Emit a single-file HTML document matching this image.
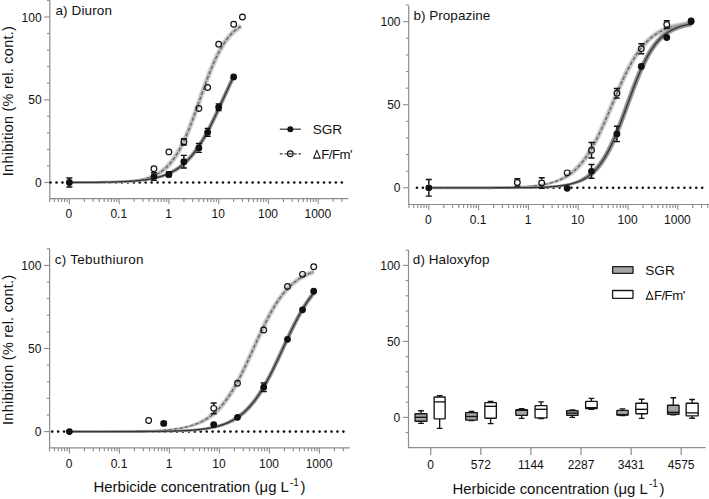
<!DOCTYPE html><html><head><meta charset="utf-8"><style>html,body{margin:0;padding:0;background:#fff;}svg{display:block;}</style></head><body>
<svg width="709" height="499" viewBox="0 0 709 499" font-family='"Liberation Sans", sans-serif' fill="#111">
<rect width="709" height="499" fill="#fff"/>
<line x1="49.8" y1="0" x2="49.8" y2="199.29999999999998" stroke="#8c8c8c" stroke-width="1.2"/>
<line x1="47.0" y1="0.45" x2="49.8" y2="0.45" stroke="#8c8c8c" stroke-width="1.1"/>
<line x1="44.199999999999996" y1="17.00" x2="49.8" y2="17.00" stroke="#8c8c8c" stroke-width="1.1"/>
<text x="41.599999999999994" y="21.60" text-anchor="end" font-size="12">100</text>
<line x1="47.0" y1="33.55" x2="49.8" y2="33.55" stroke="#8c8c8c" stroke-width="1.1"/>
<line x1="47.0" y1="50.10" x2="49.8" y2="50.10" stroke="#8c8c8c" stroke-width="1.1"/>
<line x1="47.0" y1="66.65" x2="49.8" y2="66.65" stroke="#8c8c8c" stroke-width="1.1"/>
<line x1="47.0" y1="83.20" x2="49.8" y2="83.20" stroke="#8c8c8c" stroke-width="1.1"/>
<line x1="44.199999999999996" y1="99.75" x2="49.8" y2="99.75" stroke="#8c8c8c" stroke-width="1.1"/>
<text x="41.599999999999994" y="104.35" text-anchor="end" font-size="12">50</text>
<line x1="47.0" y1="116.30" x2="49.8" y2="116.30" stroke="#8c8c8c" stroke-width="1.1"/>
<line x1="47.0" y1="132.85" x2="49.8" y2="132.85" stroke="#8c8c8c" stroke-width="1.1"/>
<line x1="47.0" y1="149.40" x2="49.8" y2="149.40" stroke="#8c8c8c" stroke-width="1.1"/>
<line x1="47.0" y1="165.95" x2="49.8" y2="165.95" stroke="#8c8c8c" stroke-width="1.1"/>
<line x1="44.199999999999996" y1="182.50" x2="49.8" y2="182.50" stroke="#8c8c8c" stroke-width="1.1"/>
<text x="41.599999999999994" y="187.10" text-anchor="end" font-size="12">0</text>
<line x1="49.199999999999996" y1="198.7" x2="348.3" y2="198.7" stroke="#8c8c8c" stroke-width="1.2"/>
<line x1="49.55" y1="198.7" x2="49.55" y2="202.1" stroke="#8c8c8c" stroke-width="1.15"/>
<line x1="54.38" y1="198.7" x2="54.38" y2="202.1" stroke="#8c8c8c" stroke-width="1.15"/>
<line x1="58.32" y1="198.7" x2="58.32" y2="202.1" stroke="#8c8c8c" stroke-width="1.15"/>
<line x1="61.65" y1="198.7" x2="61.65" y2="202.1" stroke="#8c8c8c" stroke-width="1.15"/>
<line x1="64.54" y1="198.7" x2="64.54" y2="202.1" stroke="#8c8c8c" stroke-width="1.15"/>
<line x1="67.08" y1="198.7" x2="67.08" y2="202.1" stroke="#8c8c8c" stroke-width="1.15"/>
<line x1="69.36" y1="198.7" x2="69.36" y2="204.29999999999998" stroke="#8c8c8c" stroke-width="1.1"/>
<text x="68.96" y="218.29999999999998" text-anchor="middle" font-size="12">0</text>
<line x1="84.34" y1="198.7" x2="84.34" y2="202.1" stroke="#8c8c8c" stroke-width="1.15"/>
<line x1="93.11" y1="198.7" x2="93.11" y2="202.1" stroke="#8c8c8c" stroke-width="1.15"/>
<line x1="99.32" y1="198.7" x2="99.32" y2="202.1" stroke="#8c8c8c" stroke-width="1.15"/>
<line x1="104.15" y1="198.7" x2="104.15" y2="202.1" stroke="#8c8c8c" stroke-width="1.15"/>
<line x1="108.09" y1="198.7" x2="108.09" y2="202.1" stroke="#8c8c8c" stroke-width="1.15"/>
<line x1="111.42" y1="198.7" x2="111.42" y2="202.1" stroke="#8c8c8c" stroke-width="1.15"/>
<line x1="114.31" y1="198.7" x2="114.31" y2="202.1" stroke="#8c8c8c" stroke-width="1.15"/>
<line x1="116.85" y1="198.7" x2="116.85" y2="202.1" stroke="#8c8c8c" stroke-width="1.15"/>
<line x1="119.13" y1="198.7" x2="119.13" y2="204.29999999999998" stroke="#8c8c8c" stroke-width="1.1"/>
<text x="118.73" y="218.29999999999998" text-anchor="middle" font-size="12">0.1</text>
<line x1="134.11" y1="198.7" x2="134.11" y2="202.1" stroke="#8c8c8c" stroke-width="1.15"/>
<line x1="142.88" y1="198.7" x2="142.88" y2="202.1" stroke="#8c8c8c" stroke-width="1.15"/>
<line x1="149.09" y1="198.7" x2="149.09" y2="202.1" stroke="#8c8c8c" stroke-width="1.15"/>
<line x1="153.92" y1="198.7" x2="153.92" y2="202.1" stroke="#8c8c8c" stroke-width="1.15"/>
<line x1="157.86" y1="198.7" x2="157.86" y2="202.1" stroke="#8c8c8c" stroke-width="1.15"/>
<line x1="161.19" y1="198.7" x2="161.19" y2="202.1" stroke="#8c8c8c" stroke-width="1.15"/>
<line x1="164.08" y1="198.7" x2="164.08" y2="202.1" stroke="#8c8c8c" stroke-width="1.15"/>
<line x1="166.62" y1="198.7" x2="166.62" y2="202.1" stroke="#8c8c8c" stroke-width="1.15"/>
<line x1="168.90" y1="198.7" x2="168.90" y2="204.29999999999998" stroke="#8c8c8c" stroke-width="1.1"/>
<text x="168.50" y="218.29999999999998" text-anchor="middle" font-size="12">1</text>
<line x1="183.88" y1="198.7" x2="183.88" y2="202.1" stroke="#8c8c8c" stroke-width="1.15"/>
<line x1="192.65" y1="198.7" x2="192.65" y2="202.1" stroke="#8c8c8c" stroke-width="1.15"/>
<line x1="198.86" y1="198.7" x2="198.86" y2="202.1" stroke="#8c8c8c" stroke-width="1.15"/>
<line x1="203.69" y1="198.7" x2="203.69" y2="202.1" stroke="#8c8c8c" stroke-width="1.15"/>
<line x1="207.63" y1="198.7" x2="207.63" y2="202.1" stroke="#8c8c8c" stroke-width="1.15"/>
<line x1="210.96" y1="198.7" x2="210.96" y2="202.1" stroke="#8c8c8c" stroke-width="1.15"/>
<line x1="213.85" y1="198.7" x2="213.85" y2="202.1" stroke="#8c8c8c" stroke-width="1.15"/>
<line x1="216.39" y1="198.7" x2="216.39" y2="202.1" stroke="#8c8c8c" stroke-width="1.15"/>
<line x1="218.67" y1="198.7" x2="218.67" y2="204.29999999999998" stroke="#8c8c8c" stroke-width="1.1"/>
<text x="218.27" y="218.29999999999998" text-anchor="middle" font-size="12">10</text>
<line x1="233.65" y1="198.7" x2="233.65" y2="202.1" stroke="#8c8c8c" stroke-width="1.15"/>
<line x1="242.42" y1="198.7" x2="242.42" y2="202.1" stroke="#8c8c8c" stroke-width="1.15"/>
<line x1="248.63" y1="198.7" x2="248.63" y2="202.1" stroke="#8c8c8c" stroke-width="1.15"/>
<line x1="253.46" y1="198.7" x2="253.46" y2="202.1" stroke="#8c8c8c" stroke-width="1.15"/>
<line x1="257.40" y1="198.7" x2="257.40" y2="202.1" stroke="#8c8c8c" stroke-width="1.15"/>
<line x1="260.73" y1="198.7" x2="260.73" y2="202.1" stroke="#8c8c8c" stroke-width="1.15"/>
<line x1="263.62" y1="198.7" x2="263.62" y2="202.1" stroke="#8c8c8c" stroke-width="1.15"/>
<line x1="266.16" y1="198.7" x2="266.16" y2="202.1" stroke="#8c8c8c" stroke-width="1.15"/>
<line x1="268.44" y1="198.7" x2="268.44" y2="204.29999999999998" stroke="#8c8c8c" stroke-width="1.1"/>
<text x="268.04" y="218.29999999999998" text-anchor="middle" font-size="12">100</text>
<line x1="283.42" y1="198.7" x2="283.42" y2="202.1" stroke="#8c8c8c" stroke-width="1.15"/>
<line x1="292.19" y1="198.7" x2="292.19" y2="202.1" stroke="#8c8c8c" stroke-width="1.15"/>
<line x1="298.40" y1="198.7" x2="298.40" y2="202.1" stroke="#8c8c8c" stroke-width="1.15"/>
<line x1="303.23" y1="198.7" x2="303.23" y2="202.1" stroke="#8c8c8c" stroke-width="1.15"/>
<line x1="307.17" y1="198.7" x2="307.17" y2="202.1" stroke="#8c8c8c" stroke-width="1.15"/>
<line x1="310.50" y1="198.7" x2="310.50" y2="202.1" stroke="#8c8c8c" stroke-width="1.15"/>
<line x1="313.39" y1="198.7" x2="313.39" y2="202.1" stroke="#8c8c8c" stroke-width="1.15"/>
<line x1="315.93" y1="198.7" x2="315.93" y2="202.1" stroke="#8c8c8c" stroke-width="1.15"/>
<line x1="318.21" y1="198.7" x2="318.21" y2="204.29999999999998" stroke="#8c8c8c" stroke-width="1.1"/>
<text x="317.81" y="218.29999999999998" text-anchor="middle" font-size="12">1000</text>
<line x1="333.19" y1="198.7" x2="333.19" y2="202.1" stroke="#8c8c8c" stroke-width="1.15"/>
<line x1="341.96" y1="198.7" x2="341.96" y2="202.1" stroke="#8c8c8c" stroke-width="1.15"/>
<g fill="#111"><circle cx="341.80" cy="182.50" r="1.3"/><circle cx="335.86" cy="182.50" r="1.3"/><circle cx="329.91" cy="182.50" r="1.3"/><circle cx="323.97" cy="182.50" r="1.3"/><circle cx="318.03" cy="182.50" r="1.3"/><circle cx="312.09" cy="182.50" r="1.3"/><circle cx="306.14" cy="182.50" r="1.3"/><circle cx="300.20" cy="182.50" r="1.3"/><circle cx="294.26" cy="182.50" r="1.3"/><circle cx="288.31" cy="182.50" r="1.3"/><circle cx="282.37" cy="182.50" r="1.3"/><circle cx="276.43" cy="182.50" r="1.3"/><circle cx="270.48" cy="182.50" r="1.3"/><circle cx="264.54" cy="182.50" r="1.3"/><circle cx="258.60" cy="182.50" r="1.3"/><circle cx="252.66" cy="182.50" r="1.3"/><circle cx="246.71" cy="182.50" r="1.3"/><circle cx="240.77" cy="182.50" r="1.3"/><circle cx="234.83" cy="182.50" r="1.3"/><circle cx="228.88" cy="182.50" r="1.3"/><circle cx="222.94" cy="182.50" r="1.3"/><circle cx="217.00" cy="182.50" r="1.3"/><circle cx="211.05" cy="182.50" r="1.3"/><circle cx="205.11" cy="182.50" r="1.3"/><circle cx="199.17" cy="182.50" r="1.3"/><circle cx="193.23" cy="182.50" r="1.3"/><circle cx="187.28" cy="182.50" r="1.3"/><circle cx="181.34" cy="182.50" r="1.3"/><circle cx="175.40" cy="182.50" r="1.3"/><circle cx="169.45" cy="182.50" r="1.3"/><circle cx="163.51" cy="182.50" r="1.3"/><circle cx="157.57" cy="182.50" r="1.3"/><circle cx="151.62" cy="182.50" r="1.3"/><circle cx="145.68" cy="182.50" r="1.3"/><circle cx="139.74" cy="182.50" r="1.3"/><circle cx="133.79" cy="182.50" r="1.3"/><circle cx="127.85" cy="182.50" r="1.3"/><circle cx="121.91" cy="182.50" r="1.3"/><circle cx="115.97" cy="182.50" r="1.3"/><circle cx="110.02" cy="182.50" r="1.3"/><circle cx="104.08" cy="182.50" r="1.3"/><circle cx="98.14" cy="182.50" r="1.3"/><circle cx="92.19" cy="182.50" r="1.3"/><circle cx="86.25" cy="182.50" r="1.3"/><circle cx="80.31" cy="182.50" r="1.3"/><circle cx="74.37" cy="182.50" r="1.3"/><circle cx="68.42" cy="182.50" r="1.3"/><circle cx="62.48" cy="182.50" r="1.3"/><circle cx="56.54" cy="182.50" r="1.3"/><circle cx="50.59" cy="182.50" r="1.3"/></g>
<polygon points="69.36,183.78 69.94,183.78 70.51,183.78 71.08,183.78 71.66,183.78 72.23,183.77 72.81,183.77 73.38,183.77 73.95,183.77 74.53,183.77 75.10,183.77 75.67,183.77 76.25,183.77 76.82,183.76 77.40,183.76 77.97,183.76 78.54,183.76 79.12,183.76 79.69,183.76 80.27,183.76 80.84,183.75 81.41,183.75 81.99,183.75 82.56,183.75 83.14,183.75 83.71,183.74 84.28,183.74 84.86,183.74 85.43,183.74 86.01,183.73 86.58,183.73 87.15,183.73 87.73,183.73 88.30,183.72 88.88,183.72 89.45,183.72 90.02,183.71 90.60,183.71 91.17,183.71 91.75,183.70 92.32,183.70 92.90,183.69 93.47,183.69 94.04,183.68 94.62,183.68 95.19,183.68 95.77,183.67 96.34,183.66 96.91,183.66 97.49,183.65 98.06,183.65 98.64,183.64 99.21,183.64 99.79,183.63 100.36,183.62 100.94,183.61 101.51,183.61 102.08,183.60 102.66,183.59 103.23,183.58 103.81,183.57 104.38,183.57 104.96,183.56 105.53,183.55 106.11,183.54 106.68,183.53 107.26,183.51 107.83,183.50 108.41,183.49 108.98,183.48 109.56,183.47 110.13,183.45 110.71,183.44 111.28,183.42 111.86,183.41 112.43,183.39 113.01,183.38 113.58,183.36 114.16,183.34 114.73,183.33 115.31,183.31 115.88,183.29 116.46,183.27 117.03,183.25 117.61,183.22 118.19,183.20 118.76,183.18 119.34,183.15 119.91,183.13 120.49,183.10 121.07,183.07 121.64,183.04 122.22,183.01 122.80,182.98 123.37,182.95 123.95,182.92 124.53,182.88 125.10,182.84 125.68,182.81 126.26,182.77 126.84,182.73 127.41,182.68 127.99,182.64 128.57,182.59 129.15,182.55 129.73,182.50 130.31,182.45 130.89,182.39 131.46,182.34 132.04,182.28 132.62,182.22 133.20,182.16 133.78,182.10 134.36,182.03 134.94,181.96 135.52,181.89 136.11,181.81 136.69,181.74 137.27,181.66 137.85,181.57 138.43,181.49 139.02,181.40 139.60,181.30 140.18,181.21 140.77,181.11 141.35,181.00 141.94,180.90 142.53,180.78 143.11,180.67 143.70,180.55 144.29,180.42 144.88,180.30 145.47,180.16 146.06,180.02 146.65,179.88 147.24,179.73 147.83,179.58 148.43,179.42 149.02,179.25 149.62,179.08 150.22,178.90 150.81,178.71 151.41,178.52 152.02,178.32 152.62,178.12 153.22,177.90 153.83,177.68 154.44,177.45 155.05,177.21 155.66,176.96 156.27,176.70 156.88,176.44 157.50,176.16 158.12,175.87 158.74,175.57 159.36,175.26 159.99,174.94 160.61,174.60 161.24,174.25 161.87,173.89 162.50,173.51 163.13,173.12 163.76,172.71 164.39,172.28 165.02,171.84 165.66,171.38 166.29,170.90 166.92,170.40 167.54,169.88 168.16,169.33 168.78,168.77 169.39,168.18 170.00,167.56 170.60,166.93 171.20,166.27 171.80,165.60 172.40,164.90 173.00,164.19 173.60,163.45 174.20,162.70 174.80,161.92 175.39,161.12 175.99,160.30 176.58,159.46 177.17,158.59 177.77,157.71 178.36,156.79 178.95,155.86 179.54,154.90 180.13,153.92 180.72,152.92 181.31,151.89 181.89,150.84 182.48,149.76 183.07,148.66 183.65,147.53 184.24,146.39 184.82,145.21 185.40,144.02 185.99,142.80 186.57,141.55 187.15,140.29 187.73,139.00 188.31,137.68 188.89,136.35 189.47,134.99 190.05,133.61 190.63,132.22 191.21,130.80 191.79,129.36 192.37,127.90 192.95,126.43 193.52,124.93 194.10,123.42 194.68,121.90 195.26,120.36 195.83,118.81 196.41,117.24 196.98,115.66 197.56,114.07 198.14,112.47 198.71,110.87 199.29,109.25 199.86,107.63 200.44,106.01 201.01,104.38 201.58,102.75 202.16,101.12 202.73,99.49 203.31,97.86 203.88,96.23 204.45,94.61 205.03,92.99 205.60,91.38 206.17,89.78 206.74,88.19 207.31,86.60 207.89,85.03 208.46,83.47 209.03,81.92 209.60,80.39 210.17,78.87 210.74,77.37 211.31,75.89 211.88,74.42 212.45,72.98 213.02,71.55 213.59,70.15 214.16,68.76 214.72,67.40 215.29,66.06 215.86,64.74 216.43,63.45 216.99,62.18 217.56,60.93 218.12,59.71 218.69,58.52 219.25,57.34 219.82,56.20 220.38,55.08 220.94,53.98 221.51,52.91 222.07,51.87 222.63,50.85 223.19,49.85 223.75,48.89 224.31,47.94 224.86,47.02 225.42,46.13 225.98,45.26 226.53,44.41 227.09,43.59 227.64,42.79 228.19,42.02 228.75,41.27 229.30,40.54 229.85,39.83 230.40,39.14 230.95,38.48 231.49,37.83 232.04,37.21 232.59,36.60 233.13,36.02 233.68,35.45 234.22,34.90 234.76,34.37 235.31,33.86 235.85,33.36 236.39,32.88 236.93,32.42 237.47,31.97 238.01,31.54 238.55,31.12 239.09,30.72 239.62,30.33 240.16,29.95 240.70,29.58 241.24,29.23 241.78,28.89 242.33,28.55 239.52,23.94 238.93,24.31 238.32,24.69 237.71,25.09 237.10,25.50 236.49,25.93 235.88,26.37 235.27,26.83 234.66,27.30 234.05,27.79 233.45,28.29 232.84,28.81 232.23,29.35 231.63,29.91 231.02,30.48 230.42,31.07 229.81,31.68 229.21,32.31 228.61,32.95 228.01,33.62 227.40,34.30 226.80,35.01 226.21,35.74 225.61,36.48 225.01,37.25 224.41,38.04 223.82,38.85 223.22,39.69 222.63,40.54 222.04,41.42 221.45,42.32 220.85,43.25 220.26,44.19 219.67,45.17 219.09,46.16 218.50,47.18 217.91,48.22 217.32,49.29 216.74,50.38 216.15,51.49 215.57,52.63 214.98,53.79 214.40,54.98 213.81,56.19 213.23,57.42 212.65,58.68 212.07,59.96 211.49,61.27 210.91,62.59 210.33,63.94 209.75,65.31 209.17,66.70 208.59,68.11 208.01,69.54 207.43,70.99 206.85,72.46 206.27,73.94 205.70,75.44 205.12,76.96 204.54,78.50 203.97,80.04 203.39,81.61 202.81,83.18 202.24,84.76 201.66,86.36 201.09,87.96 200.51,89.57 199.94,91.19 199.36,92.81 198.79,94.44 198.21,96.07 197.64,97.70 197.06,99.33 196.49,100.96 195.92,102.59 195.34,104.21 194.77,105.83 194.20,107.44 193.63,109.05 193.05,110.65 192.48,112.24 191.91,113.82 191.34,115.38 190.77,116.93 190.20,118.47 189.63,120.00 189.06,121.50 188.48,122.99 187.91,124.47 187.35,125.92 186.78,127.35 186.21,128.77 185.64,130.16 185.07,131.53 184.50,132.88 183.94,134.21 183.37,135.51 182.80,136.79 182.24,138.05 181.67,139.28 181.10,140.49 180.54,141.67 179.98,142.83 179.41,143.96 178.85,145.06 178.29,146.14 177.73,147.20 177.16,148.23 176.60,149.23 176.04,150.21 175.49,151.17 174.93,152.10 174.37,153.00 173.81,153.88 173.26,154.74 172.70,155.57 172.15,156.38 171.59,157.16 171.04,157.92 170.49,158.66 169.94,159.38 169.39,160.07 168.84,160.75 168.29,161.40 167.75,162.03 167.20,162.65 166.65,163.24 166.11,163.82 165.57,164.37 165.03,164.92 164.50,165.45 163.97,165.97 163.45,166.48 162.93,166.98 162.42,167.46 161.90,167.94 161.38,168.40 160.87,168.85 160.35,169.28 159.84,169.71 159.32,170.12 158.80,170.52 158.28,170.90 157.76,171.28 157.24,171.64 156.71,171.99 156.18,172.33 155.65,172.66 155.12,172.98 154.59,173.29 154.05,173.59 153.52,173.87 152.98,174.15 152.44,174.42 151.90,174.68 151.35,174.92 150.81,175.16 150.26,175.39 149.72,175.62 149.17,175.83 148.62,176.04 148.07,176.24 147.51,176.43 146.96,176.61 146.41,176.79 145.85,176.96 145.29,177.12 144.74,177.28 144.18,177.43 143.62,177.58 143.06,177.72 142.50,177.86 141.94,177.99 141.38,178.11 140.81,178.23 140.25,178.35 139.69,178.46 139.13,178.56 138.56,178.67 138.00,178.77 137.43,178.86 136.87,178.95 136.30,179.04 135.73,179.12 135.17,179.20 134.60,179.28 134.03,179.36 133.47,179.43 132.90,179.50 132.33,179.56 131.76,179.63 131.20,179.69 130.63,179.75 130.06,179.80 129.49,179.86 128.92,179.91 128.35,179.96 127.78,180.01 127.21,180.05 126.64,180.10 126.07,180.14 125.50,180.18 124.93,180.22 124.36,180.26 123.79,180.30 123.22,180.33 122.65,180.37 122.08,180.40 121.51,180.43 120.94,180.46 120.36,180.49 119.79,180.52 119.22,180.54 118.65,180.57 118.08,180.59 117.51,180.62 116.94,180.64 116.36,180.66 115.79,180.68 115.22,180.70 114.65,180.72 114.08,180.74 113.50,180.76 112.93,180.77 112.36,180.79 111.79,180.81 111.21,180.82 110.64,180.84 110.07,180.85 109.50,180.86 108.92,180.88 108.35,180.89 107.78,180.90 107.21,180.91 106.63,180.92 106.06,180.93 105.49,180.94 104.91,180.95 104.34,180.96 103.77,180.97 103.19,180.98 102.62,180.99 102.05,181.00 101.48,181.01 100.90,181.01 100.33,181.02 99.76,181.03 99.18,181.03 98.61,181.04 98.04,181.05 97.46,181.05 96.89,181.06 96.32,181.06 95.74,181.07 95.17,181.07 94.60,181.08 94.02,181.08 93.45,181.09 92.88,181.09 92.30,181.10 91.73,181.10 91.16,181.10 90.58,181.11 90.01,181.11 89.44,181.12 88.86,181.12 88.29,181.12 87.71,181.12 87.14,181.13 86.57,181.13 85.99,181.13 85.42,181.14 84.85,181.14 84.27,181.14 83.70,181.14 83.13,181.15 82.55,181.15 81.98,181.15 81.41,181.15 80.83,181.15 80.26,181.16 79.68,181.16 79.11,181.16 78.54,181.16 77.96,181.16 77.39,181.16 76.82,181.16 76.24,181.17 75.67,181.17 75.10,181.17 74.52,181.17 73.95,181.17 73.37,181.17 72.80,181.17 72.23,181.17 71.65,181.18 71.08,181.18 70.51,181.18 69.93,181.18 69.36,181.18" fill="#d8d8d8"/>
<polygon points="69.36,183.28 69.94,183.28 70.51,183.28 71.08,183.28 71.66,183.28 72.23,183.28 72.80,183.28 73.38,183.28 73.95,183.28 74.53,183.28 75.10,183.27 75.67,183.27 76.25,183.27 76.82,183.27 77.40,183.27 77.97,183.27 78.54,183.27 79.12,183.26 79.69,183.26 80.26,183.26 80.84,183.26 81.41,183.26 81.99,183.26 82.56,183.25 83.13,183.25 83.71,183.25 84.28,183.25 84.86,183.24 85.43,183.24 86.00,183.24 86.58,183.24 87.15,183.23 87.73,183.23 88.30,183.23 88.87,183.22 89.45,183.22 90.02,183.22 90.60,183.21 91.17,183.21 91.74,183.21 92.32,183.20 92.89,183.20 93.47,183.19 94.04,183.19 94.61,183.19 95.19,183.18 95.76,183.18 96.34,183.17 96.91,183.17 97.48,183.16 98.06,183.15 98.63,183.15 99.21,183.14 99.78,183.13 100.35,183.13 100.93,183.12 101.50,183.11 102.08,183.11 102.65,183.10 103.23,183.09 103.80,183.08 104.37,183.07 104.95,183.06 105.52,183.05 106.10,183.04 106.67,183.03 107.25,183.02 107.82,183.01 108.40,183.00 108.97,182.98 109.54,182.97 110.12,182.96 110.69,182.94 111.27,182.93 111.84,182.92 112.42,182.90 112.99,182.88 113.57,182.87 114.14,182.85 114.72,182.83 115.29,182.81 115.87,182.79 116.44,182.77 117.02,182.75 117.59,182.73 118.17,182.70 118.74,182.68 119.32,182.66 119.89,182.63 120.47,182.60 121.04,182.58 121.62,182.55 122.19,182.52 122.77,182.48 123.34,182.45 123.92,182.42 124.50,182.38 125.07,182.35 125.65,182.31 126.22,182.27 126.80,182.23 127.38,182.18 127.95,182.14 128.53,182.09 129.11,182.05 129.68,182.00 130.26,181.94 130.84,181.89 131.41,181.83 131.99,181.78 132.57,181.72 133.15,181.65 133.72,181.59 134.30,181.52 134.88,181.45 135.46,181.38 136.04,181.30 136.61,181.22 137.19,181.14 137.77,181.06 138.35,180.97 138.93,180.88 139.51,180.78 140.09,180.69 140.67,180.58 141.25,180.48 141.83,180.37 142.41,180.25 143.00,180.13 143.58,180.01 144.16,179.88 144.74,179.75 145.33,179.61 145.91,179.47 146.50,179.32 147.08,179.17 147.67,179.01 148.25,178.85 148.84,178.68 149.43,178.50 150.02,178.32 150.61,178.12 151.20,177.93 151.79,177.72 152.38,177.51 152.97,177.29 153.57,177.06 154.16,176.82 154.76,176.57 155.35,176.32 155.95,176.05 156.55,175.78 157.15,175.49 157.75,175.20 158.35,174.89 158.96,174.57 159.56,174.24 160.17,173.90 160.78,173.54 161.38,173.17 161.99,172.79 162.60,172.39 163.21,171.98 163.82,171.55 164.43,171.10 165.04,170.64 165.65,170.15 166.26,169.66 166.86,169.14 167.47,168.60 168.07,168.04 168.67,167.45 169.26,166.85 169.85,166.23 170.44,165.58 171.03,164.92 171.62,164.24 172.21,163.54 172.80,162.81 173.39,162.07 173.98,161.30 174.57,160.51 175.15,159.70 175.74,158.87 176.33,158.02 176.91,157.14 177.50,156.24 178.08,155.32 178.66,154.37 179.25,153.40 179.83,152.40 180.41,151.38 180.99,150.34 181.58,149.27 182.16,148.18 182.74,147.06 183.32,145.92 183.90,144.76 184.48,143.57 185.06,142.36 185.64,141.12 186.22,139.86 186.80,138.58 187.37,137.27 187.95,135.94 188.53,134.59 189.11,133.22 189.68,131.83 190.26,130.41 190.84,128.98 191.41,127.52 191.99,126.05 192.57,124.56 193.14,123.06 193.72,121.54 194.29,120.00 194.87,118.45 195.45,116.89 196.02,115.31 196.60,113.72 197.17,112.13 197.75,110.52 198.32,108.91 198.89,107.29 199.47,105.67 200.04,104.04 200.62,102.41 201.19,100.78 201.76,99.15 202.34,97.52 202.91,95.89 203.49,94.27 204.06,92.65 204.63,91.04 205.20,89.43 205.78,87.84 206.35,86.25 206.92,84.68 207.49,83.11 208.07,81.57 208.64,80.03 209.21,78.51 209.78,77.01 210.35,75.52 210.93,74.05 211.50,72.60 212.07,71.17 212.64,69.76 213.21,68.37 213.78,67.00 214.35,65.66 214.92,64.33 215.49,63.03 216.06,61.76 216.63,60.51 217.19,59.28 217.76,58.07 218.33,56.90 218.90,55.74 219.47,54.61 220.03,53.51 220.60,52.43 221.17,51.38 221.73,50.35 222.30,49.35 222.86,48.37 223.43,47.41 223.99,46.49 224.55,45.58 225.12,44.70 225.68,43.84 226.24,43.01 226.80,42.20 227.36,41.42 227.92,40.65 228.48,39.91 229.04,39.19 229.60,38.49 230.16,37.82 230.72,37.16 231.27,36.53 231.83,35.91 232.39,35.31 232.94,34.73 233.50,34.17 234.05,33.63 234.61,33.11 235.16,32.60 235.71,32.11 236.27,31.64 236.82,31.18 237.37,30.73 237.92,30.31 238.48,29.89 239.03,29.49 239.58,29.10 240.13,28.73 240.68,28.37 241.23,28.02 241.80,27.68 240.05,24.82 239.47,25.18 238.87,25.55 238.28,25.94 237.68,26.35 237.08,26.76 236.49,27.20 235.89,27.64 235.30,28.11 234.70,28.58 234.11,29.08 233.51,29.59 232.92,30.11 232.33,30.66 231.73,31.22 231.14,31.80 230.55,32.39 229.95,33.01 229.36,33.65 228.77,34.30 228.18,34.97 227.59,35.67 227.00,36.38 226.41,37.12 225.83,37.88 225.24,38.65 224.65,39.45 224.06,40.28 223.48,41.12 222.89,41.99 222.31,42.88 221.72,43.79 221.14,44.73 220.55,45.69 219.97,46.68 219.39,47.69 218.81,48.72 218.22,49.78 217.64,50.86 217.06,51.97 216.48,53.10 215.90,54.25 215.32,55.43 214.74,56.63 214.16,57.86 213.58,59.11 213.00,60.38 212.43,61.68 211.85,63.00 211.27,64.34 210.69,65.70 210.11,67.09 209.54,68.50 208.96,69.92 208.38,71.37 207.81,72.83 207.23,74.31 206.66,75.81 206.08,77.33 205.50,78.86 204.93,80.40 204.35,81.96 203.78,83.53 203.20,85.11 202.63,86.70 202.05,88.31 201.48,89.92 200.90,91.53 200.33,93.15 199.75,94.78 199.18,96.41 198.61,98.04 198.03,99.67 197.46,101.30 196.89,102.93 196.31,104.55 195.74,106.17 195.17,107.79 194.59,109.40 194.02,111.00 193.45,112.59 192.87,114.17 192.30,115.73 191.73,117.29 191.16,118.83 190.59,120.36 190.01,121.87 189.44,123.36 188.87,124.84 188.30,126.30 187.73,127.74 187.16,129.15 186.59,130.55 186.02,131.93 185.45,133.28 184.88,134.62 184.31,135.93 183.74,137.21 183.17,138.47 182.60,139.71 182.03,140.93 181.46,142.12 180.90,143.28 180.33,144.42 179.76,145.53 179.20,146.62 178.63,147.69 178.06,148.72 177.50,149.74 176.93,150.73 176.37,151.69 175.80,152.63 175.24,153.54 174.68,154.43 174.11,155.30 173.55,156.14 172.99,156.96 172.43,157.76 171.87,158.53 171.31,159.28 170.75,160.01 170.19,160.72 169.63,161.40 169.07,162.07 168.52,162.71 167.96,163.34 167.40,163.94 166.85,164.53 166.29,165.09 165.74,165.65 165.20,166.19 164.65,166.71 164.11,167.23 163.57,167.72 163.03,168.21 162.49,168.68 161.96,169.14 161.42,169.58 160.88,170.01 160.34,170.43 159.80,170.83 159.26,171.23 158.72,171.61 158.18,171.97 157.64,172.33 157.10,172.67 156.55,173.01 156.00,173.33 155.46,173.64 154.91,173.94 154.36,174.23 153.81,174.51 153.26,174.78 152.70,175.04 152.15,175.29 151.59,175.53 151.04,175.76 150.48,175.99 149.92,176.21 149.37,176.41 148.81,176.62 148.25,176.81 147.69,177.00 147.13,177.18 146.56,177.35 146.00,177.51 145.44,177.68 144.87,177.83 144.31,177.98 143.75,178.12 143.18,178.26 142.62,178.39 142.05,178.52 141.48,178.64 140.92,178.76 140.35,178.87 139.78,178.98 139.22,179.08 138.65,179.19 138.08,179.28 137.51,179.38 136.94,179.46 136.37,179.55 135.81,179.63 135.24,179.71 134.67,179.79 134.10,179.86 133.53,179.93 132.96,180.00 132.39,180.07 131.82,180.13 131.25,180.19 130.68,180.25 130.11,180.31 129.53,180.36 128.96,180.41 128.39,180.46 127.82,180.51 127.25,180.55 126.68,180.60 126.11,180.64 125.54,180.68 124.96,180.72 124.39,180.76 123.82,180.79 123.25,180.83 122.68,180.86 122.11,180.89 121.53,180.93 120.96,180.96 120.39,180.98 119.82,181.01 119.24,181.04 118.67,181.06 118.10,181.09 117.53,181.11 116.95,181.13 116.38,181.16 115.81,181.18 115.24,181.20 114.66,181.22 114.09,181.23 113.52,181.25 112.95,181.27 112.37,181.29 111.80,181.30 111.23,181.32 110.65,181.33 110.08,181.34 109.51,181.36 108.93,181.37 108.36,181.38 107.79,181.40 107.21,181.41 106.64,181.42 106.07,181.43 105.50,181.44 104.92,181.45 104.35,181.46 103.78,181.47 103.20,181.48 102.63,181.48 102.06,181.49 101.48,181.50 100.91,181.51 100.34,181.52 99.76,181.52 99.19,181.53 98.61,181.54 98.04,181.54 97.47,181.55 96.89,181.55 96.32,181.56 95.75,181.56 95.17,181.57 94.60,181.57 94.03,181.58 93.45,181.58 92.88,181.59 92.31,181.59 91.73,181.60 91.16,181.60 90.59,181.60 90.01,181.61 89.44,181.61 88.86,181.61 88.29,181.62 87.72,181.62 87.14,181.62 86.57,181.62 86.00,181.63 85.42,181.63 84.85,181.63 84.28,181.63 83.70,181.64 83.13,181.64 82.55,181.64 81.98,181.64 81.41,181.65 80.83,181.65 80.26,181.65 79.69,181.65 79.11,181.65 78.54,181.65 77.96,181.66 77.39,181.66 76.82,181.66 76.24,181.66 75.67,181.66 75.10,181.66 74.52,181.66 73.95,181.66 73.38,181.67 72.80,181.67 72.23,181.67 71.65,181.67 71.08,181.67 70.51,181.67 69.93,181.67 69.36,181.67" fill="#bdbdbd"/>
<polyline points="69.36,182.48 69.93,182.48 70.51,182.48 71.08,182.48 71.66,182.48 72.23,182.47 72.80,182.47 73.38,182.47 73.95,182.47 74.52,182.47 75.10,182.47 75.67,182.47 76.25,182.47 76.82,182.46 77.39,182.46 77.97,182.46 78.54,182.46 79.11,182.46 79.69,182.46 80.26,182.46 80.84,182.45 81.41,182.45 81.98,182.45 82.56,182.45 83.13,182.45 83.70,182.44 84.28,182.44 84.85,182.44 85.43,182.44 86.00,182.43 86.57,182.43 87.15,182.43 87.72,182.43 88.30,182.42 88.87,182.42 89.44,182.42 90.02,182.41 90.59,182.41 91.16,182.41 91.74,182.40 92.31,182.40 92.89,182.39 93.46,182.39 94.03,182.38 94.61,182.38 95.18,182.37 95.75,182.37 96.33,182.36 96.90,182.36 97.48,182.35 98.05,182.35 98.62,182.34 99.20,182.34 99.77,182.33 100.34,182.32 100.92,182.31 101.49,182.31 102.07,182.30 102.64,182.29 103.21,182.28 103.79,182.27 104.36,182.27 104.94,182.26 105.51,182.25 106.08,182.24 106.66,182.22 107.23,182.21 107.80,182.20 108.38,182.19 108.95,182.18 109.53,182.17 110.10,182.15 110.67,182.14 111.25,182.12 111.82,182.11 112.39,182.09 112.97,182.08 113.54,182.06 114.12,182.04 114.69,182.02 115.26,182.00 115.84,181.98 116.41,181.96 116.99,181.94 117.56,181.92 118.13,181.90 118.71,181.87 119.28,181.85 119.85,181.82 120.43,181.79 121.00,181.77 121.58,181.74 122.15,181.71 122.72,181.67 123.30,181.64 123.87,181.61 124.44,181.57 125.02,181.53 125.59,181.49 126.17,181.45 126.74,181.41 127.31,181.37 127.89,181.32 128.46,181.28 129.03,181.23 129.61,181.18 130.18,181.12 130.76,181.07 131.33,181.01 131.90,180.95 132.48,180.89 133.05,180.83 133.63,180.76 134.20,180.69 134.77,180.62 135.35,180.55 135.92,180.47 136.49,180.39 137.07,180.30 137.64,180.22 138.22,180.13 138.79,180.03 139.36,179.93 139.94,179.83 140.51,179.73 141.08,179.62 141.66,179.50 142.23,179.39 142.81,179.26 143.38,179.14 143.95,179.00 144.53,178.87 145.10,178.72 145.67,178.57 146.25,178.42 146.82,178.26 147.40,178.09 147.97,177.92 148.54,177.74 149.12,177.56 149.69,177.36 150.27,177.17 150.84,176.96 151.41,176.74 151.99,176.52 152.56,176.29 153.13,176.05 153.71,175.80 154.28,175.54 154.86,175.27 155.43,175.00 156.00,174.71 156.58,174.41 157.15,174.10 157.72,173.78 158.30,173.45 158.87,173.11 159.45,172.75 160.02,172.38 160.59,172.00 161.17,171.61 161.74,171.20 162.31,170.78 162.89,170.34 163.46,169.89 164.04,169.42 164.61,168.94 165.18,168.44 165.76,167.93 166.33,167.39 166.91,166.84 167.48,166.27 168.05,165.69 168.63,165.08 169.20,164.46 169.77,163.82 170.35,163.15 170.92,162.47 171.50,161.76 172.07,161.04 172.64,160.29 173.22,159.52 173.79,158.73 174.36,157.92 174.94,157.08 175.51,156.22 176.09,155.34 176.66,154.43 177.23,153.50 177.81,152.54 178.38,151.57 178.96,150.56 179.53,149.53 180.10,148.48 180.68,147.40 181.25,146.30 181.82,145.17 182.40,144.02 182.97,142.84 183.55,141.64 184.12,140.42 184.69,139.17 185.27,137.89 185.84,136.60 186.41,135.28 186.99,133.94 187.56,132.57 188.14,131.19 188.71,129.78 189.28,128.36 189.86,126.91 190.43,125.45 191.00,123.96 191.58,122.46 192.15,120.95 192.73,119.42 193.30,117.87 193.87,116.31 194.45,114.74 195.02,113.16 195.60,111.56 196.17,109.96 196.74,108.35 197.32,106.73 197.89,105.11 198.46,103.48 199.04,101.86 199.61,100.22 200.19,98.59 200.76,96.96 201.33,95.34 201.91,93.71 202.48,92.09 203.05,90.48 203.63,88.87 204.20,87.27 204.78,85.68 205.35,84.10 205.92,82.54 206.50,80.98 207.07,79.44 207.64,77.92 208.22,76.41 208.79,74.91 209.37,73.44 209.94,71.98 210.51,70.54 211.09,69.13 211.66,67.73 212.24,66.35 212.81,65.00 213.38,63.67 213.96,62.36 214.53,61.07 215.10,59.81 215.68,58.57 216.25,57.35 216.83,56.16 217.40,55.00 217.97,53.85 218.55,52.74 219.12,51.65 219.69,50.58 220.27,49.53 220.84,48.52 221.42,47.52 221.99,46.55 222.56,45.61 223.14,44.69 223.71,43.79 224.28,42.92 224.86,42.07 225.43,41.24 226.01,40.44 226.58,39.65 227.15,38.89 227.73,38.16 228.30,37.44 228.88,36.74 229.45,36.07 230.02,35.41 230.60,34.78 231.17,34.16 231.74,33.56 232.32,32.99 232.89,32.43 233.47,31.88 234.04,31.36 234.61,30.85 235.19,30.36 235.76,29.88 236.33,29.42 236.91,28.97 237.48,28.54 238.06,28.13 238.63,27.73 239.20,27.34 239.78,26.96 240.35,26.60 240.93,26.25" fill="none" stroke="#626262" stroke-width="1.3" stroke-dasharray="3.6 1.9"/>
<polygon points="69.36,183.80 69.91,183.80 70.46,183.80 71.01,183.80 71.56,183.79 72.11,183.79 72.66,183.79 73.21,183.79 73.76,183.79 74.31,183.79 74.86,183.78 75.41,183.78 75.96,183.78 76.51,183.78 77.06,183.78 77.61,183.77 78.16,183.77 78.71,183.77 79.26,183.77 79.81,183.76 80.36,183.76 80.91,183.76 81.46,183.76 82.00,183.75 82.55,183.75 83.10,183.75 83.65,183.74 84.20,183.74 84.75,183.74 85.30,183.74 85.85,183.73 86.40,183.73 86.95,183.72 87.50,183.72 88.05,183.72 88.60,183.71 89.15,183.71 89.70,183.71 90.25,183.70 90.80,183.70 91.35,183.69 91.90,183.69 92.45,183.68 93.00,183.68 93.55,183.67 94.10,183.67 94.65,183.66 95.20,183.66 95.75,183.65 96.30,183.64 96.85,183.64 97.40,183.63 97.95,183.63 98.50,183.62 99.05,183.61 99.60,183.61 100.15,183.60 100.70,183.59 101.25,183.58 101.80,183.58 102.35,183.57 102.90,183.56 103.45,183.55 104.00,183.54 104.55,183.53 105.10,183.52 105.65,183.51 106.20,183.50 106.75,183.49 107.30,183.48 107.85,183.47 108.40,183.46 108.95,183.45 109.50,183.44 110.05,183.43 110.60,183.41 111.15,183.40 111.70,183.39 112.25,183.38 112.80,183.36 113.35,183.35 113.90,183.33 114.45,183.32 115.01,183.30 115.56,183.29 116.11,183.27 116.66,183.25 117.21,183.23 117.76,183.22 118.31,183.20 118.86,183.18 119.41,183.16 119.96,183.14 120.51,183.12 121.06,183.10 121.62,183.07 122.17,183.05 122.72,183.03 123.27,183.00 123.82,182.98 124.37,182.95 124.92,182.93 125.47,182.90 126.03,182.87 126.58,182.85 127.13,182.82 127.68,182.79 128.23,182.76 128.78,182.72 129.34,182.69 129.89,182.66 130.44,182.62 130.99,182.59 131.54,182.55 132.10,182.51 132.65,182.47 133.20,182.43 133.75,182.39 134.31,182.35 134.86,182.31 135.41,182.26 135.96,182.22 136.52,182.17 137.07,182.12 137.62,182.07 138.18,182.02 138.73,181.97 139.28,181.91 139.84,181.86 140.39,181.80 140.94,181.74 141.50,181.68 142.05,181.62 142.61,181.55 143.16,181.49 143.72,181.42 144.27,181.35 144.83,181.28 145.38,181.20 145.94,181.13 146.49,181.05 147.05,180.97 147.60,180.89 148.16,180.80 148.72,180.72 149.27,180.63 149.83,180.53 150.39,180.44 150.94,180.34 151.50,180.24 152.06,180.14 152.62,180.04 153.18,179.93 153.73,179.82 154.29,179.70 154.85,179.59 155.41,179.47 155.97,179.34 156.53,179.21 157.09,179.08 157.65,178.95 158.21,178.81 158.78,178.67 159.34,178.52 159.90,178.38 160.46,178.22 161.03,178.06 161.59,177.90 162.16,177.74 162.72,177.56 163.29,177.39 163.85,177.21 164.42,177.02 164.99,176.83 165.55,176.64 166.12,176.44 166.69,176.23 167.26,176.02 167.83,175.80 168.40,175.58 168.97,175.35 169.54,175.11 170.12,174.87 170.69,174.62 171.26,174.36 171.84,174.10 172.41,173.83 172.99,173.55 173.56,173.27 174.14,172.97 174.71,172.67 175.29,172.36 175.87,172.04 176.44,171.72 177.02,171.38 177.60,171.03 178.17,170.68 178.75,170.31 179.33,169.93 179.90,169.55 180.47,169.15 181.05,168.74 181.62,168.32 182.19,167.88 182.76,167.44 183.33,166.98 183.89,166.52 184.46,166.04 185.03,165.55 185.60,165.05 186.16,164.54 186.73,164.02 187.30,163.49 187.86,162.94 188.43,162.39 188.99,161.82 189.56,161.24 190.12,160.65 190.69,160.05 191.25,159.43 191.81,158.80 192.38,158.16 192.94,157.51 193.50,156.84 194.07,156.16 194.63,155.47 195.19,154.77 195.75,154.05 196.31,153.32 196.87,152.58 197.43,151.82 197.99,151.05 198.55,150.27 199.11,149.47 199.67,148.66 200.23,147.84 200.79,147.01 201.34,146.16 201.90,145.30 202.46,144.42 203.02,143.53 203.57,142.63 204.13,141.72 204.69,140.79 205.24,139.85 205.80,138.90 206.35,137.94 206.91,136.96 207.46,135.97 208.02,134.97 208.57,133.96 209.13,132.94 209.68,131.90 210.23,130.86 210.79,129.80 211.34,128.73 211.89,127.66 212.45,126.57 213.00,125.47 213.55,124.37 214.11,123.26 214.66,122.13 215.21,121.00 215.76,119.86 216.31,118.72 216.87,117.56 217.42,116.40 217.97,115.24 218.52,114.07 219.07,112.89 219.62,111.71 220.17,110.52 220.72,109.34 221.27,108.14 221.82,106.95 222.37,105.75 222.92,104.55 223.47,103.35 224.02,102.15 224.57,100.94 225.12,99.74 225.67,98.54 226.22,97.34 226.77,96.14 227.32,94.95 227.87,93.75 228.42,92.56 228.96,91.38 229.51,90.19 230.06,89.02 230.61,87.84 231.16,86.68 231.70,85.51 232.25,84.36 232.80,83.21 233.35,82.07 233.89,80.94 234.44,79.81 234.99,78.70 235.54,77.59 231.77,75.73 231.22,76.84 230.67,77.97 230.11,79.11 229.56,80.25 229.01,81.40 228.46,82.56 227.91,83.72 227.36,84.89 226.81,86.06 226.25,87.24 225.70,88.42 225.15,89.61 224.60,90.80 224.05,92.00 223.50,93.19 222.95,94.39 222.40,95.59 221.85,96.79 221.30,98.00 220.75,99.20 220.20,100.40 219.65,101.60 219.11,102.80 218.56,104.00 218.01,105.19 217.46,106.38 216.91,107.57 216.36,108.76 215.81,109.94 215.27,111.11 214.72,112.28 214.17,113.45 213.62,114.60 213.07,115.76 212.53,116.90 211.98,118.04 211.43,119.16 210.89,120.28 210.34,121.40 209.79,122.50 209.25,123.59 208.70,124.67 208.16,125.75 207.61,126.81 207.06,127.86 206.52,128.90 205.97,129.93 205.43,130.95 204.88,131.95 204.34,132.94 203.80,133.93 203.25,134.89 202.71,135.85 202.16,136.79 201.62,137.72 201.08,138.64 200.54,139.55 199.99,140.44 199.45,141.31 198.91,142.18 198.37,143.03 197.83,143.86 197.29,144.69 196.74,145.50 196.20,146.29 195.66,147.07 195.12,147.84 194.58,148.60 194.05,149.34 193.51,150.06 192.97,150.78 192.43,151.48 191.89,152.17 191.36,152.84 190.82,153.50 190.28,154.15 189.75,154.78 189.21,155.40 188.67,156.01 188.14,156.61 187.60,157.19 187.07,157.76 186.53,158.32 186.00,158.87 185.47,159.41 184.93,159.93 184.40,160.44 183.87,160.95 183.34,161.44 182.80,161.91 182.27,162.38 181.74,162.84 181.21,163.29 180.68,163.72 180.15,164.15 179.62,164.57 179.09,164.98 178.56,165.38 178.03,165.77 177.51,166.16 176.99,166.54 176.46,166.91 175.94,167.28 175.42,167.63 174.90,167.98 174.37,168.32 173.85,168.66 173.33,168.99 172.81,169.31 172.28,169.62 171.76,169.93 171.24,170.22 170.71,170.52 170.19,170.80 169.66,171.08 169.14,171.35 168.61,171.62 168.09,171.88 167.56,172.13 167.03,172.37 166.50,172.61 165.97,172.85 165.44,173.08 164.91,173.30 164.38,173.52 163.85,173.73 163.32,173.93 162.79,174.13 162.25,174.33 161.72,174.52 161.19,174.70 160.65,174.88 160.12,175.06 159.58,175.23 159.05,175.39 158.51,175.56 157.97,175.71 157.44,175.87 156.90,176.02 156.36,176.16 155.82,176.30 155.28,176.44 154.74,176.57 154.20,176.70 153.66,176.83 153.12,176.95 152.58,177.07 152.04,177.18 151.50,177.30 150.96,177.41 150.42,177.51 149.88,177.62 149.34,177.72 148.79,177.81 148.25,177.91 147.71,178.00 147.17,178.09 146.62,178.18 146.08,178.26 145.54,178.34 144.99,178.42 144.45,178.50 143.91,178.58 143.36,178.65 142.82,178.72 142.27,178.79 141.73,178.86 141.18,178.92 140.64,178.99 140.09,179.05 139.55,179.11 139.00,179.17 138.46,179.22 137.91,179.28 137.37,179.33 136.82,179.39 136.27,179.44 135.73,179.48 135.18,179.53 134.64,179.58 134.09,179.62 133.54,179.67 133.00,179.71 132.45,179.75 131.90,179.79 131.36,179.83 130.81,179.87 130.26,179.90 129.72,179.94 129.17,179.97 128.62,180.01 128.07,180.04 127.53,180.07 126.98,180.10 126.43,180.13 125.89,180.16 125.34,180.19 124.79,180.22 124.24,180.24 123.70,180.27 123.15,180.30 122.60,180.32 122.05,180.34 121.50,180.37 120.96,180.39 120.41,180.41 119.86,180.43 119.31,180.45 118.76,180.47 118.22,180.49 117.67,180.51 117.12,180.53 116.57,180.55 116.02,180.56 115.48,180.58 114.93,180.60 114.38,180.61 113.83,180.63 113.28,180.64 112.73,180.66 112.18,180.67 111.64,180.69 111.09,180.70 110.54,180.71 109.99,180.72 109.44,180.74 108.89,180.75 108.34,180.76 107.80,180.77 107.25,180.78 106.70,180.79 106.15,180.80 105.60,180.81 105.05,180.82 104.50,180.83 103.95,180.84 103.41,180.85 102.86,180.86 102.31,180.87 101.76,180.87 101.21,180.88 100.66,180.89 100.11,180.90 99.56,180.91 99.01,180.91 98.47,180.92 97.92,180.93 97.37,180.93 96.82,180.94 96.27,180.94 95.72,180.95 95.17,180.96 94.62,180.96 94.07,180.97 93.52,180.97 92.98,180.98 92.43,180.98 91.88,180.99 91.33,180.99 90.78,181.00 90.23,181.00 89.68,181.00 89.13,181.01 88.58,181.01 88.03,181.02 87.48,181.02 86.93,181.02 86.38,181.03 85.84,181.03 85.29,181.03 84.74,181.04 84.19,181.04 83.64,181.04 83.09,181.05 82.54,181.05 81.99,181.05 81.44,181.06 80.89,181.06 80.34,181.06 79.79,181.06 79.24,181.07 78.70,181.07 78.15,181.07 77.60,181.07 77.05,181.08 76.50,181.08 75.95,181.08 75.40,181.08 74.85,181.08 74.30,181.09 73.75,181.09 73.20,181.09 72.65,181.09 72.10,181.09 71.55,181.09 71.00,181.10 70.46,181.10 69.91,181.10 69.36,181.10" fill="#ababab"/>
<polygon points="69.36,183.40 69.91,183.39 70.46,183.39 71.01,183.39 71.56,183.39 72.11,183.39 72.66,183.39 73.21,183.38 73.76,183.38 74.31,183.38 74.86,183.38 75.41,183.38 75.96,183.37 76.51,183.37 77.06,183.37 77.61,183.37 78.16,183.37 78.71,183.36 79.25,183.36 79.80,183.36 80.35,183.36 80.90,183.35 81.45,183.35 82.00,183.35 82.55,183.35 83.10,183.34 83.65,183.34 84.20,183.34 84.75,183.33 85.30,183.33 85.85,183.33 86.40,183.32 86.95,183.32 87.50,183.32 88.05,183.31 88.60,183.31 89.15,183.30 89.70,183.30 90.25,183.30 90.80,183.29 91.35,183.29 91.90,183.28 92.45,183.28 93.00,183.27 93.55,183.27 94.10,183.26 94.65,183.26 95.19,183.25 95.74,183.25 96.29,183.24 96.84,183.23 97.39,183.23 97.94,183.22 98.49,183.21 99.04,183.21 99.59,183.20 100.14,183.19 100.69,183.19 101.24,183.18 101.79,183.17 102.34,183.16 102.89,183.15 103.44,183.15 103.99,183.14 104.54,183.13 105.09,183.12 105.64,183.11 106.19,183.10 106.74,183.09 107.29,183.08 107.84,183.07 108.39,183.06 108.94,183.05 109.49,183.03 110.04,183.02 110.59,183.01 111.14,183.00 111.69,182.98 112.24,182.97 112.79,182.96 113.34,182.94 113.89,182.93 114.44,182.91 114.99,182.90 115.54,182.88 116.09,182.86 116.64,182.85 117.19,182.83 117.75,182.81 118.30,182.79 118.85,182.77 119.40,182.75 119.95,182.73 120.50,182.71 121.05,182.69 121.60,182.67 122.15,182.65 122.70,182.62 123.25,182.60 123.80,182.57 124.35,182.55 124.90,182.52 125.45,182.49 126.00,182.47 126.56,182.44 127.11,182.41 127.66,182.38 128.21,182.35 128.76,182.32 129.31,182.28 129.86,182.25 130.41,182.21 130.96,182.18 131.52,182.14 132.07,182.10 132.62,182.06 133.17,182.02 133.72,181.98 134.27,181.94 134.83,181.90 135.38,181.85 135.93,181.81 136.48,181.76 137.03,181.71 137.58,181.66 138.14,181.61 138.69,181.55 139.24,181.50 139.79,181.44 140.35,181.39 140.90,181.33 141.45,181.27 142.00,181.20 142.56,181.14 143.11,181.07 143.66,181.00 144.22,180.93 144.77,180.86 145.32,180.79 145.88,180.71 146.43,180.63 146.98,180.55 147.54,180.47 148.09,180.38 148.65,180.29 149.20,180.20 149.76,180.11 150.31,180.02 150.87,179.92 151.42,179.82 151.98,179.71 152.53,179.61 153.09,179.50 153.64,179.39 154.20,179.27 154.75,179.15 155.31,179.03 155.87,178.91 156.43,178.78 156.98,178.65 157.54,178.51 158.10,178.37 158.66,178.23 159.21,178.08 159.77,177.93 160.33,177.77 160.89,177.61 161.45,177.45 162.01,177.28 162.57,177.11 163.13,176.93 163.69,176.75 164.25,176.56 164.82,176.37 165.38,176.17 165.94,175.97 166.50,175.76 167.07,175.54 167.63,175.32 168.19,175.10 168.76,174.86 169.32,174.63 169.89,174.38 170.46,174.13 171.02,173.87 171.59,173.61 172.16,173.33 172.72,173.05 173.29,172.77 173.86,172.47 174.43,172.17 175.00,171.86 175.56,171.54 176.13,171.21 176.70,170.87 177.27,170.52 177.84,170.17 178.41,169.80 178.97,169.42 179.54,169.04 180.11,168.64 180.67,168.24 181.24,167.82 181.80,167.39 182.37,166.95 182.93,166.49 183.49,166.03 184.05,165.56 184.62,165.08 185.18,164.58 185.74,164.08 186.30,163.56 186.86,163.03 187.42,162.49 187.98,161.94 188.54,161.38 189.10,160.80 189.66,160.22 190.22,159.62 190.78,159.01 191.34,158.38 191.90,157.75 192.46,157.10 193.02,156.44 193.58,155.76 194.14,155.08 194.69,154.38 195.25,153.67 195.81,152.94 196.37,152.20 196.92,151.45 197.48,150.68 198.04,149.91 198.59,149.11 199.15,148.31 199.71,147.49 200.26,146.66 200.82,145.81 201.37,144.96 201.93,144.08 202.48,143.20 203.04,142.30 203.59,141.39 204.14,140.47 204.70,139.53 205.25,138.59 205.81,137.62 206.36,136.65 206.91,135.67 207.47,134.67 208.02,133.66 208.57,132.64 209.12,131.61 209.68,130.56 210.23,129.51 210.78,128.45 211.33,127.37 211.89,126.29 212.44,125.19 212.99,124.09 213.54,122.98 214.09,121.86 214.64,120.73 215.19,119.59 215.75,118.44 216.30,117.29 216.85,116.13 217.40,114.97 217.95,113.80 218.50,112.62 219.05,111.44 219.60,110.26 220.15,109.07 220.70,107.88 221.25,106.68 221.80,105.49 222.35,104.29 222.90,103.09 223.45,101.88 224.00,100.68 224.55,99.48 225.10,98.28 225.65,97.08 226.20,95.88 226.75,94.68 227.29,93.49 227.84,92.30 228.39,91.11 228.94,89.93 229.49,88.75 230.04,87.58 230.59,86.41 231.13,85.24 231.68,84.09 232.23,82.94 232.78,81.80 233.33,80.66 233.87,79.54 234.42,78.42 234.97,77.31 232.33,76.01 231.78,77.12 231.23,78.25 230.68,79.38 230.13,80.52 229.58,81.67 229.03,82.83 228.48,83.99 227.93,85.16 227.38,86.33 226.83,87.51 226.27,88.69 225.72,89.88 225.17,91.07 224.62,92.26 224.07,93.46 223.52,94.65 222.97,95.86 222.42,97.06 221.88,98.26 221.33,99.46 220.78,100.66 220.23,101.86 219.68,103.06 219.13,104.26 218.58,105.46 218.03,106.65 217.48,107.84 216.93,109.02 216.38,110.20 215.84,111.38 215.29,112.55 214.74,113.72 214.19,114.87 213.64,116.03 213.10,117.17 212.55,118.31 212.00,119.44 211.45,120.56 210.90,121.67 210.36,122.78 209.81,123.87 209.26,124.96 208.72,126.03 208.17,127.10 207.62,128.15 207.08,129.19 206.53,130.22 205.98,131.24 205.44,132.25 204.89,133.25 204.35,134.23 203.80,135.20 203.25,136.16 202.71,137.11 202.16,138.04 201.62,138.96 201.07,139.87 200.53,140.77 199.99,141.65 199.44,142.51 198.90,143.37 198.35,144.21 197.81,145.03 197.27,145.85 196.72,146.65 196.18,147.43 195.64,148.21 195.10,148.96 194.55,149.71 194.01,150.44 193.47,151.16 192.93,151.86 192.39,152.56 191.85,153.23 191.31,153.90 190.77,154.55 190.22,155.19 189.68,155.82 189.14,156.43 188.61,157.03 188.07,157.62 187.53,158.20 186.99,158.76 186.45,159.31 185.91,159.85 185.37,160.38 184.84,160.90 184.30,161.41 183.76,161.90 183.22,162.38 182.69,162.86 182.15,163.32 181.61,163.77 181.07,164.21 180.54,164.64 180.00,165.07 179.47,165.48 178.93,165.88 178.40,166.28 177.87,166.67 177.34,167.05 176.81,167.42 176.28,167.79 175.74,168.14 175.21,168.49 174.68,168.83 174.15,169.17 173.62,169.49 173.09,169.81 172.56,170.12 172.03,170.43 171.50,170.72 170.97,171.01 170.44,171.30 169.90,171.57 169.37,171.84 168.84,172.10 168.30,172.36 167.77,172.61 167.24,172.85 166.70,173.09 166.17,173.32 165.63,173.55 165.09,173.77 164.56,173.98 164.02,174.19 163.48,174.40 162.95,174.59 162.41,174.79 161.87,174.97 161.33,175.16 160.79,175.34 160.25,175.51 159.71,175.68 159.17,175.84 158.63,176.00 158.09,176.16 157.55,176.31 157.01,176.46 156.47,176.60 155.93,176.74 155.39,176.87 154.84,177.00 154.30,177.13 153.76,177.26 153.22,177.38 152.67,177.50 152.13,177.61 151.59,177.72 151.04,177.83 150.50,177.94 149.95,178.04 149.41,178.14 148.87,178.24 148.32,178.33 147.78,178.42 147.23,178.51 146.69,178.60 146.14,178.68 145.60,178.76 145.05,178.84 144.51,178.92 143.96,178.99 143.41,179.07 142.87,179.14 142.32,179.21 141.78,179.27 141.23,179.34 140.68,179.40 140.14,179.46 139.59,179.52 139.04,179.58 138.50,179.64 137.95,179.69 137.40,179.74 136.86,179.80 136.31,179.85 135.76,179.89 135.22,179.94 134.67,179.99 134.12,180.03 133.57,180.08 133.03,180.12 132.48,180.16 131.93,180.20 131.38,180.24 130.84,180.28 130.29,180.31 129.74,180.35 129.19,180.38 128.65,180.42 128.10,180.45 127.55,180.48 127.00,180.51 126.45,180.54 125.91,180.57 125.36,180.60 124.81,180.62 124.26,180.65 123.71,180.68 123.17,180.70 122.62,180.73 122.07,180.75 121.52,180.77 120.97,180.80 120.42,180.82 119.88,180.84 119.33,180.86 118.78,180.88 118.23,180.90 117.68,180.92 117.13,180.94 116.58,180.95 116.04,180.97 115.49,180.99 114.94,181.00 114.39,181.02 113.84,181.03 113.29,181.05 112.74,181.06 112.20,181.08 111.65,181.09 111.10,181.10 110.55,181.12 110.00,181.13 109.45,181.14 108.90,181.15 108.35,181.17 107.80,181.18 107.26,181.19 106.71,181.20 106.16,181.21 105.61,181.22 105.06,181.23 104.51,181.24 103.96,181.25 103.41,181.26 102.86,181.26 102.31,181.27 101.77,181.28 101.22,181.29 100.67,181.30 100.12,181.30 99.57,181.31 99.02,181.32 98.47,181.32 97.92,181.33 97.37,181.34 96.82,181.34 96.27,181.35 95.72,181.36 95.18,181.36 94.63,181.37 94.08,181.37 93.53,181.38 92.98,181.38 92.43,181.39 91.88,181.39 91.33,181.40 90.78,181.40 90.23,181.41 89.68,181.41 89.13,181.41 88.58,181.42 88.04,181.42 87.49,181.43 86.94,181.43 86.39,181.43 85.84,181.44 85.29,181.44 84.74,181.44 84.19,181.45 83.64,181.45 83.09,181.45 82.54,181.46 81.99,181.46 81.44,181.46 80.89,181.46 80.35,181.47 79.80,181.47 79.25,181.47 78.70,181.47 78.15,181.48 77.60,181.48 77.05,181.48 76.50,181.48 75.95,181.48 75.40,181.49 74.85,181.49 74.30,181.49 73.75,181.49 73.20,181.49 72.65,181.50 72.10,181.50 71.56,181.50 71.01,181.50 70.46,181.50 69.91,181.50 69.36,181.51" fill="#8e8e8e"/>
<polyline points="69.36,182.45 69.91,182.45 70.46,182.45 71.01,182.45 71.56,182.44 72.11,182.44 72.66,182.44 73.21,182.44 73.76,182.44 74.31,182.44 74.85,182.43 75.40,182.43 75.95,182.43 76.50,182.43 77.05,182.43 77.60,182.42 78.15,182.42 78.70,182.42 79.25,182.42 79.80,182.41 80.35,182.41 80.90,182.41 81.45,182.41 82.00,182.40 82.55,182.40 83.10,182.40 83.65,182.39 84.20,182.39 84.75,182.39 85.29,182.39 85.84,182.38 86.39,182.38 86.94,182.37 87.49,182.37 88.04,182.37 88.59,182.36 89.14,182.36 89.69,182.35 90.24,182.35 90.79,182.35 91.34,182.34 91.89,182.34 92.44,182.33 92.99,182.33 93.54,182.32 94.09,182.32 94.64,182.31 95.19,182.31 95.73,182.30 96.28,182.29 96.83,182.29 97.38,182.28 97.93,182.28 98.48,182.27 99.03,182.26 99.58,182.26 100.13,182.25 100.68,182.24 101.23,182.23 101.78,182.23 102.33,182.22 102.88,182.21 103.43,182.20 103.98,182.19 104.53,182.18 105.08,182.17 105.63,182.16 106.17,182.15 106.72,182.14 107.27,182.13 107.82,182.12 108.37,182.11 108.92,182.10 109.47,182.09 110.02,182.08 110.57,182.06 111.12,182.05 111.67,182.04 112.22,182.02 112.77,182.01 113.32,182.00 113.87,181.98 114.42,181.97 114.97,181.95 115.52,181.93 116.07,181.92 116.61,181.90 117.16,181.88 117.71,181.86 118.26,181.84 118.81,181.83 119.36,181.81 119.91,181.79 120.46,181.76 121.01,181.74 121.56,181.72 122.11,181.70 122.66,181.67 123.21,181.65 123.76,181.63 124.31,181.60 124.86,181.57 125.41,181.55 125.96,181.52 126.51,181.49 127.05,181.46 127.60,181.43 128.15,181.40 128.70,181.37 129.25,181.33 129.80,181.30 130.35,181.26 130.90,181.23 131.45,181.19 132.00,181.15 132.55,181.11 133.10,181.07 133.65,181.03 134.20,180.99 134.75,180.94 135.30,180.90 135.85,180.85 136.40,180.80 136.95,180.75 137.49,180.70 138.04,180.65 138.59,180.60 139.14,180.54 139.69,180.48 140.24,180.42 140.79,180.36 141.34,180.30 141.89,180.24 142.44,180.17 142.99,180.10 143.54,180.03 144.09,179.96 144.64,179.89 145.19,179.81 145.74,179.74 146.29,179.66 146.84,179.57 147.39,179.49 147.93,179.40 148.48,179.31 149.03,179.22 149.58,179.13 150.13,179.03 150.68,178.93 151.23,178.82 151.78,178.72 152.33,178.61 152.88,178.50 153.43,178.38 153.98,178.26 154.53,178.14 155.08,178.02 155.63,177.89 156.18,177.76 156.73,177.62 157.28,177.48 157.83,177.34 158.37,177.19 158.92,177.04 159.47,176.88 160.02,176.73 160.57,176.56 161.12,176.39 161.67,176.22 162.22,176.04 162.77,175.86 163.32,175.67 163.87,175.48 164.42,175.28 164.97,175.08 165.52,174.87 166.07,174.65 166.62,174.43 167.17,174.21 167.72,173.98 168.27,173.74 168.81,173.49 169.36,173.24 169.91,172.99 170.46,172.72 171.01,172.45 171.56,172.17 172.11,171.89 172.66,171.60 173.21,171.30 173.76,170.99 174.31,170.67 174.86,170.35 175.41,170.02 175.96,169.68 176.51,169.33 177.06,168.98 177.61,168.61 178.16,168.24 178.71,167.85 179.25,167.46 179.80,167.06 180.35,166.65 180.90,166.23 181.45,165.79 182.00,165.35 182.55,164.90 183.10,164.44 183.65,163.97 184.20,163.48 184.75,162.99 185.30,162.48 185.85,161.97 186.40,161.44 186.95,160.90 187.50,160.35 188.05,159.78 188.60,159.21 189.14,158.62 189.69,158.02 190.24,157.41 190.79,156.78 191.34,156.15 191.89,155.49 192.44,154.83 192.99,154.16 193.54,153.47 194.09,152.76 194.64,152.05 195.19,151.32 195.74,150.58 196.29,149.82 196.84,149.06 197.39,148.27 197.94,147.48 198.49,146.67 199.04,145.85 199.58,145.01 200.13,144.16 200.68,143.30 201.23,142.42 201.78,141.53 202.33,140.63 202.88,139.72 203.43,138.79 203.98,137.85 204.53,136.89 205.08,135.93 205.63,134.95 206.18,133.96 206.73,132.96 207.28,131.94 207.83,130.92 208.38,129.88 208.93,128.83 209.48,127.77 210.02,126.70 210.57,125.62 211.12,124.53 211.67,123.43 212.22,122.33 212.77,121.21 213.32,120.08 213.87,118.95 214.42,117.81 214.97,116.66 215.52,115.50 216.07,114.34 216.62,113.18 217.17,112.00 217.72,110.82 218.27,109.64 218.82,108.45 219.37,107.26 219.92,106.07 220.46,104.87 221.01,103.68 221.56,102.47 222.11,101.27 222.66,100.07 223.21,98.87 223.76,97.67 224.31,96.47 224.86,95.27 225.41,94.07 225.96,92.87 226.51,91.68 227.06,90.49 227.61,89.31 228.16,88.13 228.71,86.95 229.26,85.78 229.81,84.62 230.36,83.46 230.90,82.31 231.45,81.16 232.00,80.02 232.55,78.89 233.10,77.77 233.65,76.66" fill="none" stroke="#353535" stroke-width="1.3"/>
<circle cx="153.92" cy="168.68" r="2.85" fill="none" stroke="#111" stroke-width="1.2"/>
<circle cx="168.90" cy="151.88" r="2.85" fill="none" stroke="#111" stroke-width="1.2"/>
<path d="M180.88,138.64h6.0M180.88,144.93h6.0" stroke="#111" stroke-width="1.45" fill="none"/>
<circle cx="183.88" cy="141.79" r="2.85" fill="none" stroke="#111" stroke-width="1.2"/>
<circle cx="198.86" cy="108.52" r="2.85" fill="none" stroke="#111" stroke-width="1.2"/>
<circle cx="207.63" cy="87.50" r="2.85" fill="none" stroke="#111" stroke-width="1.2"/>
<circle cx="218.67" cy="44.14" r="2.85" fill="none" stroke="#111" stroke-width="1.2"/>
<circle cx="233.65" cy="24.28" r="2.85" fill="none" stroke="#111" stroke-width="1.2"/>
<circle cx="242.42" cy="17.00" r="2.85" fill="none" stroke="#111" stroke-width="1.2"/>
<path d="M66.36,178.03h6.0M66.36,186.97h6.0M69.36,178.03V179.10M69.36,185.90V186.97" stroke="#111" stroke-width="1.45" fill="none"/>
<circle cx="69.36" cy="182.50" r="3.4" fill="#111"/>
<path d="M150.92,172.74h6.0M150.92,180.35h6.0M153.92,172.74V173.14M153.92,179.94V180.35" stroke="#111" stroke-width="1.45" fill="none"/>
<circle cx="153.92" cy="176.54" r="3.4" fill="#111"/>
<path d="M165.90,171.91h6.0M165.90,176.87h6.0" stroke="#111" stroke-width="1.45" fill="none"/>
<circle cx="168.90" cy="174.39" r="3.4" fill="#111"/>
<path d="M180.88,155.36h6.0M180.88,167.94h6.0M183.88,155.36V158.25M183.88,165.05V167.94" stroke="#111" stroke-width="1.45" fill="none"/>
<circle cx="183.88" cy="161.65" r="3.4" fill="#111"/>
<path d="M195.86,143.44h6.0M195.86,152.38h6.0M198.86,143.44V144.51M198.86,151.31V152.38" stroke="#111" stroke-width="1.45" fill="none"/>
<circle cx="198.86" cy="147.91" r="3.4" fill="#111"/>
<path d="M204.63,128.38h6.0M204.63,136.33h6.0M207.63,128.38V128.95M207.63,135.75V136.33" stroke="#111" stroke-width="1.45" fill="none"/>
<circle cx="207.63" cy="132.35" r="3.4" fill="#111"/>
<path d="M215.67,103.89h6.0M215.67,110.51h6.0" stroke="#111" stroke-width="1.45" fill="none"/>
<circle cx="218.67" cy="107.20" r="3.4" fill="#111"/>
<circle cx="233.65" cy="76.91" r="3.4" fill="#111"/>
<text x="55.4" y="14.8" font-size="13.5" textLength="56.5" lengthAdjust="spacing">a) Diuron</text>
<line x1="279.8" y1="129.2" x2="300.9" y2="129.2" stroke="#444" stroke-width="1.3"/>
<circle cx="290.3" cy="129.2" r="3.0" fill="#111"/>
<line x1="279.8" y1="153.8" x2="300.9" y2="153.8" stroke="#333" stroke-width="1.3" stroke-dasharray="2.8 1.9"/>
<rect x="286.6" y="150.2" width="7.4" height="7.2" fill="#fff"/>
<circle cx="290.3" cy="153.8" r="2.85" fill="none" stroke="#111" stroke-width="1.2"/>
<line x1="288.3" y1="153.8" x2="292.3" y2="153.8" stroke="#333" stroke-width="1.2"/>
<text x="312.7" y="134" font-size="13.6">SGR</text>
<path d="M313.60,158.10L316.90,150.50L320.20,158.10Z" fill="none" stroke="#111" stroke-width="1.05" stroke-linejoin="miter"/>
<text x="321.20" y="158.6" font-size="13.2" textLength="31.3" lengthAdjust="spacing">F/Fm'</text>
<line x1="408.7" y1="5.4" x2="408.7" y2="205.1" stroke="#8c8c8c" stroke-width="1.2"/>
<line x1="405.9" y1="5.09" x2="408.7" y2="5.09" stroke="#8c8c8c" stroke-width="1.1"/>
<line x1="403.09999999999997" y1="21.70" x2="408.7" y2="21.70" stroke="#8c8c8c" stroke-width="1.1"/>
<text x="400.5" y="26.30" text-anchor="end" font-size="12">100</text>
<line x1="405.9" y1="38.31" x2="408.7" y2="38.31" stroke="#8c8c8c" stroke-width="1.1"/>
<line x1="405.9" y1="54.92" x2="408.7" y2="54.92" stroke="#8c8c8c" stroke-width="1.1"/>
<line x1="405.9" y1="71.53" x2="408.7" y2="71.53" stroke="#8c8c8c" stroke-width="1.1"/>
<line x1="405.9" y1="88.14" x2="408.7" y2="88.14" stroke="#8c8c8c" stroke-width="1.1"/>
<line x1="403.09999999999997" y1="104.75" x2="408.7" y2="104.75" stroke="#8c8c8c" stroke-width="1.1"/>
<text x="400.5" y="109.35" text-anchor="end" font-size="12">50</text>
<line x1="405.9" y1="121.36" x2="408.7" y2="121.36" stroke="#8c8c8c" stroke-width="1.1"/>
<line x1="405.9" y1="137.97" x2="408.7" y2="137.97" stroke="#8c8c8c" stroke-width="1.1"/>
<line x1="405.9" y1="154.58" x2="408.7" y2="154.58" stroke="#8c8c8c" stroke-width="1.1"/>
<line x1="405.9" y1="171.19" x2="408.7" y2="171.19" stroke="#8c8c8c" stroke-width="1.1"/>
<line x1="403.09999999999997" y1="187.80" x2="408.7" y2="187.80" stroke="#8c8c8c" stroke-width="1.1"/>
<text x="400.5" y="192.40" text-anchor="end" font-size="12">0</text>
<line x1="408.09999999999997" y1="204.5" x2="709" y2="204.5" stroke="#8c8c8c" stroke-width="1.2"/>
<line x1="408.98" y1="204.5" x2="408.98" y2="207.9" stroke="#8c8c8c" stroke-width="1.15"/>
<line x1="413.81" y1="204.5" x2="413.81" y2="207.9" stroke="#8c8c8c" stroke-width="1.15"/>
<line x1="417.75" y1="204.5" x2="417.75" y2="207.9" stroke="#8c8c8c" stroke-width="1.15"/>
<line x1="421.09" y1="204.5" x2="421.09" y2="207.9" stroke="#8c8c8c" stroke-width="1.15"/>
<line x1="423.97" y1="204.5" x2="423.97" y2="207.9" stroke="#8c8c8c" stroke-width="1.15"/>
<line x1="426.52" y1="204.5" x2="426.52" y2="207.9" stroke="#8c8c8c" stroke-width="1.15"/>
<line x1="428.80" y1="204.5" x2="428.80" y2="210.1" stroke="#8c8c8c" stroke-width="1.1"/>
<text x="428.40" y="224.1" text-anchor="middle" font-size="12">0</text>
<line x1="443.79" y1="204.5" x2="443.79" y2="207.9" stroke="#8c8c8c" stroke-width="1.15"/>
<line x1="452.56" y1="204.5" x2="452.56" y2="207.9" stroke="#8c8c8c" stroke-width="1.15"/>
<line x1="458.78" y1="204.5" x2="458.78" y2="207.9" stroke="#8c8c8c" stroke-width="1.15"/>
<line x1="463.61" y1="204.5" x2="463.61" y2="207.9" stroke="#8c8c8c" stroke-width="1.15"/>
<line x1="467.55" y1="204.5" x2="467.55" y2="207.9" stroke="#8c8c8c" stroke-width="1.15"/>
<line x1="470.89" y1="204.5" x2="470.89" y2="207.9" stroke="#8c8c8c" stroke-width="1.15"/>
<line x1="473.77" y1="204.5" x2="473.77" y2="207.9" stroke="#8c8c8c" stroke-width="1.15"/>
<line x1="476.32" y1="204.5" x2="476.32" y2="207.9" stroke="#8c8c8c" stroke-width="1.15"/>
<line x1="478.60" y1="204.5" x2="478.60" y2="210.1" stroke="#8c8c8c" stroke-width="1.1"/>
<text x="478.20" y="224.1" text-anchor="middle" font-size="12">0.1</text>
<line x1="493.59" y1="204.5" x2="493.59" y2="207.9" stroke="#8c8c8c" stroke-width="1.15"/>
<line x1="502.36" y1="204.5" x2="502.36" y2="207.9" stroke="#8c8c8c" stroke-width="1.15"/>
<line x1="508.58" y1="204.5" x2="508.58" y2="207.9" stroke="#8c8c8c" stroke-width="1.15"/>
<line x1="513.41" y1="204.5" x2="513.41" y2="207.9" stroke="#8c8c8c" stroke-width="1.15"/>
<line x1="517.35" y1="204.5" x2="517.35" y2="207.9" stroke="#8c8c8c" stroke-width="1.15"/>
<line x1="520.69" y1="204.5" x2="520.69" y2="207.9" stroke="#8c8c8c" stroke-width="1.15"/>
<line x1="523.57" y1="204.5" x2="523.57" y2="207.9" stroke="#8c8c8c" stroke-width="1.15"/>
<line x1="526.12" y1="204.5" x2="526.12" y2="207.9" stroke="#8c8c8c" stroke-width="1.15"/>
<line x1="528.40" y1="204.5" x2="528.40" y2="210.1" stroke="#8c8c8c" stroke-width="1.1"/>
<text x="528.00" y="224.1" text-anchor="middle" font-size="12">1</text>
<line x1="543.39" y1="204.5" x2="543.39" y2="207.9" stroke="#8c8c8c" stroke-width="1.15"/>
<line x1="552.16" y1="204.5" x2="552.16" y2="207.9" stroke="#8c8c8c" stroke-width="1.15"/>
<line x1="558.38" y1="204.5" x2="558.38" y2="207.9" stroke="#8c8c8c" stroke-width="1.15"/>
<line x1="563.21" y1="204.5" x2="563.21" y2="207.9" stroke="#8c8c8c" stroke-width="1.15"/>
<line x1="567.15" y1="204.5" x2="567.15" y2="207.9" stroke="#8c8c8c" stroke-width="1.15"/>
<line x1="570.49" y1="204.5" x2="570.49" y2="207.9" stroke="#8c8c8c" stroke-width="1.15"/>
<line x1="573.37" y1="204.5" x2="573.37" y2="207.9" stroke="#8c8c8c" stroke-width="1.15"/>
<line x1="575.92" y1="204.5" x2="575.92" y2="207.9" stroke="#8c8c8c" stroke-width="1.15"/>
<line x1="578.20" y1="204.5" x2="578.20" y2="210.1" stroke="#8c8c8c" stroke-width="1.1"/>
<text x="577.80" y="224.1" text-anchor="middle" font-size="12">10</text>
<line x1="593.19" y1="204.5" x2="593.19" y2="207.9" stroke="#8c8c8c" stroke-width="1.15"/>
<line x1="601.96" y1="204.5" x2="601.96" y2="207.9" stroke="#8c8c8c" stroke-width="1.15"/>
<line x1="608.18" y1="204.5" x2="608.18" y2="207.9" stroke="#8c8c8c" stroke-width="1.15"/>
<line x1="613.01" y1="204.5" x2="613.01" y2="207.9" stroke="#8c8c8c" stroke-width="1.15"/>
<line x1="616.95" y1="204.5" x2="616.95" y2="207.9" stroke="#8c8c8c" stroke-width="1.15"/>
<line x1="620.29" y1="204.5" x2="620.29" y2="207.9" stroke="#8c8c8c" stroke-width="1.15"/>
<line x1="623.17" y1="204.5" x2="623.17" y2="207.9" stroke="#8c8c8c" stroke-width="1.15"/>
<line x1="625.72" y1="204.5" x2="625.72" y2="207.9" stroke="#8c8c8c" stroke-width="1.15"/>
<line x1="628.00" y1="204.5" x2="628.00" y2="210.1" stroke="#8c8c8c" stroke-width="1.1"/>
<text x="627.60" y="224.1" text-anchor="middle" font-size="12">100</text>
<line x1="642.99" y1="204.5" x2="642.99" y2="207.9" stroke="#8c8c8c" stroke-width="1.15"/>
<line x1="651.76" y1="204.5" x2="651.76" y2="207.9" stroke="#8c8c8c" stroke-width="1.15"/>
<line x1="657.98" y1="204.5" x2="657.98" y2="207.9" stroke="#8c8c8c" stroke-width="1.15"/>
<line x1="662.81" y1="204.5" x2="662.81" y2="207.9" stroke="#8c8c8c" stroke-width="1.15"/>
<line x1="666.75" y1="204.5" x2="666.75" y2="207.9" stroke="#8c8c8c" stroke-width="1.15"/>
<line x1="670.09" y1="204.5" x2="670.09" y2="207.9" stroke="#8c8c8c" stroke-width="1.15"/>
<line x1="672.97" y1="204.5" x2="672.97" y2="207.9" stroke="#8c8c8c" stroke-width="1.15"/>
<line x1="675.52" y1="204.5" x2="675.52" y2="207.9" stroke="#8c8c8c" stroke-width="1.15"/>
<line x1="677.80" y1="204.5" x2="677.80" y2="210.1" stroke="#8c8c8c" stroke-width="1.1"/>
<text x="677.40" y="224.1" text-anchor="middle" font-size="12">1000</text>
<line x1="692.79" y1="204.5" x2="692.79" y2="207.9" stroke="#8c8c8c" stroke-width="1.15"/>
<line x1="701.56" y1="204.5" x2="701.56" y2="207.9" stroke="#8c8c8c" stroke-width="1.15"/>
<line x1="707.78" y1="204.5" x2="707.78" y2="207.9" stroke="#8c8c8c" stroke-width="1.15"/>
<g fill="#111"><circle cx="702.20" cy="187.80" r="1.3"/><circle cx="696.26" cy="187.80" r="1.3"/><circle cx="690.31" cy="187.80" r="1.3"/><circle cx="684.37" cy="187.80" r="1.3"/><circle cx="678.43" cy="187.80" r="1.3"/><circle cx="672.49" cy="187.80" r="1.3"/><circle cx="666.54" cy="187.80" r="1.3"/><circle cx="660.60" cy="187.80" r="1.3"/><circle cx="654.66" cy="187.80" r="1.3"/><circle cx="648.71" cy="187.80" r="1.3"/><circle cx="642.77" cy="187.80" r="1.3"/><circle cx="636.83" cy="187.80" r="1.3"/><circle cx="630.88" cy="187.80" r="1.3"/><circle cx="624.94" cy="187.80" r="1.3"/><circle cx="619.00" cy="187.80" r="1.3"/><circle cx="613.06" cy="187.80" r="1.3"/><circle cx="607.11" cy="187.80" r="1.3"/><circle cx="601.17" cy="187.80" r="1.3"/><circle cx="595.23" cy="187.80" r="1.3"/><circle cx="589.28" cy="187.80" r="1.3"/><circle cx="583.34" cy="187.80" r="1.3"/><circle cx="577.40" cy="187.80" r="1.3"/><circle cx="571.45" cy="187.80" r="1.3"/><circle cx="565.51" cy="187.80" r="1.3"/><circle cx="559.57" cy="187.80" r="1.3"/><circle cx="553.63" cy="187.80" r="1.3"/><circle cx="547.68" cy="187.80" r="1.3"/><circle cx="541.74" cy="187.80" r="1.3"/><circle cx="535.80" cy="187.80" r="1.3"/><circle cx="529.85" cy="187.80" r="1.3"/><circle cx="523.91" cy="187.80" r="1.3"/><circle cx="517.97" cy="187.80" r="1.3"/><circle cx="512.02" cy="187.80" r="1.3"/><circle cx="506.08" cy="187.80" r="1.3"/><circle cx="500.14" cy="187.80" r="1.3"/><circle cx="494.20" cy="187.80" r="1.3"/><circle cx="488.25" cy="187.80" r="1.3"/><circle cx="482.31" cy="187.80" r="1.3"/><circle cx="476.37" cy="187.80" r="1.3"/><circle cx="470.42" cy="187.80" r="1.3"/><circle cx="464.48" cy="187.80" r="1.3"/><circle cx="458.54" cy="187.80" r="1.3"/><circle cx="452.59" cy="187.80" r="1.3"/><circle cx="446.65" cy="187.80" r="1.3"/><circle cx="440.71" cy="187.80" r="1.3"/><circle cx="434.77" cy="187.80" r="1.3"/><circle cx="428.82" cy="187.80" r="1.3"/><circle cx="422.88" cy="187.80" r="1.3"/><circle cx="416.94" cy="187.80" r="1.3"/></g>
<polygon points="428.80,189.10 429.68,189.10 430.55,189.09 431.43,189.09 432.31,189.09 433.19,189.09 434.06,189.09 434.94,189.09 435.82,189.09 436.70,189.09 437.57,189.09 438.45,189.09 439.33,189.09 440.21,189.09 441.08,189.09 441.96,189.09 442.84,189.09 443.71,189.09 444.59,189.09 445.47,189.09 446.35,189.09 447.22,189.09 448.10,189.09 448.98,189.09 449.86,189.08 450.73,189.08 451.61,189.08 452.49,189.08 453.37,189.08 454.24,189.08 455.12,189.08 456.00,189.08 456.87,189.08 457.75,189.08 458.63,189.07 459.51,189.07 460.38,189.07 461.26,189.07 462.14,189.07 463.02,189.07 463.89,189.07 464.77,189.06 465.65,189.06 466.53,189.06 467.40,189.06 468.28,189.06 469.16,189.05 470.04,189.05 470.91,189.05 471.79,189.05 472.67,189.04 473.55,189.04 474.42,189.04 475.30,189.03 476.18,189.03 477.06,189.03 477.93,189.02 478.81,189.02 479.69,189.02 480.57,189.01 481.44,189.01 482.32,189.00 483.20,189.00 484.08,188.99 484.95,188.99 485.83,188.98 486.71,188.97 487.59,188.97 488.47,188.96 489.34,188.95 490.22,188.95 491.10,188.94 491.98,188.93 492.85,188.92 493.73,188.91 494.61,188.90 495.49,188.89 496.37,188.88 497.24,188.87 498.12,188.86 499.00,188.84 499.88,188.83 500.76,188.82 501.64,188.80 502.51,188.79 503.39,188.77 504.27,188.76 505.15,188.74 506.03,188.72 506.91,188.70 507.79,188.68 508.67,188.66 509.54,188.64 510.42,188.61 511.30,188.59 512.18,188.56 513.06,188.53 513.94,188.50 514.82,188.47 515.70,188.44 516.58,188.41 517.46,188.37 518.34,188.34 519.22,188.30 520.10,188.26 520.98,188.21 521.86,188.17 522.74,188.12 523.62,188.07 524.50,188.02 525.39,187.97 526.27,187.91 527.15,187.85 528.03,187.79 528.91,187.72 529.80,187.65 530.68,187.58 531.56,187.50 532.45,187.42 533.33,187.34 534.22,187.25 535.10,187.16 535.99,187.06 536.87,186.96 537.76,186.85 538.65,186.74 539.53,186.63 540.42,186.51 541.31,186.38 542.20,186.24 543.09,186.10 543.98,185.96 544.87,185.80 545.77,185.64 546.66,185.47 547.56,185.30 548.45,185.11 549.35,184.92 550.25,184.72 551.15,184.51 552.05,184.28 552.96,184.05 553.87,183.81 554.77,183.56 555.68,183.29 556.60,183.01 557.51,182.72 558.43,182.41 559.35,182.09 560.28,181.76 561.20,181.41 562.13,181.04 563.06,180.65 564.00,180.24 564.94,179.82 565.88,179.37 566.82,178.90 567.77,178.40 568.72,177.88 569.66,177.33 570.61,176.75 571.56,176.14 572.50,175.49 573.44,174.81 574.38,174.09 575.30,173.34 576.22,172.54 577.14,171.71 578.05,170.85 578.97,169.95 579.88,169.03 580.79,168.06 581.70,167.07 582.61,166.03 583.52,164.97 584.43,163.86 585.33,162.72 586.23,161.54 587.14,160.32 588.04,159.06 588.94,157.76 589.84,156.43 590.74,155.05 591.63,153.64 592.53,152.18 593.42,150.69 594.31,149.16 595.21,147.59 596.10,145.98 596.99,144.33 597.88,142.65 598.76,140.93 599.65,139.18 600.54,137.39 601.42,135.57 602.31,133.72 603.19,131.83 604.08,129.92 604.96,127.98 605.84,126.02 606.72,124.04 607.61,122.03 608.49,120.01 609.37,117.97 610.25,115.91 611.13,113.85 612.01,111.77 612.88,109.69 613.76,107.61 614.64,105.52 615.52,103.44 616.39,101.36 617.27,99.29 618.14,97.22 619.02,95.17 619.89,93.13 620.77,91.11 621.64,89.11 622.51,87.13 623.39,85.17 624.26,83.24 625.13,81.33 626.00,79.46 626.87,77.62 627.74,75.81 628.61,74.03 629.48,72.29 630.34,70.58 631.21,68.92 632.07,67.29 632.94,65.70 633.80,64.15 634.66,62.64 635.53,61.18 636.39,59.75 637.24,58.36 638.10,57.02 638.96,55.72 639.81,54.46 640.67,53.24 641.52,52.06 642.37,50.92 643.22,49.82 644.07,48.75 644.92,47.73 645.77,46.74 646.61,45.79 647.45,44.88 648.30,44.00 649.14,43.15 649.98,42.34 650.82,41.56 651.65,40.81 652.49,40.09 653.33,39.40 654.16,38.74 655.00,38.10 655.83,37.49 656.66,36.91 657.50,36.35 658.33,35.82 659.16,35.30 660.00,34.81 660.83,34.34 661.66,33.89 662.50,33.46 663.33,33.05 664.16,32.65 665.00,32.28 665.84,31.92 666.67,31.57 667.51,31.24 668.35,30.92 669.19,30.62 670.03,30.33 670.87,30.06 671.72,29.80 672.56,29.54 673.41,29.30 674.25,29.07 675.10,28.86 675.95,28.65 676.80,28.45 677.65,28.26 678.50,28.07 679.35,27.90 680.20,27.73 681.06,27.58 681.91,27.42 682.77,27.28 683.63,27.14 684.48,27.01 685.34,26.89 686.20,26.77 687.06,26.66 687.92,26.55 688.79,26.44 689.65,26.35 690.51,26.25 691.38,26.16 690.83,20.79 689.94,20.88 689.05,20.98 688.16,21.08 687.27,21.19 686.37,21.30 685.48,21.42 684.59,21.54 683.69,21.67 682.79,21.81 681.90,21.95 681.00,22.10 680.10,22.26 679.20,22.43 678.30,22.60 677.39,22.79 676.49,22.98 675.59,23.18 674.68,23.40 673.78,23.62 672.87,23.85 671.96,24.10 671.05,24.36 670.14,24.63 669.23,24.92 668.32,25.21 667.40,25.53 666.49,25.86 665.57,26.20 664.65,26.56 663.74,26.94 662.82,27.34 661.90,27.75 660.98,28.19 660.06,28.64 659.14,29.12 658.22,29.61 657.30,30.13 656.38,30.68 655.45,31.24 654.53,31.84 653.61,32.46 652.69,33.10 651.77,33.77 650.85,34.47 649.93,35.20 649.01,35.96 648.09,36.75 647.18,37.57 646.26,38.42 645.34,39.31 644.43,40.23 643.52,41.18 642.61,42.17 641.70,43.19 640.79,44.25 639.88,45.35 638.98,46.48 638.07,47.65 637.17,48.86 636.27,50.11 635.37,51.39 634.47,52.72 633.57,54.08 632.67,55.49 631.78,56.93 630.88,58.41 629.99,59.94 629.10,61.50 628.21,63.10 627.32,64.73 626.43,66.40 625.54,68.11 624.65,69.86 623.77,71.64 622.88,73.45 621.99,75.30 621.11,77.17 620.23,79.07 619.34,81.00 618.46,82.96 617.58,84.94 616.70,86.94 615.81,88.96 614.93,90.99 614.05,93.05 613.17,95.11 612.30,97.18 611.42,99.26 610.54,101.34 609.66,103.43 608.78,105.51 607.91,107.60 607.03,109.67 606.16,111.74 605.28,113.79 604.41,115.84 603.53,117.86 602.66,119.87 601.79,121.86 600.91,123.82 600.04,125.76 599.17,127.67 598.30,129.55 597.43,131.40 596.56,133.22 595.69,135.01 594.82,136.76 593.96,138.47 593.09,140.15 592.22,141.79 591.36,143.39 590.50,144.95 589.63,146.47 588.77,147.94 587.91,149.38 587.05,150.78 586.19,152.13 585.34,153.44 584.48,154.72 583.63,155.95 582.77,157.14 581.92,158.29 581.07,159.40 580.22,160.47 579.37,161.51 578.53,162.50 577.68,163.46 576.84,164.39 575.99,165.28 575.15,166.13 574.31,166.95 573.47,167.74 572.64,168.50 571.80,169.23 570.97,169.93 570.15,170.62 569.33,171.29 568.52,171.94 567.72,172.57 566.91,173.18 566.10,173.77 565.30,174.34 564.49,174.89 563.68,175.42 562.86,175.93 562.05,176.42 561.23,176.89 560.41,177.34 559.58,177.78 558.75,178.19 557.92,178.59 557.09,178.97 556.25,179.33 555.41,179.68 554.57,180.01 553.73,180.32 552.88,180.62 552.03,180.91 551.18,181.18 550.33,181.44 549.48,181.69 548.62,181.93 547.76,182.15 546.91,182.37 546.05,182.57 545.19,182.76 544.33,182.95 543.46,183.12 542.60,183.29 541.74,183.45 540.87,183.60 540.01,183.74 539.14,183.88 538.27,184.01 537.40,184.13 536.54,184.25 535.67,184.36 534.80,184.46 533.93,184.57 533.06,184.66 532.19,184.75 531.32,184.84 530.45,184.92 529.58,185.00 528.70,185.07 527.83,185.14 526.96,185.21 526.09,185.27 525.21,185.33 524.34,185.39 523.47,185.45 522.59,185.50 521.72,185.55 520.85,185.59 519.97,185.64 519.10,185.68 518.22,185.72 517.35,185.76 516.48,185.80 515.60,185.83 514.73,185.86 513.85,185.89 512.98,185.92 512.10,185.95 511.23,185.98 510.35,186.01 509.47,186.03 508.60,186.05 507.72,186.07 506.85,186.10 505.97,186.12 505.10,186.13 504.22,186.15 503.34,186.17 502.47,186.19 501.59,186.20 500.72,186.22 499.84,186.23 498.96,186.24 498.09,186.26 497.21,186.27 496.33,186.28 495.46,186.29 494.58,186.30 493.70,186.31 492.83,186.32 491.95,186.33 491.07,186.34 490.20,186.34 489.32,186.35 488.44,186.36 487.57,186.37 486.69,186.37 485.81,186.38 484.94,186.38 484.06,186.39 483.18,186.40 482.31,186.40 481.43,186.41 480.55,186.41 479.68,186.41 478.80,186.42 477.92,186.42 477.04,186.43 476.17,186.43 475.29,186.43 474.41,186.44 473.54,186.44 472.66,186.44 471.78,186.45 470.91,186.45 470.03,186.45 469.15,186.45 468.27,186.46 467.40,186.46 466.52,186.46 465.64,186.46 464.77,186.46 463.89,186.47 463.01,186.47 462.13,186.47 461.26,186.47 460.38,186.47 459.50,186.47 458.63,186.47 457.75,186.48 456.87,186.48 455.99,186.48 455.12,186.48 454.24,186.48 453.36,186.48 452.49,186.48 451.61,186.48 450.73,186.48 449.85,186.48 448.98,186.49 448.10,186.49 447.22,186.49 446.34,186.49 445.47,186.49 444.59,186.49 443.71,186.49 442.84,186.49 441.96,186.49 441.08,186.49 440.20,186.49 439.33,186.49 438.45,186.49 437.57,186.49 436.69,186.49 435.82,186.49 434.94,186.49 434.06,186.49 433.19,186.49 432.31,186.49 431.43,186.49 430.55,186.49 429.68,186.50 428.80,186.50" fill="#d8d8d8"/>
<polygon points="428.80,188.60 429.68,188.60 430.55,188.60 431.43,188.60 432.31,188.60 433.19,188.60 434.06,188.60 434.94,188.60 435.82,188.60 436.70,188.60 437.57,188.60 438.45,188.60 439.33,188.60 440.20,188.60 441.08,188.60 441.96,188.60 442.84,188.60 443.71,188.60 444.59,188.59 445.47,188.59 446.35,188.59 447.22,188.59 448.10,188.59 448.98,188.59 449.86,188.59 450.73,188.59 451.61,188.59 452.49,188.59 453.36,188.59 454.24,188.59 455.12,188.59 456.00,188.58 456.87,188.58 457.75,188.58 458.63,188.58 459.51,188.58 460.38,188.58 461.26,188.58 462.14,188.57 463.02,188.57 463.89,188.57 464.77,188.57 465.65,188.57 466.52,188.57 467.40,188.56 468.28,188.56 469.16,188.56 470.03,188.56 470.91,188.55 471.79,188.55 472.67,188.55 473.54,188.55 474.42,188.54 475.30,188.54 476.18,188.54 477.05,188.53 477.93,188.53 478.81,188.53 479.69,188.52 480.56,188.52 481.44,188.51 482.32,188.51 483.20,188.50 484.07,188.50 484.95,188.49 485.83,188.49 486.71,188.48 487.58,188.47 488.46,188.47 489.34,188.46 490.22,188.45 491.09,188.44 491.97,188.43 492.85,188.43 493.73,188.42 494.60,188.41 495.48,188.40 496.36,188.39 497.24,188.37 498.12,188.36 498.99,188.35 499.87,188.34 500.75,188.32 501.63,188.31 502.51,188.29 503.38,188.28 504.26,188.26 505.14,188.24 506.02,188.22 506.90,188.20 507.77,188.18 508.65,188.16 509.53,188.14 510.41,188.12 511.29,188.09 512.17,188.06 513.04,188.04 513.92,188.01 514.80,187.98 515.68,187.95 516.56,187.91 517.44,187.88 518.32,187.84 519.20,187.80 520.08,187.76 520.96,187.72 521.83,187.67 522.71,187.62 523.59,187.57 524.47,187.52 525.35,187.47 526.23,187.41 527.11,187.35 527.99,187.28 528.87,187.22 529.76,187.15 530.64,187.07 531.52,187.00 532.40,186.91 533.28,186.83 534.16,186.74 535.04,186.65 535.93,186.55 536.81,186.45 537.69,186.34 538.58,186.22 539.46,186.10 540.34,185.98 541.23,185.85 542.11,185.71 543.00,185.57 543.88,185.42 544.77,185.26 545.66,185.10 546.55,184.92 547.43,184.74 548.32,184.55 549.21,184.35 550.10,184.14 551.00,183.92 551.89,183.69 552.78,183.46 553.68,183.20 554.58,182.94 555.47,182.67 556.37,182.38 557.27,182.08 558.18,181.76 559.08,181.43 559.99,181.08 560.89,180.72 561.80,180.33 562.72,179.94 563.63,179.52 564.54,179.08 565.46,178.62 566.38,178.13 567.30,177.63 568.22,177.10 569.14,176.54 570.06,175.95 570.98,175.34 571.90,174.69 572.82,174.02 573.73,173.30 574.64,172.55 575.54,171.77 576.44,170.96 577.34,170.11 578.24,169.23 579.14,168.31 580.04,167.37 580.94,166.38 581.83,165.36 582.73,164.31 583.63,163.22 584.52,162.09 585.42,160.92 586.31,159.71 587.20,158.47 588.09,157.18 588.98,155.86 589.87,154.50 590.76,153.09 591.65,151.65 592.54,150.17 593.42,148.65 594.31,147.09 595.20,145.49 596.08,143.85 596.97,142.17 597.85,140.46 598.73,138.72 599.62,136.94 600.50,135.12 601.38,133.28 602.26,131.40 603.14,129.49 604.03,127.56 604.91,125.60 605.79,123.62 606.67,121.62 607.55,119.60 608.42,117.56 609.30,115.51 610.18,113.45 611.06,111.37 611.94,109.29 612.82,107.21 613.69,105.13 614.57,103.04 615.45,100.96 616.32,98.89 617.20,96.82 618.08,94.77 618.95,92.73 619.83,90.70 620.70,88.70 621.58,86.71 622.45,84.75 623.32,82.81 624.20,80.90 625.07,79.02 625.94,77.18 626.82,75.36 627.69,73.57 628.56,71.83 629.43,70.11 630.30,68.44 631.17,66.80 632.04,65.20 632.91,63.65 633.78,62.13 634.64,60.65 635.51,59.21 636.38,57.82 637.24,56.46 638.11,55.15 638.97,53.88 639.83,52.64 640.70,51.45 641.56,50.30 642.42,49.18 643.28,48.11 644.14,47.07 644.99,46.07 645.85,45.10 646.71,44.17 647.56,43.28 648.42,42.42 649.27,41.59 650.12,40.80 650.98,40.04 651.83,39.30 652.68,38.60 653.53,37.93 654.38,37.28 655.23,36.66 656.08,36.06 656.93,35.49 657.78,34.95 658.63,34.42 659.48,33.92 660.33,33.44 661.18,32.98 662.03,32.54 662.88,32.12 663.73,31.72 664.59,31.34 665.44,30.97 666.29,30.62 667.14,30.28 668.00,29.96 668.85,29.66 669.71,29.36 670.56,29.08 671.42,28.81 672.27,28.56 673.13,28.32 673.99,28.08 674.85,27.86 675.71,27.65 676.57,27.45 677.43,27.25 678.29,27.07 679.15,26.89 680.01,26.73 680.88,26.57 681.74,26.41 682.60,26.27 683.47,26.13 684.33,26.00 685.20,25.87 686.07,25.75 686.93,25.64 687.80,25.53 688.67,25.43 689.54,25.33 690.40,25.23 691.28,25.14 690.93,21.81 690.05,21.90 689.17,22.00 688.28,22.10 687.39,22.21 686.51,22.32 685.62,22.43 684.73,22.56 683.84,22.69 682.95,22.82 682.06,22.96 681.17,23.11 680.28,23.27 679.39,23.44 678.50,23.61 677.60,23.79 676.71,23.98 675.82,24.18 674.92,24.39 674.03,24.61 673.13,24.85 672.23,25.09 671.34,25.34 670.44,25.61 669.54,25.89 668.64,26.19 667.74,26.50 666.84,26.82 665.94,27.16 665.04,27.51 664.14,27.89 663.23,28.28 662.33,28.68 661.43,29.11 660.52,29.56 659.62,30.02 658.71,30.51 657.81,31.02 656.90,31.56 656.00,32.11 655.10,32.69 654.19,33.30 653.29,33.93 652.38,34.59 651.48,35.28 650.57,36.00 649.67,36.74 648.77,37.52 647.87,38.33 646.97,39.17 646.07,40.04 645.17,40.94 644.27,41.88 643.37,42.86 642.47,43.87 641.57,44.91 640.68,45.99 639.78,47.11 638.89,48.27 638.00,49.47 637.10,50.70 636.21,51.98 635.32,53.29 634.43,54.64 633.54,56.03 632.65,57.47 631.77,58.94 630.88,60.45 629.99,62.00 629.11,63.59 628.22,65.22 627.34,66.88 626.45,68.58 625.57,70.32 624.69,72.09 623.80,73.90 622.92,75.74 622.04,77.61 621.16,79.50 620.28,81.43 619.40,83.38 618.52,85.35 617.64,87.35 616.76,89.37 615.88,91.40 615.00,93.45 614.12,95.51 613.24,97.58 612.36,99.66 611.48,101.74 610.61,103.83 609.73,105.91 608.85,107.99 607.98,110.07 607.10,112.14 606.22,114.20 605.35,116.24 604.47,118.27 603.60,120.28 602.72,122.27 601.85,124.24 600.98,126.18 600.10,128.10 599.23,129.98 598.36,131.84 597.48,133.67 596.61,135.46 595.74,137.22 594.87,138.94 594.00,140.62 593.13,142.27 592.26,143.88 591.39,145.45 590.52,146.98 589.65,148.47 588.79,149.91 587.92,151.32 587.06,152.69 586.19,154.01 585.33,155.29 584.46,156.54 583.60,157.74 582.74,158.91 581.88,160.03 581.02,161.12 580.16,162.16 579.30,163.17 578.44,164.15 577.59,165.09 576.73,165.99 575.88,166.86 575.02,167.69 574.17,168.49 573.32,169.27 572.46,170.01 571.62,170.72 570.77,171.42 569.94,172.09 569.10,172.74 568.27,173.36 567.43,173.97 566.60,174.55 565.77,175.11 564.93,175.65 564.09,176.17 563.26,176.67 562.42,177.15 561.58,177.61 560.73,178.05 559.89,178.47 559.04,178.87 558.19,179.25 557.34,179.62 556.49,179.97 555.64,180.31 554.78,180.63 553.93,180.94 553.07,181.23 552.21,181.51 551.35,181.77 550.49,182.02 549.62,182.27 548.76,182.50 547.90,182.71 547.03,182.92 546.16,183.12 545.30,183.31 544.43,183.49 543.56,183.66 542.69,183.82 541.82,183.98 540.95,184.13 540.08,184.27 539.21,184.40 538.34,184.53 537.47,184.65 536.60,184.76 535.73,184.87 534.86,184.98 533.98,185.08 533.11,185.17 532.24,185.26 531.36,185.34 530.49,185.42 529.62,185.50 528.74,185.58 527.87,185.64 527.00,185.71 526.12,185.77 525.25,185.83 524.37,185.89 523.50,185.94 522.62,186.00 521.75,186.05 520.87,186.09 520.00,186.14 519.12,186.18 518.25,186.22 517.37,186.26 516.50,186.29 515.62,186.33 514.74,186.36 513.87,186.39 512.99,186.42 512.12,186.45 511.24,186.47 510.36,186.50 509.49,186.52 508.61,186.55 507.74,186.57 506.86,186.59 505.98,186.61 505.11,186.63 504.23,186.65 503.35,186.66 502.48,186.68 501.60,186.70 500.72,186.71 499.85,186.72 498.97,186.74 498.09,186.75 497.22,186.76 496.34,186.77 495.46,186.78 494.59,186.79 493.71,186.80 492.83,186.81 491.96,186.82 491.08,186.83 490.20,186.84 489.33,186.85 488.45,186.85 487.57,186.86 486.69,186.87 485.82,186.87 484.94,186.88 484.06,186.88 483.19,186.89 482.31,186.90 481.43,186.90 480.56,186.90 479.68,186.91 478.80,186.91 477.92,186.92 477.05,186.92 476.17,186.92 475.29,186.93 474.42,186.93 473.54,186.93 472.66,186.94 471.78,186.94 470.91,186.94 470.03,186.95 469.15,186.95 468.28,186.95 467.40,186.95 466.52,186.95 465.64,186.96 464.77,186.96 463.89,186.96 463.01,186.96 462.14,186.96 461.26,186.96 460.38,186.97 459.50,186.97 458.63,186.97 457.75,186.97 456.87,186.97 455.99,186.97 455.12,186.97 454.24,186.97 453.36,186.98 452.49,186.98 451.61,186.98 450.73,186.98 449.85,186.98 448.98,186.98 448.10,186.98 447.22,186.98 446.34,186.98 445.47,186.98 444.59,186.98 443.71,186.98 442.84,186.98 441.96,186.98 441.08,186.98 440.20,186.99 439.33,186.99 438.45,186.99 437.57,186.99 436.70,186.99 435.82,186.99 434.94,186.99 434.06,186.99 433.19,186.99 432.31,186.99 431.43,186.99 430.55,186.99 429.68,186.99 428.80,186.99" fill="#bdbdbd"/>
<polyline points="428.80,187.80 429.68,187.80 430.55,187.79 431.43,187.79 432.31,187.79 433.19,187.79 434.06,187.79 434.94,187.79 435.82,187.79 436.70,187.79 437.57,187.79 438.45,187.79 439.33,187.79 440.20,187.79 441.08,187.79 441.96,187.79 442.84,187.79 443.71,187.79 444.59,187.79 445.47,187.79 446.35,187.79 447.22,187.79 448.10,187.79 448.98,187.79 449.85,187.78 450.73,187.78 451.61,187.78 452.49,187.78 453.36,187.78 454.24,187.78 455.12,187.78 456.00,187.78 456.87,187.78 457.75,187.78 458.63,187.77 459.50,187.77 460.38,187.77 461.26,187.77 462.14,187.77 463.01,187.77 463.89,187.77 464.77,187.76 465.65,187.76 466.52,187.76 467.40,187.76 468.28,187.76 469.15,187.75 470.03,187.75 470.91,187.75 471.79,187.75 472.66,187.74 473.54,187.74 474.42,187.74 475.30,187.73 476.17,187.73 477.05,187.73 477.93,187.72 478.80,187.72 479.68,187.72 480.56,187.71 481.44,187.71 482.31,187.70 483.19,187.70 484.07,187.69 484.95,187.69 485.82,187.68 486.70,187.67 487.58,187.67 488.45,187.66 489.33,187.65 490.21,187.64 491.09,187.64 491.96,187.63 492.84,187.62 493.72,187.61 494.60,187.60 495.47,187.59 496.35,187.58 497.23,187.57 498.10,187.56 498.98,187.54 499.86,187.53 500.74,187.52 501.61,187.50 502.49,187.49 503.37,187.47 504.25,187.45 505.12,187.44 506.00,187.42 506.88,187.40 507.75,187.38 508.63,187.36 509.51,187.33 510.39,187.31 511.26,187.28 512.14,187.26 513.02,187.23 513.90,187.20 514.77,187.17 515.65,187.14 516.53,187.10 517.40,187.07 518.28,187.03 519.16,186.99 520.04,186.95 520.91,186.90 521.79,186.86 522.67,186.81 523.55,186.76 524.42,186.71 525.30,186.65 526.18,186.59 527.05,186.53 527.93,186.46 528.81,186.40 529.69,186.32 530.56,186.25 531.44,186.17 532.32,186.09 533.20,186.00 534.07,185.91 534.95,185.81 535.83,185.71 536.70,185.60 537.58,185.49 538.46,185.38 539.34,185.25 540.21,185.12 541.09,184.99 541.97,184.85 542.85,184.70 543.72,184.54 544.60,184.38 545.48,184.20 546.35,184.02 547.23,183.83 548.11,183.63 548.99,183.42 549.86,183.20 550.74,182.97 551.62,182.73 552.50,182.48 553.37,182.22 554.25,181.94 555.13,181.65 556.00,181.34 556.88,181.02 557.76,180.69 558.64,180.34 559.51,179.97 560.39,179.59 561.27,179.19 562.15,178.77 563.02,178.33 563.90,177.87 564.78,177.39 565.65,176.89 566.53,176.37 567.41,175.82 568.29,175.25 569.16,174.66 570.04,174.04 570.92,173.39 571.80,172.72 572.67,172.01 573.55,171.28 574.43,170.52 575.30,169.72 576.18,168.90 577.06,168.04 577.94,167.15 578.81,166.23 579.69,165.27 580.57,164.27 581.45,163.24 582.32,162.17 583.20,161.06 584.08,159.91 584.95,158.73 585.83,157.50 586.71,156.24 587.59,154.93 588.46,153.59 589.34,152.21 590.22,150.78 591.10,149.32 591.97,147.81 592.85,146.27 593.73,144.68 594.60,143.06 595.48,141.40 596.36,139.70 597.24,137.97 598.11,136.20 598.99,134.39 599.87,132.56 600.75,130.69 601.62,128.80 602.50,126.87 603.38,124.92 604.25,122.95 605.13,120.95 606.01,118.93 606.89,116.90 607.76,114.85 608.64,112.79 609.52,110.72 610.40,108.64 611.27,106.56 612.15,104.48 613.03,102.39 613.90,100.31 614.78,98.23 615.66,96.16 616.54,94.11 617.41,92.06 618.29,90.03 619.17,88.02 620.05,86.03 620.92,84.06 621.80,82.12 622.68,80.20 623.55,78.32 624.43,76.46 625.31,74.63 626.19,72.83 627.06,71.07 627.94,69.35 628.82,67.66 629.70,66.01 630.57,64.40 631.45,62.82 632.33,61.29 633.21,59.80 634.08,58.34 634.96,56.93 635.84,55.55 636.71,54.22 637.59,52.93 638.47,51.67 639.35,50.46 640.22,49.28 641.10,48.15 641.98,47.05 642.86,45.99 643.73,44.97 644.61,43.98 645.49,43.03 646.36,42.11 647.24,41.23 648.12,40.38 649.00,39.56 649.87,38.78 650.75,38.02 651.63,37.30 652.51,36.60 653.38,35.94 654.26,35.30 655.14,34.68 656.01,34.09 656.89,33.53 657.77,32.99 658.65,32.47 659.52,31.98 660.40,31.50 661.28,31.05 662.16,30.62 663.03,30.20 663.91,29.81 664.79,29.43 665.66,29.07 666.54,28.72 667.42,28.39 668.30,28.08 669.17,27.77 670.05,27.49 670.93,27.21 671.81,26.95 672.68,26.70 673.56,26.46 674.44,26.24 675.31,26.02 676.19,25.81 677.07,25.62 677.95,25.43 678.82,25.25 679.70,25.08 680.58,24.92 681.46,24.76 682.33,24.62 683.21,24.48 684.09,24.34 684.96,24.21 685.84,24.09 686.72,23.98 687.60,23.87 688.47,23.76 689.35,23.66 690.23,23.57 691.11,23.48" fill="none" stroke="#626262" stroke-width="1.3" stroke-dasharray="3.6 1.9"/>
<polygon points="428.80,189.15 429.68,189.15 430.55,189.15 431.43,189.15 432.31,189.15 433.19,189.15 434.06,189.15 434.94,189.15 435.82,189.15 436.70,189.15 437.57,189.15 438.45,189.15 439.33,189.15 440.20,189.15 441.08,189.15 441.96,189.15 442.84,189.15 443.71,189.15 444.59,189.15 445.47,189.15 446.35,189.15 447.22,189.15 448.10,189.15 448.98,189.15 449.85,189.15 450.73,189.15 451.61,189.15 452.49,189.15 453.36,189.15 454.24,189.15 455.12,189.15 456.00,189.15 456.87,189.15 457.75,189.15 458.63,189.15 459.50,189.15 460.38,189.15 461.26,189.15 462.14,189.15 463.01,189.15 463.89,189.15 464.77,189.15 465.65,189.15 466.52,189.15 467.40,189.15 468.28,189.15 469.16,189.15 470.03,189.15 470.91,189.14 471.79,189.14 472.66,189.14 473.54,189.14 474.42,189.14 475.30,189.14 476.17,189.14 477.05,189.14 477.93,189.14 478.81,189.14 479.68,189.14 480.56,189.14 481.44,189.14 482.31,189.14 483.19,189.14 484.07,189.14 484.95,189.14 485.82,189.14 486.70,189.14 487.58,189.13 488.46,189.13 489.33,189.13 490.21,189.13 491.09,189.13 491.97,189.13 492.84,189.13 493.72,189.13 494.60,189.12 495.48,189.12 496.35,189.12 497.23,189.12 498.11,189.12 498.98,189.12 499.86,189.11 500.74,189.11 501.62,189.11 502.49,189.11 503.37,189.11 504.25,189.10 505.13,189.10 506.00,189.10 506.88,189.09 507.76,189.09 508.64,189.09 509.52,189.08 510.39,189.08 511.27,189.07 512.15,189.07 513.03,189.07 513.90,189.06 514.78,189.05 515.66,189.05 516.54,189.04 517.41,189.04 518.29,189.03 519.17,189.02 520.05,189.01 520.93,189.01 521.80,189.00 522.68,188.99 523.56,188.98 524.44,188.97 525.32,188.96 526.20,188.95 527.07,188.94 527.95,188.92 528.83,188.91 529.71,188.89 530.59,188.88 531.47,188.86 532.35,188.85 533.22,188.83 534.10,188.81 534.98,188.79 535.86,188.77 536.74,188.74 537.62,188.72 538.50,188.69 539.38,188.67 540.26,188.64 541.14,188.61 542.02,188.58 542.90,188.54 543.78,188.51 544.66,188.47 545.54,188.43 546.42,188.38 547.31,188.34 548.19,188.29 549.07,188.24 549.95,188.19 550.83,188.13 551.72,188.07 552.60,188.01 553.48,187.94 554.37,187.87 555.25,187.79 556.14,187.71 557.02,187.63 557.91,187.54 558.79,187.45 559.68,187.35 560.57,187.24 561.46,187.13 562.34,187.02 563.23,186.89 564.12,186.76 565.02,186.62 565.91,186.48 566.80,186.33 567.70,186.16 568.59,185.99 569.49,185.81 570.39,185.62 571.29,185.42 572.19,185.21 573.09,184.98 574.00,184.75 574.91,184.50 575.81,184.23 576.73,183.96 577.64,183.66 578.56,183.35 579.48,183.03 580.40,182.68 581.33,182.32 582.26,181.94 583.20,181.53 584.14,181.10 585.08,180.65 586.02,180.17 586.97,179.66 587.92,179.13 588.88,178.56 589.84,177.96 590.79,177.32 591.75,176.65 592.70,175.93 593.65,175.17 594.60,174.36 595.53,173.51 596.46,172.60 597.37,171.65 598.29,170.65 599.21,169.61 600.12,168.53 601.03,167.40 601.94,166.23 602.85,165.00 603.76,163.73 604.66,162.41 605.56,161.03 606.46,159.61 607.36,158.13 608.26,156.61 609.16,155.03 610.05,153.39 610.95,151.71 611.84,149.97 612.73,148.18 613.62,146.34 614.51,144.45 615.40,142.50 616.28,140.51 617.17,138.48 618.06,136.40 618.94,134.27 619.82,132.10 620.71,129.90 621.59,127.66 622.47,125.38 623.35,123.08 624.23,120.75 625.11,118.40 625.99,116.02 626.87,113.63 627.75,111.23 628.63,108.82 629.51,106.41 630.38,103.99 631.26,101.58 632.14,99.18 633.01,96.79 633.89,94.42 634.76,92.07 635.64,89.74 636.51,87.44 637.38,85.16 638.26,82.93 639.13,80.73 640.00,78.57 640.87,76.45 641.74,74.37 642.61,72.35 643.48,70.37 644.34,68.44 645.21,66.57 646.07,64.74 646.94,62.98 647.80,61.26 648.66,59.60 649.52,58.00 650.38,56.45 651.24,54.96 652.10,53.52 652.95,52.14 653.80,50.81 654.65,49.53 655.50,48.31 656.35,47.14 657.20,46.01 658.04,44.94 658.88,43.91 659.72,42.93 660.56,41.99 661.40,41.10 662.24,40.25 663.07,39.44 663.90,38.67 664.73,37.93 665.56,37.23 666.39,36.56 667.22,35.93 668.05,35.33 668.87,34.76 669.70,34.21 670.53,33.70 671.35,33.20 672.18,32.74 673.01,32.29 673.84,31.87 674.67,31.47 675.50,31.09 676.33,30.73 677.16,30.39 677.99,30.07 678.83,29.76 679.66,29.47 680.50,29.19 681.34,28.93 682.18,28.68 683.02,28.44 683.86,28.22 684.71,28.00 685.55,27.80 686.40,27.61 687.25,27.43 688.10,27.26 688.95,27.10 689.80,26.94 690.65,26.80 691.52,26.66 690.69,21.53 689.80,21.67 688.90,21.82 688.00,21.98 687.10,22.16 686.19,22.34 685.29,22.53 684.38,22.74 683.47,22.95 682.56,23.18 681.65,23.42 680.73,23.68 679.82,23.95 678.90,24.24 677.99,24.54 677.07,24.86 676.15,25.20 675.22,25.56 674.30,25.94 673.38,26.34 672.45,26.77 671.53,27.21 670.60,27.68 669.67,28.18 668.75,28.70 667.82,29.26 666.89,29.84 665.96,30.45 665.04,31.09 664.11,31.76 663.18,32.47 662.26,33.22 661.33,34.00 660.41,34.81 659.49,35.67 658.57,36.57 657.65,37.50 656.73,38.48 655.81,39.50 654.90,40.57 653.99,41.68 653.08,42.84 652.17,44.05 651.26,45.30 650.36,46.61 649.45,47.96 648.55,49.37 647.65,50.83 646.75,52.33 645.85,53.90 644.96,55.51 644.06,57.18 643.17,58.90 642.28,60.67 641.39,62.49 640.50,64.36 639.61,66.29 638.72,68.26 637.84,70.28 636.95,72.34 636.07,74.45 635.18,76.61 634.30,78.80 633.42,81.03 632.53,83.29 631.65,85.58 630.77,87.90 629.89,90.25 629.01,92.62 628.13,95.00 627.25,97.40 626.38,99.80 625.50,102.22 624.62,104.63 623.74,107.04 622.87,109.45 621.99,111.84 621.12,114.22 620.24,116.58 619.37,118.92 618.49,121.23 617.62,123.52 616.75,125.77 615.87,127.98 615.00,130.16 614.13,132.29 613.26,134.38 612.39,136.42 611.53,138.42 610.66,140.36 609.79,142.26 608.93,144.10 608.06,145.89 607.20,147.62 606.34,149.30 605.48,150.93 604.62,152.49 603.76,154.01 602.90,155.46 602.05,156.87 601.19,158.21 600.34,159.51 599.49,160.75 598.64,161.94 597.80,163.09 596.95,164.18 596.11,165.22 595.27,166.22 594.43,167.17 593.59,168.08 592.75,168.95 591.92,169.77 591.10,170.57 590.29,171.35 589.49,172.09 588.69,172.81 587.89,173.50 587.09,174.17 586.29,174.80 585.49,175.41 584.69,175.99 583.89,176.55 583.08,177.08 582.26,177.58 581.45,178.07 580.63,178.52 579.80,178.96 578.98,179.37 578.15,179.76 577.31,180.13 576.48,180.48 575.64,180.82 574.79,181.13 573.95,181.43 573.10,181.71 572.25,181.98 571.40,182.23 570.55,182.47 569.70,182.69 568.84,182.91 567.98,183.11 567.12,183.29 566.26,183.47 565.40,183.64 564.54,183.80 563.68,183.95 562.81,184.09 561.95,184.23 561.08,184.35 560.21,184.47 559.35,184.58 558.48,184.69 557.61,184.79 556.74,184.88 555.87,184.97 555.00,185.06 554.13,185.14 553.26,185.21 552.39,185.28 551.52,185.35 550.65,185.41 549.78,185.47 548.90,185.52 548.03,185.58 547.16,185.63 546.29,185.67 545.41,185.72 544.54,185.76 543.66,185.80 542.79,185.83 541.92,185.87 541.04,185.90 540.17,185.93 539.29,185.96 538.42,185.99 537.54,186.02 536.67,186.04 535.79,186.06 534.92,186.09 534.04,186.11 533.17,186.13 532.29,186.14 531.42,186.16 530.54,186.18 529.66,186.19 528.79,186.21 527.91,186.22 527.04,186.23 526.16,186.25 525.28,186.26 524.41,186.27 523.53,186.28 522.65,186.29 521.78,186.30 520.90,186.31 520.02,186.31 519.15,186.32 518.27,186.33 517.39,186.34 516.52,186.34 515.64,186.35 514.76,186.35 513.89,186.36 513.01,186.36 512.13,186.37 511.26,186.37 510.38,186.38 509.50,186.38 508.63,186.39 507.75,186.39 506.87,186.39 506.00,186.40 505.12,186.40 504.24,186.40 503.36,186.41 502.49,186.41 501.61,186.41 500.73,186.41 499.86,186.41 498.98,186.42 498.10,186.42 497.22,186.42 496.35,186.42 495.47,186.42 494.59,186.42 493.72,186.43 492.84,186.43 491.96,186.43 491.08,186.43 490.21,186.43 489.33,186.43 488.45,186.43 487.58,186.43 486.70,186.44 485.82,186.44 484.94,186.44 484.07,186.44 483.19,186.44 482.31,186.44 481.44,186.44 480.56,186.44 479.68,186.44 478.80,186.44 477.93,186.44 477.05,186.44 476.17,186.44 475.29,186.44 474.42,186.44 473.54,186.44 472.66,186.44 471.79,186.44 470.91,186.44 470.03,186.45 469.15,186.45 468.28,186.45 467.40,186.45 466.52,186.45 465.65,186.45 464.77,186.45 463.89,186.45 463.01,186.45 462.14,186.45 461.26,186.45 460.38,186.45 459.50,186.45 458.63,186.45 457.75,186.45 456.87,186.45 456.00,186.45 455.12,186.45 454.24,186.45 453.36,186.45 452.49,186.45 451.61,186.45 450.73,186.45 449.85,186.45 448.98,186.45 448.10,186.45 447.22,186.45 446.35,186.45 445.47,186.45 444.59,186.45 443.71,186.45 442.84,186.45 441.96,186.45 441.08,186.45 440.20,186.45 439.33,186.45 438.45,186.45 437.57,186.45 436.70,186.45 435.82,186.45 434.94,186.45 434.06,186.45 433.19,186.45 432.31,186.45 431.43,186.45 430.55,186.45 429.68,186.45 428.80,186.45" fill="#ababab"/>
<polygon points="428.80,188.74 429.68,188.74 430.55,188.74 431.43,188.74 432.31,188.74 433.19,188.74 434.06,188.74 434.94,188.74 435.82,188.74 436.70,188.74 437.57,188.74 438.45,188.74 439.33,188.74 440.20,188.74 441.08,188.74 441.96,188.74 442.84,188.74 443.71,188.74 444.59,188.74 445.47,188.74 446.35,188.74 447.22,188.74 448.10,188.74 448.98,188.74 449.85,188.74 450.73,188.74 451.61,188.74 452.49,188.74 453.36,188.74 454.24,188.74 455.12,188.74 456.00,188.74 456.87,188.74 457.75,188.74 458.63,188.74 459.50,188.74 460.38,188.74 461.26,188.74 462.14,188.74 463.01,188.74 463.89,188.74 464.77,188.74 465.65,188.74 466.52,188.74 467.40,188.74 468.28,188.74 469.15,188.74 470.03,188.74 470.91,188.74 471.79,188.74 472.66,188.74 473.54,188.74 474.42,188.74 475.30,188.74 476.17,188.74 477.05,188.74 477.93,188.74 478.81,188.74 479.68,188.74 480.56,188.74 481.44,188.73 482.31,188.73 483.19,188.73 484.07,188.73 484.95,188.73 485.82,188.73 486.70,188.73 487.58,188.73 488.46,188.73 489.33,188.73 490.21,188.73 491.09,188.73 491.97,188.72 492.84,188.72 493.72,188.72 494.60,188.72 495.47,188.72 496.35,188.72 497.23,188.72 498.11,188.71 498.98,188.71 499.86,188.71 500.74,188.71 501.62,188.71 502.49,188.70 503.37,188.70 504.25,188.70 505.13,188.69 506.00,188.69 506.88,188.69 507.76,188.68 508.64,188.68 509.51,188.68 510.39,188.67 511.27,188.67 512.15,188.66 513.02,188.66 513.90,188.65 514.78,188.65 515.66,188.64 516.53,188.64 517.41,188.63 518.29,188.62 519.17,188.62 520.05,188.61 520.92,188.60 521.80,188.59 522.68,188.58 523.56,188.57 524.43,188.56 525.31,188.55 526.19,188.54 527.07,188.53 527.95,188.52 528.82,188.50 529.70,188.49 530.58,188.47 531.46,188.46 532.34,188.44 533.22,188.42 534.09,188.40 534.97,188.38 535.85,188.36 536.73,188.34 537.61,188.31 538.49,188.29 539.37,188.26 540.25,188.23 541.13,188.20 542.00,188.17 542.88,188.14 543.76,188.10 544.64,188.06 545.52,188.02 546.40,187.98 547.28,187.93 548.16,187.88 549.04,187.83 549.92,187.78 550.81,187.72 551.69,187.66 552.57,187.60 553.45,187.53 554.33,187.46 555.21,187.38 556.10,187.30 556.98,187.22 557.86,187.13 558.75,187.03 559.63,186.93 560.51,186.83 561.40,186.72 562.28,186.60 563.17,186.47 564.06,186.34 564.94,186.20 565.83,186.05 566.72,185.90 567.61,185.73 568.50,185.56 569.39,185.38 570.28,185.18 571.18,184.98 572.07,184.76 572.97,184.53 573.86,184.29 574.76,184.04 575.66,183.77 576.56,183.49 577.47,183.19 578.37,182.87 579.28,182.54 580.19,182.19 581.10,181.82 582.02,181.42 582.94,181.01 583.86,180.57 584.78,180.11 585.70,179.63 586.63,179.11 587.56,178.57 588.49,178.00 589.42,177.39 590.36,176.75 591.29,176.07 592.22,175.36 593.15,174.60 594.07,173.80 594.99,172.95 595.90,172.05 596.81,171.11 597.71,170.13 598.62,169.10 599.52,168.03 600.42,166.92 601.32,165.75 602.22,164.54 603.12,163.28 604.01,161.97 604.91,160.61 605.80,159.20 606.69,157.73 607.59,156.22 608.48,154.65 609.37,153.02 610.25,151.35 611.14,149.62 612.03,147.84 612.92,146.00 613.80,144.12 614.69,142.18 615.57,140.20 616.45,138.17 617.34,136.09 618.22,133.97 619.10,131.81 619.98,129.61 620.86,127.37 621.74,125.10 622.62,122.80 623.50,120.48 624.38,118.12 625.26,115.75 626.14,113.36 627.02,110.96 627.90,108.55 628.77,106.14 629.65,103.73 630.53,101.32 631.41,98.92 632.28,96.52 633.16,94.15 634.03,91.79 634.91,89.46 635.78,87.16 636.66,84.88 637.53,82.64 638.40,80.44 639.28,78.27 640.15,76.15 641.02,74.07 641.89,72.04 642.76,70.05 643.63,68.12 644.50,66.24 645.37,64.41 646.24,62.63 647.11,60.91 647.97,59.24 648.84,57.63 649.70,56.07 650.57,54.57 651.43,53.12 652.29,51.72 653.15,50.38 654.01,49.09 654.87,47.86 655.72,46.67 656.58,45.54 657.43,44.45 658.29,43.41 659.14,42.42 659.99,41.47 660.84,40.56 661.68,39.70 662.53,38.87 663.38,38.09 664.22,37.34 665.07,36.63 665.91,35.95 666.75,35.31 667.60,34.69 668.44,34.11 669.28,33.56 670.12,33.03 670.96,32.53 671.81,32.05 672.65,31.60 673.49,31.17 674.33,30.77 675.18,30.38 676.02,30.01 676.87,29.67 677.71,29.34 678.56,29.02 679.41,28.73 680.26,28.45 681.11,28.18 681.96,27.93 682.81,27.69 683.67,27.46 684.52,27.25 685.37,27.04 686.23,26.85 687.09,26.67 687.95,26.49 688.80,26.33 689.66,26.18 690.52,26.03 691.39,25.89 690.82,22.30 689.93,22.44 689.04,22.59 688.14,22.75 687.25,22.92 686.35,23.10 685.45,23.29 684.55,23.50 683.65,23.71 682.75,23.94 681.85,24.18 680.95,24.43 680.05,24.70 679.14,24.98 678.24,25.28 677.33,25.60 676.42,25.93 675.51,26.29 674.61,26.66 673.70,27.06 672.79,27.47 671.87,27.91 670.96,28.38 670.05,28.86 669.14,29.38 668.23,29.92 667.31,30.49 666.40,31.09 665.49,31.73 664.58,32.39 663.66,33.09 662.75,33.82 661.84,34.59 660.93,35.39 660.02,36.24 659.12,37.12 658.21,38.04 657.30,39.01 656.40,40.02 655.50,41.07 654.59,42.17 653.69,43.32 652.79,44.51 651.90,45.76 651.00,47.05 650.10,48.39 649.21,49.78 648.32,51.23 647.42,52.73 646.53,54.28 645.64,55.88 644.75,57.54 643.87,59.25 642.98,61.01 642.09,62.83 641.21,64.69 640.32,66.61 639.44,68.58 638.55,70.59 637.67,72.65 636.79,74.75 635.91,76.90 635.02,79.09 634.14,81.31 633.26,83.57 632.38,85.86 631.50,88.18 630.62,90.52 629.74,92.89 628.86,95.27 627.99,97.67 627.11,100.07 626.23,102.48 625.35,104.90 624.48,107.31 623.60,109.72 622.72,112.11 621.85,114.49 620.97,116.85 620.10,119.19 619.22,121.51 618.35,123.80 617.47,126.05 616.60,128.27 615.73,130.45 614.85,132.59 613.98,134.68 613.11,136.73 612.24,138.73 611.37,140.69 610.50,142.59 609.63,144.44 608.76,146.23 607.89,147.97 607.03,149.66 606.16,151.30 605.30,152.87 604.43,154.40 603.57,155.86 602.71,157.28 601.85,158.64 600.99,159.94 600.13,161.20 599.27,162.40 598.42,163.56 597.56,164.66 596.71,165.72 595.86,166.73 595.01,167.69 594.16,168.61 593.31,169.49 592.46,170.33 591.63,171.14 590.80,171.92 589.97,172.67 589.15,173.39 588.33,174.08 587.50,174.74 586.68,175.37 585.86,175.97 585.03,176.54 584.21,177.09 583.38,177.62 582.55,178.11 581.71,178.59 580.87,179.03 580.03,179.46 579.19,179.87 578.35,180.25 577.50,180.62 576.65,180.96 575.80,181.29 574.95,181.60 574.09,181.89 573.24,182.17 572.38,182.43 571.52,182.68 570.66,182.91 569.80,183.13 568.94,183.34 568.07,183.54 567.21,183.72 566.34,183.90 565.48,184.07 564.61,184.22 563.74,184.37 562.88,184.51 562.01,184.65 561.14,184.77 560.27,184.89 559.40,185.00 558.53,185.10 557.66,185.20 556.78,185.30 555.91,185.38 555.04,185.47 554.17,185.55 553.30,185.62 552.42,185.69 551.55,185.75 550.68,185.82 549.80,185.88 548.93,185.93 548.06,185.98 547.18,186.03 546.31,186.08 545.43,186.12 544.56,186.16 543.68,186.20 542.81,186.24 541.93,186.27 541.06,186.31 540.18,186.34 539.31,186.37 538.43,186.40 537.56,186.42 536.68,186.45 535.80,186.47 534.93,186.49 534.05,186.51 533.18,186.53 532.30,186.55 531.42,186.57 530.55,186.58 529.67,186.60 528.79,186.61 527.92,186.63 527.04,186.64 526.16,186.65 525.29,186.66 524.41,186.67 523.53,186.68 522.66,186.69 521.78,186.70 520.90,186.71 520.03,186.72 519.15,186.73 518.27,186.73 517.40,186.74 516.52,186.75 515.64,186.75 514.77,186.76 513.89,186.76 513.01,186.77 512.14,186.77 511.26,186.78 510.38,186.78 509.51,186.79 508.63,186.79 507.75,186.79 506.87,186.80 506.00,186.80 505.12,186.80 504.24,186.81 503.37,186.81 502.49,186.81 501.61,186.82 500.73,186.82 499.86,186.82 498.98,186.82 498.10,186.82 497.23,186.83 496.35,186.83 495.47,186.83 494.59,186.83 493.72,186.83 492.84,186.83 491.96,186.83 491.09,186.84 490.21,186.84 489.33,186.84 488.45,186.84 487.58,186.84 486.70,186.84 485.82,186.84 484.94,186.84 484.07,186.84 483.19,186.84 482.31,186.84 481.44,186.84 480.56,186.85 479.68,186.85 478.80,186.85 477.93,186.85 477.05,186.85 476.17,186.85 475.30,186.85 474.42,186.85 473.54,186.85 472.66,186.85 471.79,186.85 470.91,186.85 470.03,186.85 469.15,186.85 468.28,186.85 467.40,186.85 466.52,186.85 465.65,186.85 464.77,186.85 463.89,186.85 463.01,186.85 462.14,186.85 461.26,186.85 460.38,186.85 459.50,186.85 458.63,186.85 457.75,186.85 456.87,186.85 456.00,186.85 455.12,186.85 454.24,186.85 453.36,186.85 452.49,186.85 451.61,186.85 450.73,186.85 449.85,186.85 448.98,186.85 448.10,186.85 447.22,186.85 446.35,186.85 445.47,186.85 444.59,186.85 443.71,186.85 442.84,186.85 441.96,186.85 441.08,186.85 440.20,186.85 439.33,186.85 438.45,186.85 437.57,186.85 436.70,186.85 435.82,186.85 434.94,186.85 434.06,186.85 433.19,186.85 432.31,186.85 431.43,186.85 430.55,186.85 429.68,186.85 428.80,186.85" fill="#8e8e8e"/>
<polyline points="428.80,187.80 429.68,187.80 430.55,187.80 431.43,187.80 432.31,187.80 433.19,187.80 434.06,187.80 434.94,187.80 435.82,187.80 436.70,187.80 437.57,187.80 438.45,187.80 439.33,187.80 440.20,187.80 441.08,187.80 441.96,187.80 442.84,187.80 443.71,187.80 444.59,187.80 445.47,187.80 446.35,187.80 447.22,187.80 448.10,187.80 448.98,187.80 449.85,187.80 450.73,187.80 451.61,187.80 452.49,187.80 453.36,187.80 454.24,187.80 455.12,187.80 456.00,187.80 456.87,187.80 457.75,187.80 458.63,187.80 459.50,187.80 460.38,187.80 461.26,187.80 462.14,187.80 463.01,187.80 463.89,187.80 464.77,187.80 465.65,187.80 466.52,187.80 467.40,187.80 468.28,187.80 469.15,187.80 470.03,187.80 470.91,187.79 471.79,187.79 472.66,187.79 473.54,187.79 474.42,187.79 475.30,187.79 476.17,187.79 477.05,187.79 477.93,187.79 478.80,187.79 479.68,187.79 480.56,187.79 481.44,187.79 482.31,187.79 483.19,187.79 484.07,187.79 484.95,187.79 485.82,187.79 486.70,187.79 487.58,187.78 488.45,187.78 489.33,187.78 490.21,187.78 491.09,187.78 491.96,187.78 492.84,187.78 493.72,187.78 494.60,187.77 495.47,187.77 496.35,187.77 497.23,187.77 498.10,187.77 498.98,187.77 499.86,187.76 500.74,187.76 501.61,187.76 502.49,187.76 503.37,187.76 504.25,187.75 505.12,187.75 506.00,187.75 506.88,187.74 507.75,187.74 508.63,187.74 509.51,187.73 510.39,187.73 511.26,187.72 512.14,187.72 513.02,187.71 513.90,187.71 514.77,187.70 515.65,187.70 516.53,187.69 517.40,187.69 518.28,187.68 519.16,187.67 520.04,187.66 520.91,187.66 521.79,187.65 522.67,187.64 523.55,187.63 524.42,187.62 525.30,187.61 526.18,187.60 527.05,187.58 527.93,187.57 528.81,187.56 529.69,187.54 530.56,187.53 531.44,187.51 532.32,187.49 533.20,187.48 534.07,187.46 534.95,187.44 535.83,187.42 536.70,187.39 537.58,187.37 538.46,187.34 539.34,187.31 540.21,187.29 541.09,187.25 541.97,187.22 542.85,187.19 543.72,187.15 544.60,187.11 545.48,187.07 546.35,187.03 547.23,186.98 548.11,186.93 548.99,186.88 549.86,186.83 550.74,186.77 551.62,186.71 552.50,186.64 553.37,186.57 554.25,186.50 555.13,186.42 556.00,186.34 556.88,186.26 557.76,186.17 558.64,186.07 559.51,185.97 560.39,185.86 561.27,185.74 562.15,185.62 563.02,185.49 563.90,185.36 564.78,185.21 565.65,185.06 566.53,184.90 567.41,184.73 568.29,184.55 569.16,184.36 570.04,184.16 570.92,183.94 571.80,183.72 572.67,183.48 573.55,183.23 574.43,182.96 575.30,182.68 576.18,182.39 577.06,182.07 577.94,181.74 578.81,181.39 579.69,181.03 580.57,180.64 581.45,180.23 582.32,179.80 583.20,179.34 584.08,178.86 584.95,178.36 585.83,177.83 586.71,177.27 587.59,176.68 588.46,176.06 589.34,175.41 590.22,174.73 591.10,174.01 591.97,173.26 592.85,172.47 593.73,171.64 594.60,170.77 595.48,169.86 596.36,168.91 597.24,167.92 598.11,166.88 598.99,165.79 599.87,164.66 600.75,163.47 601.62,162.24 602.50,160.96 603.38,159.62 604.25,158.24 605.13,156.80 606.01,155.31 606.89,153.76 607.76,152.16 608.64,150.50 609.52,148.80 610.40,147.03 611.27,145.22 612.15,143.35 613.03,141.43 613.90,139.47 614.78,137.45 615.66,135.39 616.54,133.28 617.41,131.13 618.29,128.94 619.17,126.71 620.05,124.45 620.92,122.16 621.80,119.84 622.68,117.49 623.55,115.12 624.43,112.74 625.31,110.34 626.19,107.93 627.06,105.52 627.94,103.11 628.82,100.69 629.70,98.29 630.57,95.90 631.45,93.52 632.33,91.16 633.21,88.82 634.08,86.51 634.96,84.23 635.84,81.98 636.71,79.76 637.59,77.59 638.47,75.45 639.35,73.36 640.22,71.31 641.10,69.31 641.98,67.36 642.86,65.46 643.73,63.62 644.61,61.82 645.49,60.08 646.36,58.39 647.24,56.76 648.12,55.17 649.00,53.65 649.87,52.17 650.75,50.75 651.63,49.39 652.51,48.07 653.38,46.81 654.26,45.59 655.14,44.43 656.01,43.31 656.89,42.24 657.77,41.22 658.65,40.24 659.52,39.30 660.40,38.41 661.28,37.55 662.16,36.74 663.03,35.96 663.91,35.22 664.79,34.52 665.66,33.85 666.54,33.21 667.42,32.60 668.30,32.02 669.17,31.48 670.05,30.95 670.93,30.46 671.81,29.99 672.68,29.54 673.56,29.12 674.44,28.72 675.31,28.34 676.19,27.98 677.07,27.64 677.95,27.31 678.82,27.00 679.70,26.71 680.58,26.44 681.46,26.18 682.33,25.93 683.21,25.70 684.09,25.48 684.96,25.27 685.84,25.07 686.72,24.88 687.60,24.71 688.47,24.54 689.35,24.38 690.23,24.23 691.11,24.09" fill="none" stroke="#353535" stroke-width="1.3"/>
<path d="M425.80,179.50h6.0M425.80,196.11h6.0M428.80,179.50V184.40M428.80,191.20V196.11" stroke="#111" stroke-width="1.45" fill="none"/>
<circle cx="428.80" cy="187.80" r="3.4" fill="#111"/>
<path d="M514.35,178.83h6.0M514.35,186.14h6.0M517.35,178.83V179.08M517.35,185.88V186.14" stroke="#111" stroke-width="1.45" fill="none"/>
<circle cx="517.35" cy="182.48" r="2.85" fill="none" stroke="#111" stroke-width="1.2"/>
<path d="M538.71,177.67h6.0M538.71,188.30h6.0M541.71,177.67V179.58M541.71,186.38V188.30" stroke="#111" stroke-width="1.45" fill="none"/>
<circle cx="541.71" cy="182.98" r="2.85" fill="none" stroke="#111" stroke-width="1.2"/>
<circle cx="567.15" cy="172.85" r="2.85" fill="none" stroke="#111" stroke-width="1.2"/>
<path d="M588.51,142.45h6.0M588.51,158.07h6.0M591.51,142.45V146.86M591.51,153.66V158.07" stroke="#111" stroke-width="1.45" fill="none"/>
<circle cx="591.51" cy="150.26" r="2.85" fill="none" stroke="#111" stroke-width="1.2"/>
<path d="M613.95,88.47h6.0M613.95,98.11h6.0M616.95,88.47V89.89M616.95,96.69V98.11" stroke="#111" stroke-width="1.45" fill="none"/>
<circle cx="616.95" cy="93.29" r="2.85" fill="none" stroke="#111" stroke-width="1.2"/>
<path d="M638.31,43.79h6.0M638.31,53.76h6.0M641.31,43.79V45.37M641.31,52.17V53.76" stroke="#111" stroke-width="1.45" fill="none"/>
<circle cx="641.31" cy="48.77" r="2.85" fill="none" stroke="#111" stroke-width="1.2"/>
<path d="M663.75,20.70h6.0M663.75,28.34h6.0M666.75,20.70V21.12M666.75,27.92V28.34" stroke="#111" stroke-width="1.45" fill="none"/>
<circle cx="666.75" cy="24.52" r="2.85" fill="none" stroke="#111" stroke-width="1.2"/>
<circle cx="567.15" cy="188.30" r="3.4" fill="#111"/>
<path d="M588.51,164.55h6.0M588.51,178.17h6.0M591.51,164.55V167.96M591.51,174.76V178.17" stroke="#111" stroke-width="1.45" fill="none"/>
<circle cx="591.51" cy="171.36" r="3.4" fill="#111"/>
<path d="M613.95,126.34h6.0M613.95,141.62h6.0M616.95,126.34V130.58M616.95,137.38V141.62" stroke="#111" stroke-width="1.45" fill="none"/>
<circle cx="616.95" cy="133.98" r="3.4" fill="#111"/>
<circle cx="641.31" cy="66.38" r="3.4" fill="#111"/>
<circle cx="666.75" cy="37.48" r="3.4" fill="#111"/>
<circle cx="691.11" cy="21.04" r="3.4" fill="#111"/>
<ellipse cx="691.11" cy="21.20" rx="3.3" ry="3.75" fill="#111"/>
<text x="413.4" y="20" font-size="13.5" textLength="76.9" lengthAdjust="spacing">b) Propazine</text>
<line x1="49.6" y1="248.4" x2="49.6" y2="448.5" stroke="#8c8c8c" stroke-width="1.2"/>
<line x1="46.800000000000004" y1="248.78" x2="49.6" y2="248.78" stroke="#8c8c8c" stroke-width="1.1"/>
<line x1="44.0" y1="265.40" x2="49.6" y2="265.40" stroke="#8c8c8c" stroke-width="1.1"/>
<text x="41.400000000000006" y="270.00" text-anchor="end" font-size="12">100</text>
<line x1="46.800000000000004" y1="282.02" x2="49.6" y2="282.02" stroke="#8c8c8c" stroke-width="1.1"/>
<line x1="46.800000000000004" y1="298.64" x2="49.6" y2="298.64" stroke="#8c8c8c" stroke-width="1.1"/>
<line x1="46.800000000000004" y1="315.26" x2="49.6" y2="315.26" stroke="#8c8c8c" stroke-width="1.1"/>
<line x1="46.800000000000004" y1="331.88" x2="49.6" y2="331.88" stroke="#8c8c8c" stroke-width="1.1"/>
<line x1="44.0" y1="348.50" x2="49.6" y2="348.50" stroke="#8c8c8c" stroke-width="1.1"/>
<text x="41.400000000000006" y="353.10" text-anchor="end" font-size="12">50</text>
<line x1="46.800000000000004" y1="365.12" x2="49.6" y2="365.12" stroke="#8c8c8c" stroke-width="1.1"/>
<line x1="46.800000000000004" y1="381.74" x2="49.6" y2="381.74" stroke="#8c8c8c" stroke-width="1.1"/>
<line x1="46.800000000000004" y1="398.36" x2="49.6" y2="398.36" stroke="#8c8c8c" stroke-width="1.1"/>
<line x1="46.800000000000004" y1="414.98" x2="49.6" y2="414.98" stroke="#8c8c8c" stroke-width="1.1"/>
<line x1="44.0" y1="431.60" x2="49.6" y2="431.60" stroke="#8c8c8c" stroke-width="1.1"/>
<text x="41.400000000000006" y="436.20" text-anchor="end" font-size="12">0</text>
<line x1="49.0" y1="447.9" x2="349.9" y2="447.9" stroke="#8c8c8c" stroke-width="1.2"/>
<line x1="49.50" y1="447.9" x2="49.50" y2="451.29999999999995" stroke="#8c8c8c" stroke-width="1.15"/>
<line x1="54.35" y1="447.9" x2="54.35" y2="451.29999999999995" stroke="#8c8c8c" stroke-width="1.15"/>
<line x1="58.31" y1="447.9" x2="58.31" y2="451.29999999999995" stroke="#8c8c8c" stroke-width="1.15"/>
<line x1="61.65" y1="447.9" x2="61.65" y2="451.29999999999995" stroke="#8c8c8c" stroke-width="1.15"/>
<line x1="64.55" y1="447.9" x2="64.55" y2="451.29999999999995" stroke="#8c8c8c" stroke-width="1.15"/>
<line x1="67.11" y1="447.9" x2="67.11" y2="451.29999999999995" stroke="#8c8c8c" stroke-width="1.15"/>
<line x1="69.40" y1="447.9" x2="69.40" y2="453.5" stroke="#8c8c8c" stroke-width="1.1"/>
<text x="69.00" y="467.5" text-anchor="middle" font-size="12">0</text>
<line x1="84.45" y1="447.9" x2="84.45" y2="451.29999999999995" stroke="#8c8c8c" stroke-width="1.15"/>
<line x1="93.26" y1="447.9" x2="93.26" y2="451.29999999999995" stroke="#8c8c8c" stroke-width="1.15"/>
<line x1="99.50" y1="447.9" x2="99.50" y2="451.29999999999995" stroke="#8c8c8c" stroke-width="1.15"/>
<line x1="104.35" y1="447.9" x2="104.35" y2="451.29999999999995" stroke="#8c8c8c" stroke-width="1.15"/>
<line x1="108.31" y1="447.9" x2="108.31" y2="451.29999999999995" stroke="#8c8c8c" stroke-width="1.15"/>
<line x1="111.65" y1="447.9" x2="111.65" y2="451.29999999999995" stroke="#8c8c8c" stroke-width="1.15"/>
<line x1="114.55" y1="447.9" x2="114.55" y2="451.29999999999995" stroke="#8c8c8c" stroke-width="1.15"/>
<line x1="117.11" y1="447.9" x2="117.11" y2="451.29999999999995" stroke="#8c8c8c" stroke-width="1.15"/>
<line x1="119.40" y1="447.9" x2="119.40" y2="453.5" stroke="#8c8c8c" stroke-width="1.1"/>
<text x="119.00" y="467.5" text-anchor="middle" font-size="12">0.1</text>
<line x1="134.45" y1="447.9" x2="134.45" y2="451.29999999999995" stroke="#8c8c8c" stroke-width="1.15"/>
<line x1="143.26" y1="447.9" x2="143.26" y2="451.29999999999995" stroke="#8c8c8c" stroke-width="1.15"/>
<line x1="149.50" y1="447.9" x2="149.50" y2="451.29999999999995" stroke="#8c8c8c" stroke-width="1.15"/>
<line x1="154.35" y1="447.9" x2="154.35" y2="451.29999999999995" stroke="#8c8c8c" stroke-width="1.15"/>
<line x1="158.31" y1="447.9" x2="158.31" y2="451.29999999999995" stroke="#8c8c8c" stroke-width="1.15"/>
<line x1="161.65" y1="447.9" x2="161.65" y2="451.29999999999995" stroke="#8c8c8c" stroke-width="1.15"/>
<line x1="164.55" y1="447.9" x2="164.55" y2="451.29999999999995" stroke="#8c8c8c" stroke-width="1.15"/>
<line x1="167.11" y1="447.9" x2="167.11" y2="451.29999999999995" stroke="#8c8c8c" stroke-width="1.15"/>
<line x1="169.40" y1="447.9" x2="169.40" y2="453.5" stroke="#8c8c8c" stroke-width="1.1"/>
<text x="169.00" y="467.5" text-anchor="middle" font-size="12">1</text>
<line x1="184.45" y1="447.9" x2="184.45" y2="451.29999999999995" stroke="#8c8c8c" stroke-width="1.15"/>
<line x1="193.26" y1="447.9" x2="193.26" y2="451.29999999999995" stroke="#8c8c8c" stroke-width="1.15"/>
<line x1="199.50" y1="447.9" x2="199.50" y2="451.29999999999995" stroke="#8c8c8c" stroke-width="1.15"/>
<line x1="204.35" y1="447.9" x2="204.35" y2="451.29999999999995" stroke="#8c8c8c" stroke-width="1.15"/>
<line x1="208.31" y1="447.9" x2="208.31" y2="451.29999999999995" stroke="#8c8c8c" stroke-width="1.15"/>
<line x1="211.65" y1="447.9" x2="211.65" y2="451.29999999999995" stroke="#8c8c8c" stroke-width="1.15"/>
<line x1="214.55" y1="447.9" x2="214.55" y2="451.29999999999995" stroke="#8c8c8c" stroke-width="1.15"/>
<line x1="217.11" y1="447.9" x2="217.11" y2="451.29999999999995" stroke="#8c8c8c" stroke-width="1.15"/>
<line x1="219.40" y1="447.9" x2="219.40" y2="453.5" stroke="#8c8c8c" stroke-width="1.1"/>
<text x="219.00" y="467.5" text-anchor="middle" font-size="12">10</text>
<line x1="234.45" y1="447.9" x2="234.45" y2="451.29999999999995" stroke="#8c8c8c" stroke-width="1.15"/>
<line x1="243.26" y1="447.9" x2="243.26" y2="451.29999999999995" stroke="#8c8c8c" stroke-width="1.15"/>
<line x1="249.50" y1="447.9" x2="249.50" y2="451.29999999999995" stroke="#8c8c8c" stroke-width="1.15"/>
<line x1="254.35" y1="447.9" x2="254.35" y2="451.29999999999995" stroke="#8c8c8c" stroke-width="1.15"/>
<line x1="258.31" y1="447.9" x2="258.31" y2="451.29999999999995" stroke="#8c8c8c" stroke-width="1.15"/>
<line x1="261.65" y1="447.9" x2="261.65" y2="451.29999999999995" stroke="#8c8c8c" stroke-width="1.15"/>
<line x1="264.55" y1="447.9" x2="264.55" y2="451.29999999999995" stroke="#8c8c8c" stroke-width="1.15"/>
<line x1="267.11" y1="447.9" x2="267.11" y2="451.29999999999995" stroke="#8c8c8c" stroke-width="1.15"/>
<line x1="269.40" y1="447.9" x2="269.40" y2="453.5" stroke="#8c8c8c" stroke-width="1.1"/>
<text x="269.00" y="467.5" text-anchor="middle" font-size="12">100</text>
<line x1="284.45" y1="447.9" x2="284.45" y2="451.29999999999995" stroke="#8c8c8c" stroke-width="1.15"/>
<line x1="293.26" y1="447.9" x2="293.26" y2="451.29999999999995" stroke="#8c8c8c" stroke-width="1.15"/>
<line x1="299.50" y1="447.9" x2="299.50" y2="451.29999999999995" stroke="#8c8c8c" stroke-width="1.15"/>
<line x1="304.35" y1="447.9" x2="304.35" y2="451.29999999999995" stroke="#8c8c8c" stroke-width="1.15"/>
<line x1="308.31" y1="447.9" x2="308.31" y2="451.29999999999995" stroke="#8c8c8c" stroke-width="1.15"/>
<line x1="311.65" y1="447.9" x2="311.65" y2="451.29999999999995" stroke="#8c8c8c" stroke-width="1.15"/>
<line x1="314.55" y1="447.9" x2="314.55" y2="451.29999999999995" stroke="#8c8c8c" stroke-width="1.15"/>
<line x1="317.11" y1="447.9" x2="317.11" y2="451.29999999999995" stroke="#8c8c8c" stroke-width="1.15"/>
<line x1="319.40" y1="447.9" x2="319.40" y2="453.5" stroke="#8c8c8c" stroke-width="1.1"/>
<text x="319.00" y="467.5" text-anchor="middle" font-size="12">1000</text>
<line x1="334.45" y1="447.9" x2="334.45" y2="451.29999999999995" stroke="#8c8c8c" stroke-width="1.15"/>
<line x1="343.26" y1="447.9" x2="343.26" y2="451.29999999999995" stroke="#8c8c8c" stroke-width="1.15"/>
<g fill="#111"><circle cx="343.40" cy="431.60" r="1.3"/><circle cx="337.46" cy="431.60" r="1.3"/><circle cx="331.51" cy="431.60" r="1.3"/><circle cx="325.57" cy="431.60" r="1.3"/><circle cx="319.63" cy="431.60" r="1.3"/><circle cx="313.69" cy="431.60" r="1.3"/><circle cx="307.74" cy="431.60" r="1.3"/><circle cx="301.80" cy="431.60" r="1.3"/><circle cx="295.86" cy="431.60" r="1.3"/><circle cx="289.91" cy="431.60" r="1.3"/><circle cx="283.97" cy="431.60" r="1.3"/><circle cx="278.03" cy="431.60" r="1.3"/><circle cx="272.08" cy="431.60" r="1.3"/><circle cx="266.14" cy="431.60" r="1.3"/><circle cx="260.20" cy="431.60" r="1.3"/><circle cx="254.26" cy="431.60" r="1.3"/><circle cx="248.31" cy="431.60" r="1.3"/><circle cx="242.37" cy="431.60" r="1.3"/><circle cx="236.43" cy="431.60" r="1.3"/><circle cx="230.48" cy="431.60" r="1.3"/><circle cx="224.54" cy="431.60" r="1.3"/><circle cx="218.60" cy="431.60" r="1.3"/><circle cx="212.65" cy="431.60" r="1.3"/><circle cx="206.71" cy="431.60" r="1.3"/><circle cx="200.77" cy="431.60" r="1.3"/><circle cx="194.83" cy="431.60" r="1.3"/><circle cx="188.88" cy="431.60" r="1.3"/><circle cx="182.94" cy="431.60" r="1.3"/><circle cx="177.00" cy="431.60" r="1.3"/><circle cx="171.05" cy="431.60" r="1.3"/><circle cx="165.11" cy="431.60" r="1.3"/><circle cx="159.17" cy="431.60" r="1.3"/><circle cx="153.22" cy="431.60" r="1.3"/><circle cx="147.28" cy="431.60" r="1.3"/><circle cx="141.34" cy="431.60" r="1.3"/><circle cx="135.39" cy="431.60" r="1.3"/><circle cx="129.45" cy="431.60" r="1.3"/><circle cx="123.51" cy="431.60" r="1.3"/><circle cx="117.57" cy="431.60" r="1.3"/><circle cx="111.62" cy="431.60" r="1.3"/><circle cx="105.68" cy="431.60" r="1.3"/><circle cx="99.74" cy="431.60" r="1.3"/><circle cx="93.79" cy="431.60" r="1.3"/><circle cx="87.85" cy="431.60" r="1.3"/><circle cx="81.91" cy="431.60" r="1.3"/><circle cx="75.96" cy="431.60" r="1.3"/><circle cx="70.02" cy="431.60" r="1.3"/><circle cx="64.08" cy="431.60" r="1.3"/><circle cx="58.14" cy="431.60" r="1.3"/><circle cx="52.19" cy="431.60" r="1.3"/></g>
<polygon points="69.40,432.89 70.22,432.89 71.03,432.89 71.85,432.89 72.67,432.89 73.49,432.89 74.30,432.89 75.12,432.89 75.94,432.89 76.76,432.89 77.57,432.89 78.39,432.88 79.21,432.88 80.02,432.88 80.84,432.88 81.66,432.88 82.48,432.88 83.29,432.88 84.11,432.88 84.93,432.88 85.74,432.88 86.56,432.88 87.38,432.88 88.20,432.87 89.01,432.87 89.83,432.87 90.65,432.87 91.46,432.87 92.28,432.87 93.10,432.87 93.92,432.87 94.73,432.86 95.55,432.86 96.37,432.86 97.19,432.86 98.00,432.86 98.82,432.86 99.64,432.85 100.45,432.85 101.27,432.85 102.09,432.85 102.91,432.84 103.72,432.84 104.54,432.84 105.36,432.84 106.18,432.83 106.99,432.83 107.81,432.83 108.63,432.82 109.45,432.82 110.26,432.82 111.08,432.81 111.90,432.81 112.71,432.81 113.53,432.80 114.35,432.80 115.17,432.79 115.98,432.79 116.80,432.78 117.62,432.78 118.44,432.77 119.25,432.77 120.07,432.76 120.89,432.76 121.71,432.75 122.52,432.74 123.34,432.74 124.16,432.73 124.98,432.72 125.80,432.71 126.61,432.70 127.43,432.70 128.25,432.69 129.07,432.68 129.88,432.67 130.70,432.66 131.52,432.65 132.34,432.64 133.16,432.62 133.97,432.61 134.79,432.60 135.61,432.59 136.43,432.57 137.25,432.56 138.06,432.54 138.88,432.53 139.70,432.51 140.52,432.49 141.34,432.48 142.16,432.46 142.97,432.44 143.79,432.42 144.61,432.40 145.43,432.37 146.25,432.35 147.07,432.33 147.89,432.30 148.71,432.27 149.53,432.25 150.34,432.22 151.16,432.19 151.98,432.16 152.80,432.12 153.62,432.09 154.44,432.05 155.26,432.02 156.08,431.98 156.90,431.94 157.72,431.90 158.54,431.85 159.36,431.81 160.18,431.76 161.00,431.71 161.82,431.66 162.65,431.61 163.47,431.55 164.29,431.49 165.11,431.43 165.93,431.37 166.75,431.30 167.58,431.23 168.40,431.16 169.22,431.08 170.04,431.01 170.87,430.92 171.69,430.84 172.52,430.75 173.34,430.66 174.17,430.56 174.99,430.46 175.82,430.36 176.64,430.25 177.47,430.14 178.30,430.02 179.12,429.90 179.95,429.77 180.78,429.64 181.61,429.50 182.44,429.36 183.27,429.21 184.10,429.06 184.93,428.90 185.77,428.73 186.60,428.55 187.44,428.37 188.27,428.18 189.11,427.99 189.95,427.78 190.79,427.57 191.63,427.35 192.48,427.12 193.32,426.88 194.17,426.63 195.02,426.37 195.87,426.10 196.72,425.82 197.57,425.53 198.43,425.23 199.29,424.91 200.15,424.58 201.01,424.24 201.87,423.88 202.74,423.50 203.61,423.11 204.48,422.70 205.35,422.28 206.22,421.83 207.09,421.37 207.97,420.88 208.84,420.37 209.71,419.84 210.58,419.28 211.45,418.70 212.32,418.09 213.18,417.45 214.03,416.77 214.88,416.08 215.73,415.36 216.58,414.61 217.43,413.84 218.28,413.04 219.13,412.22 219.97,411.38 220.82,410.50 221.66,409.60 222.51,408.67 223.35,407.72 224.19,406.74 225.03,405.72 225.87,404.68 226.71,403.61 227.55,402.51 228.39,401.39 229.22,400.23 230.06,399.04 230.89,397.83 231.73,396.58 232.56,395.30 233.39,394.00 234.22,392.67 235.05,391.30 235.88,389.91 236.71,388.49 237.54,387.05 238.37,385.57 239.20,384.07 240.02,382.54 240.85,380.99 241.67,379.41 242.50,377.81 243.32,376.19 244.14,374.55 244.97,372.88 245.79,371.20 246.61,369.49 247.43,367.77 248.25,366.04 249.07,364.29 249.89,362.53 250.71,360.75 251.53,358.97 252.35,357.18 253.17,355.39 253.99,353.59 254.81,351.78 255.62,349.98 256.44,348.17 257.26,346.37 258.07,344.57 258.89,342.78 259.71,340.99 260.52,339.21 261.34,337.45 262.15,335.69 262.96,333.95 263.78,332.23 264.59,330.52 265.40,328.83 266.22,327.15 267.03,325.50 267.84,323.87 268.65,322.27 269.46,320.68 270.27,319.12 271.08,317.59 271.89,316.09 272.69,314.61 273.50,313.16 274.31,311.74 275.11,310.34 275.92,308.98 276.72,307.65 277.52,306.35 278.33,305.07 279.13,303.83 279.93,302.62 280.73,301.44 281.53,300.29 282.33,299.18 283.13,298.09 283.92,297.03 284.72,296.01 285.51,295.01 286.31,294.04 287.10,293.10 287.89,292.19 288.68,291.31 289.47,290.46 290.26,289.63 291.05,288.83 291.83,288.06 292.62,287.31 293.41,286.59 294.19,285.89 294.98,285.21 295.76,284.56 296.54,283.93 297.32,283.33 298.11,282.74 298.89,282.17 299.67,281.63 300.45,281.10 301.23,280.60 302.01,280.11 302.79,279.64 303.57,279.18 304.35,278.75 305.13,278.33 305.92,277.92 306.70,277.53 307.48,277.15 308.26,276.79 309.04,276.44 309.83,276.11 310.61,275.79 311.40,275.47 312.18,275.18 312.97,274.89 313.75,274.61 314.56,274.34 312.89,269.41 312.06,269.70 311.21,269.99 310.36,270.30 309.52,270.63 308.67,270.96 307.82,271.31 306.96,271.68 306.11,272.06 305.26,272.45 304.41,272.86 303.56,273.29 302.70,273.73 301.85,274.19 301.00,274.67 300.14,275.16 299.29,275.68 298.44,276.21 297.58,276.77 296.73,277.34 295.88,277.94 295.02,278.55 294.17,279.19 293.32,279.85 292.47,280.54 291.62,281.24 290.77,281.98 289.92,282.73 289.07,283.51 288.22,284.32 287.37,285.15 286.53,286.01 285.68,286.90 284.84,287.81 283.99,288.75 283.15,289.72 282.31,290.71 281.47,291.74 280.63,292.79 279.79,293.88 278.95,294.99 278.12,296.13 277.28,297.30 276.44,298.50 275.61,299.73 274.78,300.99 273.94,302.28 273.11,303.59 272.28,304.94 271.45,306.32 270.62,307.72 269.79,309.15 268.97,310.61 268.14,312.10 267.31,313.61 266.49,315.15 265.66,316.71 264.84,318.30 264.01,319.91 263.19,321.54 262.37,323.20 261.54,324.87 260.72,326.56 259.90,328.28 259.08,330.00 258.26,331.74 257.44,333.50 256.62,335.26 255.80,337.04 254.98,338.83 254.16,340.62 253.34,342.42 252.52,344.22 251.70,346.03 250.89,347.83 250.07,349.64 249.25,351.44 248.44,353.23 247.62,355.02 246.81,356.81 245.99,358.58 245.18,360.34 244.36,362.09 243.55,363.82 242.74,365.54 241.92,367.24 241.11,368.92 240.30,370.59 239.49,372.23 238.68,373.85 237.87,375.45 237.06,377.02 236.25,378.56 235.44,380.09 234.63,381.58 233.82,383.04 233.02,384.48 232.21,385.89 231.41,387.27 230.60,388.62 229.80,389.94 228.99,391.23 228.19,392.49 227.39,393.71 226.59,394.91 225.79,396.07 224.99,397.21 224.19,398.31 223.40,399.39 222.60,400.43 221.80,401.44 221.01,402.43 220.22,403.38 219.43,404.31 218.63,405.21 217.84,406.07 217.05,406.92 216.27,407.73 215.48,408.52 214.69,409.28 213.91,410.02 213.12,410.73 212.34,411.42 211.55,412.08 210.77,412.72 209.99,413.34 209.21,413.95 208.44,414.55 207.68,415.12 206.91,415.69 206.15,416.24 205.39,416.77 204.63,417.29 203.87,417.80 203.11,418.29 202.35,418.76 201.58,419.22 200.82,419.66 200.05,420.09 199.28,420.50 198.50,420.90 197.73,421.28 196.95,421.66 196.18,422.01 195.40,422.35 194.61,422.69 193.83,423.00 193.04,423.31 192.25,423.60 191.46,423.88 190.67,424.15 189.88,424.41 189.09,424.66 188.29,424.90 187.50,425.13 186.70,425.35 185.90,425.56 185.10,425.76 184.30,425.96 183.50,426.14 182.69,426.32 181.89,426.49 181.09,426.65 180.28,426.81 179.48,426.96 178.67,427.10 177.86,427.24 177.06,427.37 176.25,427.49 175.44,427.61 174.63,427.73 173.82,427.84 173.01,427.94 172.20,428.04 171.39,428.14 170.58,428.23 169.77,428.32 168.96,428.41 168.15,428.49 167.34,428.57 166.53,428.64 165.71,428.71 164.90,428.78 164.09,428.84 163.28,428.91 162.46,428.97 161.65,429.02 160.84,429.08 160.02,429.13 159.21,429.18 158.39,429.23 157.58,429.27 156.77,429.32 155.95,429.36 155.14,429.40 154.32,429.44 153.51,429.47 152.69,429.51 151.88,429.54 151.06,429.58 150.25,429.61 149.43,429.64 148.62,429.66 147.80,429.69 146.99,429.72 146.17,429.74 145.36,429.77 144.54,429.79 143.73,429.81 142.91,429.83 142.09,429.85 141.28,429.87 140.46,429.89 139.65,429.91 138.83,429.92 138.01,429.94 137.20,429.95 136.38,429.97 135.57,429.98 134.75,430.00 133.93,430.01 133.12,430.02 132.30,430.03 131.49,430.05 130.67,430.06 129.85,430.07 129.04,430.08 128.22,430.09 127.40,430.10 126.59,430.10 125.77,430.11 124.95,430.12 124.14,430.13 123.32,430.14 122.50,430.14 121.69,430.15 120.87,430.16 120.05,430.16 119.24,430.17 118.42,430.17 117.60,430.18 116.79,430.18 115.97,430.19 115.15,430.19 114.34,430.20 113.52,430.20 112.70,430.21 111.89,430.21 111.07,430.21 110.25,430.22 109.43,430.22 108.62,430.22 107.80,430.23 106.98,430.23 106.17,430.23 105.35,430.24 104.53,430.24 103.72,430.24 102.90,430.24 102.08,430.25 101.26,430.25 100.45,430.25 99.63,430.25 98.81,430.26 98.00,430.26 97.18,430.26 96.36,430.26 95.55,430.26 94.73,430.26 93.91,430.27 93.09,430.27 92.28,430.27 91.46,430.27 90.64,430.27 89.83,430.27 89.01,430.27 88.19,430.27 87.38,430.28 86.56,430.28 85.74,430.28 84.92,430.28 84.11,430.28 83.29,430.28 82.47,430.28 81.66,430.28 80.84,430.28 80.02,430.28 79.20,430.28 78.39,430.28 77.57,430.29 76.75,430.29 75.94,430.29 75.12,430.29 74.30,430.29 73.48,430.29 72.67,430.29 71.85,430.29 71.03,430.29 70.22,430.29 69.40,430.29" fill="#d8d8d8"/>
<polygon points="69.40,432.40 70.22,432.40 71.03,432.40 71.85,432.40 72.67,432.39 73.49,432.39 74.30,432.39 75.12,432.39 75.94,432.39 76.75,432.39 77.57,432.39 78.39,432.39 79.21,432.39 80.02,432.39 80.84,432.39 81.66,432.39 82.48,432.39 83.29,432.39 84.11,432.39 84.93,432.38 85.74,432.38 86.56,432.38 87.38,432.38 88.20,432.38 89.01,432.38 89.83,432.38 90.65,432.38 91.46,432.38 92.28,432.37 93.10,432.37 93.92,432.37 94.73,432.37 95.55,432.37 96.37,432.37 97.18,432.37 98.00,432.36 98.82,432.36 99.64,432.36 100.45,432.36 101.27,432.36 102.09,432.35 102.91,432.35 103.72,432.35 104.54,432.35 105.36,432.34 106.17,432.34 106.99,432.34 107.81,432.33 108.63,432.33 109.44,432.33 110.26,432.32 111.08,432.32 111.90,432.32 112.71,432.31 113.53,432.31 114.35,432.30 115.16,432.30 115.98,432.29 116.80,432.29 117.62,432.28 118.43,432.28 119.25,432.27 120.07,432.27 120.89,432.26 121.70,432.26 122.52,432.25 123.34,432.24 124.16,432.23 124.97,432.23 125.79,432.22 126.61,432.21 127.43,432.20 128.24,432.19 129.06,432.18 129.88,432.17 130.70,432.16 131.51,432.15 132.33,432.14 133.15,432.13 133.97,432.12 134.78,432.10 135.60,432.09 136.42,432.08 137.24,432.06 138.06,432.05 138.87,432.03 139.69,432.02 140.51,432.00 141.33,431.98 142.14,431.96 142.96,431.94 143.78,431.92 144.60,431.90 145.42,431.88 146.23,431.85 147.05,431.83 147.87,431.80 148.69,431.78 149.51,431.75 150.33,431.72 151.14,431.69 151.96,431.66 152.78,431.63 153.60,431.59 154.42,431.56 155.24,431.52 156.06,431.48 156.88,431.44 157.69,431.40 158.51,431.35 159.33,431.31 160.15,431.26 160.97,431.21 161.79,431.16 162.61,431.10 163.43,431.05 164.25,430.99 165.07,430.93 165.89,430.86 166.71,430.79 167.53,430.72 168.35,430.65 169.17,430.58 169.99,430.50 170.81,430.41 171.64,430.33 172.46,430.24 173.28,430.14 174.10,430.05 174.92,429.94 175.74,429.84 176.57,429.73 177.39,429.61 178.21,429.49 179.04,429.37 179.86,429.24 180.69,429.10 181.51,428.96 182.34,428.82 183.16,428.66 183.99,428.50 184.81,428.34 185.64,428.17 186.47,427.99 187.30,427.80 188.13,427.60 188.96,427.40 189.79,427.19 190.62,426.97 191.45,426.74 192.28,426.51 193.12,426.26 193.95,426.00 194.79,425.73 195.63,425.46 196.47,425.17 197.31,424.86 198.15,424.55 198.99,424.22 199.83,423.88 200.68,423.53 201.53,423.16 202.37,422.77 203.22,422.37 204.07,421.95 204.92,421.52 205.77,421.07 206.63,420.59 207.48,420.10 208.33,419.59 209.18,419.05 210.03,418.49 210.88,417.91 211.73,417.30 212.57,416.67 213.41,416.00 214.25,415.32 215.09,414.61 215.92,413.87 216.76,413.11 217.60,412.33 218.43,411.52 219.27,410.68 220.10,409.82 220.94,408.93 221.77,408.02 222.60,407.07 223.44,406.10 224.27,405.10 225.10,404.07 225.93,403.01 226.76,401.92 227.59,400.80 228.42,399.66 229.25,398.48 230.08,397.27 230.90,396.04 231.73,394.77 232.56,393.47 233.38,392.15 234.21,390.79 235.03,389.41 235.86,388.00 236.68,386.56 237.51,385.09 238.33,383.60 239.15,382.08 239.97,380.53 240.80,378.96 241.62,377.36 242.44,375.75 243.26,374.11 244.08,372.44 244.90,370.76 245.72,369.07 246.54,367.35 247.36,365.62 248.18,363.87 249.00,362.11 249.82,360.34 250.64,358.56 251.45,356.77 252.27,354.98 253.09,353.18 253.91,351.37 254.72,349.57 255.54,347.76 256.36,345.96 257.18,344.16 257.99,342.37 258.81,340.58 259.62,338.80 260.44,337.03 261.25,335.28 262.07,333.53 262.88,331.80 263.70,330.09 264.51,328.40 265.33,326.72 266.14,325.07 266.95,323.43 267.77,321.82 268.58,320.23 269.39,318.67 270.20,317.13 271.02,315.62 271.83,314.13 272.64,312.67 273.45,311.25 274.26,309.85 275.07,308.47 275.88,307.13 276.69,305.82 277.49,304.54 278.30,303.29 279.11,302.07 279.92,300.88 280.72,299.73 281.53,298.60 282.33,297.50 283.14,296.43 283.94,295.39 284.74,294.39 285.55,293.41 286.35,292.46 287.15,291.54 287.95,290.65 288.75,289.78 289.55,288.94 290.35,288.13 291.15,287.35 291.95,286.59 292.74,285.85 293.54,285.14 294.34,284.46 295.13,283.80 295.93,283.16 296.73,282.54 297.52,281.94 298.32,281.37 299.11,280.81 299.90,280.28 300.70,279.76 301.49,279.27 302.29,278.79 303.08,278.33 303.88,277.88 304.67,277.45 305.47,277.04 306.26,276.64 307.06,276.26 307.85,275.89 308.65,275.54 309.45,275.20 310.24,274.87 311.04,274.55 311.84,274.25 312.63,273.96 313.43,273.68 314.24,273.41 313.21,270.35 312.38,270.63 311.55,270.92 310.71,271.23 309.87,271.55 309.04,271.88 308.20,272.22 307.36,272.58 306.52,272.96 305.68,273.34 304.84,273.75 304.00,274.17 303.17,274.60 302.33,275.06 301.49,275.52 300.65,276.01 299.81,276.52 298.97,277.04 298.13,277.59 297.29,278.15 296.45,278.74 295.61,279.35 294.77,279.98 293.93,280.63 293.09,281.30 292.25,282.00 291.42,282.72 290.58,283.46 289.74,284.23 288.91,285.03 288.07,285.85 287.24,286.70 286.40,287.57 285.57,288.47 284.73,289.40 283.90,290.36 283.07,291.35 282.24,292.36 281.41,293.40 280.58,294.48 279.75,295.58 278.92,296.71 278.09,297.87 277.26,299.06 276.43,300.28 275.60,301.53 274.78,302.81 273.95,304.12 273.13,305.45 272.30,306.82 271.48,308.22 270.65,309.64 269.83,311.10 269.00,312.57 268.18,314.08 267.36,315.61 266.54,317.17 265.71,318.75 264.89,320.36 264.07,321.99 263.25,323.64 262.43,325.31 261.61,326.99 260.79,328.70 259.97,330.42 259.15,332.16 258.33,333.92 257.51,335.68 256.69,337.45 255.88,339.24 255.06,341.03 254.24,342.83 253.42,344.63 252.60,346.43 251.79,348.24 250.97,350.04 250.15,351.84 249.34,353.64 248.52,355.43 247.71,357.22 246.89,358.99 246.07,360.75 245.26,362.51 244.44,364.24 243.63,365.96 242.81,367.67 242.00,369.36 241.19,371.02 240.37,372.67 239.56,374.29 238.75,375.90 237.93,377.47 237.12,379.03 236.31,380.55 235.50,382.05 234.69,383.52 233.88,384.97 233.07,386.39 232.26,387.77 231.45,389.13 230.64,390.46 229.83,391.75 229.02,393.02 228.21,394.26 227.41,395.46 226.60,396.64 225.80,397.78 224.99,398.90 224.19,399.98 223.38,401.04 222.58,402.06 221.77,403.05 220.97,404.02 220.17,404.96 219.37,405.86 218.57,406.74 217.77,407.60 216.97,408.42 216.17,409.22 215.37,410.00 214.58,410.74 213.78,411.47 212.98,412.17 212.18,412.84 211.39,413.49 210.59,414.12 209.80,414.74 209.01,415.33 208.23,415.91 207.45,416.48 206.66,417.02 205.88,417.55 205.10,418.07 204.32,418.56 203.53,419.04 202.75,419.51 201.97,419.96 201.18,420.39 200.39,420.81 199.61,421.21 198.82,421.60 198.03,421.97 197.23,422.33 196.44,422.68 195.65,423.01 194.85,423.33 194.05,423.64 193.26,423.94 192.46,424.22 191.66,424.50 190.86,424.76 190.05,425.01 189.25,425.26 188.45,425.49 187.64,425.71 186.84,425.92 186.03,426.13 185.23,426.33 184.42,426.51 183.61,426.69 182.80,426.87 181.99,427.03 181.19,427.19 180.38,427.35 179.57,427.49 178.76,427.63 177.95,427.77 177.13,427.89 176.32,428.02 175.51,428.14 174.70,428.25 173.89,428.36 173.08,428.46 172.26,428.56 171.45,428.65 170.64,428.74 169.82,428.83 169.01,428.92 168.20,429.00 167.38,429.07 166.57,429.14 165.75,429.22 164.94,429.28 164.13,429.35 163.31,429.41 162.50,429.47 161.68,429.52 160.87,429.58 160.05,429.63 159.24,429.68 158.42,429.73 157.61,429.77 156.79,429.82 155.98,429.86 155.16,429.90 154.35,429.93 153.53,429.97 152.71,430.01 151.90,430.04 151.08,430.07 150.27,430.10 149.45,430.13 148.64,430.16 147.82,430.19 147.00,430.21 146.19,430.24 145.37,430.26 144.56,430.28 143.74,430.31 142.92,430.33 142.11,430.35 141.29,430.37 140.47,430.38 139.66,430.40 138.84,430.42 138.02,430.43 137.21,430.45 136.39,430.46 135.57,430.48 134.76,430.49 133.94,430.50 133.12,430.52 132.31,430.53 131.49,430.54 130.68,430.55 129.86,430.56 129.04,430.57 128.22,430.58 127.41,430.59 126.59,430.60 125.77,430.61 124.96,430.61 124.14,430.62 123.32,430.63 122.51,430.64 121.69,430.64 120.87,430.65 120.06,430.66 119.24,430.66 118.42,430.67 117.61,430.67 116.79,430.68 115.97,430.68 115.16,430.69 114.34,430.69 113.52,430.70 112.70,430.70 111.89,430.70 111.07,430.71 110.25,430.71 109.44,430.72 108.62,430.72 107.80,430.72 106.99,430.72 106.17,430.73 105.35,430.73 104.53,430.73 103.72,430.74 102.90,430.74 102.08,430.74 101.27,430.74 100.45,430.75 99.63,430.75 98.82,430.75 98.00,430.75 97.18,430.75 96.36,430.75 95.55,430.76 94.73,430.76 93.91,430.76 93.10,430.76 92.28,430.76 91.46,430.76 90.64,430.77 89.83,430.77 89.01,430.77 88.19,430.77 87.38,430.77 86.56,430.77 85.74,430.77 84.92,430.77 84.11,430.77 83.29,430.77 82.47,430.78 81.66,430.78 80.84,430.78 80.02,430.78 79.20,430.78 78.39,430.78 77.57,430.78 76.75,430.78 75.94,430.78 75.12,430.78 74.30,430.78 73.49,430.78 72.67,430.78 71.85,430.78 71.03,430.78 70.22,430.78 69.40,430.78" fill="#bdbdbd"/>
<polyline points="69.40,431.59 70.22,431.59 71.03,431.59 71.85,431.59 72.67,431.59 73.49,431.59 74.30,431.59 75.12,431.59 75.94,431.59 76.75,431.59 77.57,431.59 78.39,431.58 79.21,431.58 80.02,431.58 80.84,431.58 81.66,431.58 82.47,431.58 83.29,431.58 84.11,431.58 84.93,431.58 85.74,431.58 86.56,431.58 87.38,431.58 88.19,431.57 89.01,431.57 89.83,431.57 90.65,431.57 91.46,431.57 92.28,431.57 93.10,431.57 93.91,431.57 94.73,431.56 95.55,431.56 96.37,431.56 97.18,431.56 98.00,431.56 98.82,431.56 99.63,431.55 100.45,431.55 101.27,431.55 102.09,431.55 102.90,431.54 103.72,431.54 104.54,431.54 105.35,431.54 106.17,431.53 106.99,431.53 107.81,431.53 108.62,431.52 109.44,431.52 110.26,431.52 111.07,431.51 111.89,431.51 112.71,431.51 113.53,431.50 114.34,431.50 115.16,431.49 115.98,431.49 116.79,431.48 117.61,431.48 118.43,431.47 119.25,431.47 120.06,431.46 120.88,431.46 121.70,431.45 122.51,431.44 123.33,431.44 124.15,431.43 124.97,431.42 125.78,431.41 126.60,431.40 127.42,431.40 128.23,431.39 129.05,431.38 129.87,431.37 130.69,431.36 131.50,431.35 132.32,431.33 133.14,431.32 133.95,431.31 134.77,431.30 135.59,431.28 136.41,431.27 137.22,431.26 138.04,431.24 138.86,431.22 139.67,431.21 140.49,431.19 141.31,431.17 142.13,431.15 142.94,431.13 143.76,431.11 144.58,431.09 145.39,431.07 146.21,431.05 147.03,431.02 147.85,431.00 148.66,430.97 149.48,430.94 150.30,430.91 151.11,430.88 151.93,430.85 152.75,430.82 153.57,430.78 154.38,430.75 155.20,430.71 156.02,430.67 156.83,430.63 157.65,430.59 158.47,430.54 159.29,430.49 160.10,430.44 160.92,430.39 161.74,430.34 162.55,430.29 163.37,430.23 164.19,430.17 165.01,430.10 165.82,430.04 166.64,429.97 167.46,429.90 168.27,429.82 169.09,429.75 169.91,429.66 170.73,429.58 171.54,429.49 172.36,429.40 173.18,429.30 173.99,429.20 174.81,429.10 175.63,428.99 176.45,428.87 177.26,428.75 178.08,428.63 178.90,428.50 179.71,428.36 180.53,428.22 181.35,428.08 182.17,427.92 182.98,427.77 183.80,427.60 184.62,427.43 185.43,427.25 186.25,427.06 187.07,426.86 187.89,426.66 188.70,426.44 189.52,426.22 190.34,425.99 191.15,425.75 191.97,425.50 192.79,425.24 193.61,424.97 194.42,424.69 195.24,424.40 196.06,424.09 196.87,423.77 197.69,423.44 198.51,423.10 199.33,422.74 200.14,422.37 200.96,421.98 201.78,421.58 202.59,421.16 203.41,420.73 204.23,420.28 205.05,419.81 205.86,419.33 206.68,418.83 207.50,418.31 208.31,417.76 209.13,417.20 209.95,416.62 210.77,416.02 211.58,415.39 212.40,414.75 213.22,414.08 214.03,413.39 214.85,412.67 215.67,411.93 216.49,411.16 217.30,410.37 218.12,409.55 218.94,408.71 219.75,407.84 220.57,406.94 221.39,406.01 222.20,405.06 223.02,404.08 223.84,403.06 224.66,402.02 225.47,400.95 226.29,399.85 227.11,398.72 227.92,397.56 228.74,396.37 229.56,395.15 230.38,393.90 231.19,392.61 232.01,391.30 232.83,389.96 233.64,388.59 234.46,387.19 235.28,385.76 236.10,384.31 236.91,382.82 237.73,381.31 238.55,379.78 239.36,378.22 240.18,376.63 241.00,375.02 241.82,373.39 242.63,371.73 243.45,370.06 244.27,368.37 245.08,366.66 245.90,364.93 246.72,363.19 247.54,361.43 248.35,359.67 249.17,357.89 249.99,356.10 250.80,354.31 251.62,352.51 252.44,350.71 253.26,348.90 254.07,347.10 254.89,345.30 255.71,343.50 256.52,341.70 257.34,339.91 258.16,338.13 258.98,336.36 259.79,334.60 260.61,332.85 261.43,331.11 262.24,329.40 263.06,327.70 263.88,326.01 264.70,324.35 265.51,322.71 266.33,321.09 267.15,319.49 267.96,317.92 268.78,316.37 269.60,314.85 270.42,313.35 271.23,311.88 272.05,310.44 272.87,309.03 273.68,307.65 274.50,306.29 275.32,304.97 276.14,303.67 276.95,302.41 277.77,301.18 278.59,299.97 279.40,298.80 280.22,297.65 281.04,296.54 281.86,295.45 282.67,294.40 283.49,293.37 284.31,292.38 285.12,291.41 285.94,290.47 286.76,289.56 287.58,288.68 288.39,287.82 289.21,286.99 290.03,286.19 290.84,285.41 291.66,284.66 292.48,283.93 293.30,283.23 294.11,282.55 294.93,281.89 295.75,281.26 296.56,280.65 297.38,280.05 298.20,279.48 299.02,278.93 299.83,278.40 300.65,277.89 301.47,277.40 302.28,276.93 303.10,276.47 303.92,276.03 304.74,275.60 305.55,275.20 306.37,274.80 307.19,274.42 308.00,274.06 308.82,273.71 309.64,273.37 310.46,273.05 311.27,272.74 312.09,272.44 312.91,272.15 313.72,271.88" fill="none" stroke="#626262" stroke-width="1.3" stroke-dasharray="3.6 1.9"/>
<polygon points="69.40,432.95 70.22,432.95 71.03,432.95 71.85,432.95 72.67,432.95 73.49,432.95 74.30,432.95 75.12,432.95 75.94,432.95 76.75,432.95 77.57,432.95 78.39,432.95 79.21,432.95 80.02,432.95 80.84,432.95 81.66,432.95 82.47,432.95 83.29,432.95 84.11,432.94 84.93,432.94 85.74,432.94 86.56,432.94 87.38,432.94 88.19,432.94 89.01,432.94 89.83,432.94 90.65,432.94 91.46,432.94 92.28,432.94 93.10,432.94 93.91,432.94 94.73,432.94 95.55,432.94 96.37,432.94 97.18,432.94 98.00,432.94 98.82,432.94 99.63,432.94 100.45,432.94 101.27,432.94 102.09,432.94 102.90,432.94 103.72,432.94 104.54,432.93 105.36,432.93 106.17,432.93 106.99,432.93 107.81,432.93 108.62,432.93 109.44,432.93 110.26,432.93 111.08,432.93 111.89,432.93 112.71,432.93 113.53,432.93 114.34,432.92 115.16,432.92 115.98,432.92 116.80,432.92 117.61,432.92 118.43,432.92 119.25,432.92 120.07,432.92 120.88,432.91 121.70,432.91 122.52,432.91 123.33,432.91 124.15,432.91 124.97,432.91 125.79,432.90 126.60,432.90 127.42,432.90 128.24,432.90 129.05,432.90 129.87,432.89 130.69,432.89 131.51,432.89 132.32,432.89 133.14,432.88 133.96,432.88 134.78,432.88 135.59,432.87 136.41,432.87 137.23,432.87 138.05,432.86 138.86,432.86 139.68,432.86 140.50,432.85 141.32,432.85 142.13,432.84 142.95,432.84 143.77,432.83 144.59,432.83 145.40,432.82 146.22,432.82 147.04,432.81 147.86,432.81 148.67,432.80 149.49,432.79 150.31,432.79 151.13,432.78 151.94,432.77 152.76,432.76 153.58,432.76 154.40,432.75 155.21,432.74 156.03,432.73 156.85,432.72 157.67,432.71 158.49,432.70 159.30,432.69 160.12,432.68 160.94,432.66 161.76,432.65 162.58,432.64 163.39,432.63 164.21,432.61 165.03,432.60 165.85,432.58 166.67,432.57 167.48,432.55 168.30,432.53 169.12,432.51 169.94,432.50 170.76,432.48 171.58,432.46 172.40,432.43 173.21,432.41 174.03,432.39 174.85,432.36 175.67,432.34 176.49,432.31 177.31,432.28 178.13,432.26 178.95,432.23 179.77,432.19 180.59,432.16 181.41,432.13 182.23,432.09 183.05,432.06 183.87,432.02 184.69,431.98 185.51,431.93 186.33,431.89 187.15,431.85 187.97,431.80 188.79,431.75 189.61,431.70 190.43,431.64 191.25,431.59 192.07,431.53 192.89,431.47 193.72,431.41 194.54,431.34 195.36,431.27 196.18,431.20 197.00,431.12 197.83,431.05 198.65,430.97 199.47,430.88 200.30,430.79 201.12,430.70 201.95,430.61 202.77,430.51 203.60,430.40 204.42,430.30 205.25,430.18 206.07,430.07 206.90,429.95 207.73,429.82 208.55,429.69 209.38,429.55 210.21,429.41 211.04,429.26 211.87,429.11 212.70,428.94 213.53,428.78 214.36,428.60 215.19,428.42 216.03,428.23 216.86,428.04 217.70,427.83 218.53,427.62 219.37,427.40 220.21,427.17 221.05,426.93 221.89,426.69 222.73,426.43 223.57,426.16 224.41,425.88 225.26,425.59 226.10,425.29 226.95,424.97 227.80,424.65 228.65,424.31 229.50,423.95 230.35,423.59 231.21,423.20 232.06,422.80 232.92,422.39 233.78,421.95 234.63,421.50 235.49,421.03 236.35,420.55 237.21,420.04 238.07,419.51 238.92,418.95 239.78,418.38 240.63,417.78 241.48,417.15 242.33,416.50 243.17,415.82 244.02,415.12 244.86,414.40 245.71,413.65 246.55,412.88 247.39,412.08 248.23,411.26 249.07,410.42 249.91,409.54 250.75,408.64 251.59,407.72 252.43,406.77 253.27,405.79 254.10,404.78 254.94,403.75 255.77,402.68 256.61,401.59 257.44,400.47 258.27,399.32 259.10,398.15 259.94,396.94 260.77,395.71 261.60,394.45 262.43,393.16 263.25,391.84 264.08,390.49 264.91,389.12 265.74,387.72 266.56,386.29 267.39,384.84 268.21,383.36 269.04,381.85 269.86,380.32 270.68,378.77 271.51,377.20 272.33,375.60 273.15,373.98 273.97,372.34 274.80,370.69 275.62,369.02 276.44,367.33 277.26,365.62 278.08,363.91 278.90,362.18 279.72,360.44 280.54,358.69 281.35,356.93 282.17,355.17 282.99,353.40 283.81,351.63 284.63,349.86 285.44,348.09 286.26,346.32 287.08,344.55 287.89,342.79 288.71,341.04 289.52,339.29 290.34,337.55 291.15,335.83 291.97,334.12 292.78,332.42 293.60,330.73 294.41,329.07 295.22,327.42 296.03,325.79 296.85,324.18 297.66,322.60 298.47,321.03 299.28,319.49 300.09,317.98 300.90,316.49 301.71,315.02 302.52,313.58 303.33,312.17 304.14,310.79 304.94,309.43 305.75,308.11 306.56,306.81 307.36,305.54 308.17,304.30 308.97,303.09 309.77,301.91 310.58,300.76 311.38,299.64 312.18,298.55 312.98,297.49 313.78,296.46 314.58,295.45 315.39,294.46 312.06,291.74 311.23,292.75 310.40,293.80 309.56,294.88 308.73,295.98 307.90,297.12 307.07,298.28 306.23,299.47 305.40,300.69 304.57,301.94 303.74,303.22 302.92,304.52 302.09,305.85 301.26,307.22 300.43,308.60 299.61,310.02 298.78,311.46 297.96,312.93 297.13,314.42 296.31,315.94 295.48,317.48 294.66,319.04 293.84,320.63 293.01,322.24 292.19,323.86 291.37,325.51 290.55,327.17 289.73,328.86 288.91,330.55 288.09,332.26 287.27,333.99 286.45,335.72 285.63,337.47 284.81,339.22 283.99,340.98 283.17,342.75 282.36,344.51 281.54,346.29 280.72,348.06 279.90,349.83 279.09,351.60 278.27,353.36 277.46,355.12 276.64,356.87 275.82,358.61 275.01,360.34 274.19,362.06 273.38,363.76 272.57,365.46 271.75,367.13 270.94,368.79 270.13,370.42 269.31,372.04 268.50,373.64 267.69,375.21 266.88,376.77 266.07,378.29 265.26,379.80 264.45,381.28 263.64,382.73 262.83,384.15 262.02,385.55 261.22,386.92 260.41,388.26 259.60,389.57 258.80,390.85 257.99,392.10 257.19,393.33 256.38,394.52 255.58,395.69 254.78,396.82 253.98,397.93 253.17,399.00 252.37,400.05 251.57,401.07 250.78,402.06 249.98,403.02 249.18,403.95 248.38,404.86 247.59,405.73 246.79,406.58 246.00,407.41 245.21,408.21 244.41,408.98 243.62,409.73 242.83,410.45 242.04,411.15 241.25,411.83 240.46,412.49 239.67,413.12 238.88,413.73 238.10,414.33 237.32,414.91 236.54,415.47 235.76,416.02 234.98,416.55 234.21,417.07 233.43,417.57 232.66,418.05 231.88,418.52 231.10,418.98 230.32,419.41 229.55,419.84 228.76,420.25 227.98,420.64 227.20,421.02 226.42,421.39 225.63,421.74 224.84,422.09 224.06,422.41 223.27,422.73 222.47,423.03 221.68,423.33 220.89,423.61 220.10,423.88 219.30,424.14 218.50,424.39 217.71,424.63 216.91,424.86 216.11,425.08 215.31,425.29 214.51,425.50 213.70,425.69 212.90,425.88 212.10,426.06 211.29,426.24 210.49,426.40 209.69,426.56 208.88,426.71 208.07,426.86 207.27,427.00 206.46,427.14 205.65,427.27 204.84,427.39 204.03,427.51 203.23,427.62 202.42,427.73 201.61,427.84 200.80,427.94 199.99,428.03 199.18,428.13 198.37,428.22 197.55,428.30 196.74,428.38 195.93,428.46 195.12,428.53 194.31,428.61 193.49,428.67 192.68,428.74 191.87,428.80 191.06,428.86 190.24,428.92 189.43,428.98 188.62,429.03 187.80,429.08 186.99,429.13 186.18,429.18 185.36,429.22 184.55,429.26 183.73,429.31 182.92,429.34 182.10,429.38 181.29,429.42 180.48,429.45 179.66,429.49 178.85,429.52 178.03,429.55 177.22,429.58 176.40,429.61 175.58,429.63 174.77,429.66 173.95,429.68 173.14,429.71 172.32,429.73 171.51,429.75 170.69,429.77 169.88,429.79 169.06,429.81 168.24,429.83 167.43,429.85 166.61,429.86 165.80,429.88 164.98,429.90 164.16,429.91 163.35,429.92 162.53,429.94 161.72,429.95 160.90,429.96 160.08,429.98 159.27,429.99 158.45,430.00 157.63,430.01 156.82,430.02 156.00,430.03 155.18,430.04 154.37,430.05 153.55,430.06 152.74,430.06 151.92,430.07 151.10,430.08 150.29,430.09 149.47,430.09 148.65,430.10 147.84,430.11 147.02,430.11 146.20,430.12 145.38,430.12 144.57,430.13 143.75,430.13 142.93,430.14 142.12,430.14 141.30,430.15 140.48,430.15 139.67,430.16 138.85,430.16 138.03,430.16 137.22,430.17 136.40,430.17 135.58,430.17 134.77,430.18 133.95,430.18 133.13,430.18 132.32,430.19 131.50,430.19 130.68,430.19 129.86,430.19 129.05,430.20 128.23,430.20 127.41,430.20 126.60,430.20 125.78,430.20 124.96,430.21 124.15,430.21 123.33,430.21 122.51,430.21 121.69,430.21 120.88,430.21 120.06,430.22 119.24,430.22 118.43,430.22 117.61,430.22 116.79,430.22 115.97,430.22 115.16,430.22 114.34,430.22 113.52,430.23 112.71,430.23 111.89,430.23 111.07,430.23 110.26,430.23 109.44,430.23 108.62,430.23 107.80,430.23 106.99,430.23 106.17,430.23 105.35,430.23 104.54,430.23 103.72,430.24 102.90,430.24 102.08,430.24 101.27,430.24 100.45,430.24 99.63,430.24 98.82,430.24 98.00,430.24 97.18,430.24 96.36,430.24 95.55,430.24 94.73,430.24 93.91,430.24 93.10,430.24 92.28,430.24 91.46,430.24 90.65,430.24 89.83,430.24 89.01,430.24 88.19,430.24 87.38,430.24 86.56,430.24 85.74,430.24 84.93,430.24 84.11,430.24 83.29,430.25 82.47,430.25 81.66,430.25 80.84,430.25 80.02,430.25 79.21,430.25 78.39,430.25 77.57,430.25 76.75,430.25 75.94,430.25 75.12,430.25 74.30,430.25 73.49,430.25 72.67,430.25 71.85,430.25 71.03,430.25 70.22,430.25 69.40,430.25" fill="#ababab"/>
<polygon points="69.40,432.54 70.22,432.54 71.03,432.54 71.85,432.54 72.67,432.54 73.49,432.54 74.30,432.54 75.12,432.54 75.94,432.54 76.75,432.54 77.57,432.54 78.39,432.54 79.21,432.54 80.02,432.54 80.84,432.54 81.66,432.54 82.47,432.54 83.29,432.54 84.11,432.54 84.93,432.54 85.74,432.54 86.56,432.54 87.38,432.54 88.19,432.54 89.01,432.54 89.83,432.54 90.65,432.54 91.46,432.54 92.28,432.54 93.10,432.54 93.91,432.54 94.73,432.54 95.55,432.54 96.37,432.54 97.18,432.53 98.00,432.53 98.82,432.53 99.63,432.53 100.45,432.53 101.27,432.53 102.09,432.53 102.90,432.53 103.72,432.53 104.54,432.53 105.35,432.53 106.17,432.53 106.99,432.53 107.81,432.53 108.62,432.53 109.44,432.53 110.26,432.52 111.08,432.52 111.89,432.52 112.71,432.52 113.53,432.52 114.34,432.52 115.16,432.52 115.98,432.52 116.80,432.52 117.61,432.52 118.43,432.51 119.25,432.51 120.06,432.51 120.88,432.51 121.70,432.51 122.52,432.51 123.33,432.50 124.15,432.50 124.97,432.50 125.78,432.50 126.60,432.50 127.42,432.50 128.24,432.49 129.05,432.49 129.87,432.49 130.69,432.49 131.51,432.48 132.32,432.48 133.14,432.48 133.96,432.48 134.77,432.47 135.59,432.47 136.41,432.47 137.23,432.46 138.04,432.46 138.86,432.45 139.68,432.45 140.50,432.45 141.31,432.44 142.13,432.44 142.95,432.43 143.77,432.43 144.58,432.42 145.40,432.42 146.22,432.41 147.04,432.41 147.85,432.40 148.67,432.39 149.49,432.39 150.30,432.38 151.12,432.37 151.94,432.37 152.76,432.36 153.57,432.35 154.39,432.34 155.21,432.33 156.03,432.32 156.85,432.31 157.66,432.30 158.48,432.29 159.30,432.28 160.12,432.27 160.93,432.26 161.75,432.25 162.57,432.23 163.39,432.22 164.20,432.21 165.02,432.19 165.84,432.18 166.66,432.16 167.48,432.14 168.29,432.13 169.11,432.11 169.93,432.09 170.75,432.07 171.57,432.05 172.39,432.03 173.20,432.01 174.02,431.98 174.84,431.96 175.66,431.93 176.48,431.91 177.30,431.88 178.11,431.85 178.93,431.82 179.75,431.79 180.57,431.76 181.39,431.72 182.21,431.69 183.03,431.65 183.85,431.61 184.66,431.57 185.48,431.53 186.30,431.48 187.12,431.44 187.94,431.39 188.76,431.34 189.58,431.29 190.40,431.24 191.22,431.18 192.04,431.12 192.86,431.06 193.68,431.00 194.50,430.93 195.32,430.86 196.14,430.79 196.97,430.71 197.79,430.63 198.61,430.55 199.43,430.47 200.25,430.38 201.07,430.29 201.90,430.19 202.72,430.09 203.54,429.99 204.36,429.88 205.19,429.76 206.01,429.65 206.83,429.52 207.66,429.40 208.48,429.26 209.31,429.13 210.13,428.98 210.96,428.83 211.78,428.67 212.61,428.51 213.44,428.34 214.26,428.17 215.09,427.98 215.92,427.79 216.75,427.59 217.58,427.39 218.41,427.17 219.24,426.95 220.07,426.72 220.90,426.48 221.74,426.23 222.57,425.96 223.41,425.69 224.24,425.41 225.08,425.11 225.91,424.81 226.75,424.49 227.59,424.16 228.43,423.81 229.27,423.46 230.12,423.08 230.96,422.70 231.80,422.29 232.65,421.88 233.49,421.44 234.34,420.99 235.18,420.51 236.03,420.02 236.88,419.51 237.72,418.98 238.57,418.43 239.41,417.86 240.25,417.26 241.09,416.64 241.93,415.99 242.77,415.32 243.60,414.63 244.44,413.91 245.27,413.17 246.11,412.41 246.94,411.62 247.78,410.80 248.61,409.96 249.45,409.10 250.28,408.21 251.11,407.29 251.94,406.35 252.77,405.37 253.60,404.37 254.43,403.34 255.26,402.29 256.09,401.20 256.92,400.09 257.75,398.95 258.58,397.78 259.40,396.58 260.23,395.35 261.06,394.10 261.88,392.81 262.71,391.50 263.53,390.16 264.35,388.79 265.18,387.39 266.00,385.97 266.82,384.52 267.65,383.04 268.47,381.54 269.29,380.02 270.11,378.47 270.93,376.90 271.76,375.31 272.58,373.69 273.40,372.06 274.22,370.40 275.04,368.73 275.86,367.05 276.68,365.34 277.50,363.63 278.31,361.90 279.13,360.16 279.95,358.42 280.77,356.66 281.59,354.90 282.41,353.13 283.22,351.36 284.04,349.59 284.86,347.82 285.67,346.05 286.49,344.28 287.31,342.52 288.12,340.76 288.94,339.02 289.75,337.28 290.57,335.55 291.39,333.84 292.20,332.14 293.02,330.45 293.83,328.78 294.64,327.13 295.46,325.50 296.27,323.89 297.09,322.30 297.90,320.73 298.71,319.19 299.52,317.67 300.34,316.18 301.15,314.71 301.96,313.26 302.77,311.85 303.58,310.46 304.39,309.10 305.20,307.77 306.01,306.47 306.82,305.19 307.63,303.95 308.44,302.73 309.24,301.55 310.05,300.39 310.86,299.26 311.66,298.17 312.47,297.10 313.27,296.06 314.08,295.05 314.89,294.06 312.56,292.15 311.74,293.16 310.91,294.20 310.08,295.27 309.25,296.37 308.42,297.50 307.59,298.65 306.77,299.84 305.94,301.05 305.11,302.29 304.29,303.57 303.46,304.86 302.64,306.19 301.81,307.55 300.99,308.93 300.16,310.34 299.34,311.78 298.52,313.24 297.70,314.73 296.87,316.24 296.05,317.78 295.23,319.34 294.41,320.92 293.59,322.53 292.77,324.15 291.95,325.80 291.13,327.46 290.31,329.14 289.49,330.83 288.67,332.54 287.85,334.26 287.03,336.00 286.21,337.74 285.39,339.49 284.58,341.25 283.76,343.02 282.94,344.79 282.12,346.56 281.31,348.33 280.49,350.10 279.67,351.87 278.86,353.63 278.04,355.39 277.22,357.14 276.41,358.88 275.59,360.62 274.78,362.34 273.96,364.04 273.15,365.74 272.33,367.41 271.52,369.07 270.70,370.71 269.89,372.33 269.08,373.93 268.26,375.51 267.45,377.07 266.64,378.60 265.83,380.11 265.01,381.59 264.20,383.04 263.39,384.47 262.58,385.87 261.77,387.25 260.96,388.59 260.15,389.91 259.34,391.20 258.53,392.46 257.72,393.69 256.92,394.89 256.11,396.06 255.30,397.20 254.49,398.31 253.69,399.39 252.88,400.45 252.08,401.47 251.27,402.47 250.47,403.43 249.67,404.37 248.87,405.29 248.06,406.17 247.26,407.03 246.46,407.86 245.66,408.67 244.86,409.45 244.06,410.20 243.26,410.93 242.46,411.64 241.66,412.32 240.87,412.99 240.07,413.63 239.27,414.24 238.48,414.84 237.69,415.43 236.89,415.99 236.11,416.54 235.32,417.08 234.53,417.59 233.74,418.09 232.95,418.57 232.16,419.04 231.38,419.49 230.59,419.92 229.79,420.34 229.00,420.75 228.21,421.14 227.42,421.52 226.62,421.88 225.83,422.23 225.03,422.57 224.24,422.89 223.44,423.20 222.64,423.50 221.84,423.79 221.04,424.07 220.24,424.34 219.44,424.59 218.63,424.84 217.83,425.08 217.03,425.31 216.22,425.52 215.42,425.73 214.61,425.94 213.80,426.13 213.00,426.32 212.19,426.50 211.38,426.67 210.57,426.83 209.76,426.99 208.95,427.14 208.15,427.29 207.34,427.42 206.53,427.56 205.71,427.69 204.90,427.81 204.09,427.93 203.28,428.04 202.47,428.15 201.66,428.25 200.85,428.35 200.03,428.45 199.22,428.54 198.41,428.63 197.60,428.71 196.78,428.79 195.97,428.87 195.16,428.94 194.34,429.02 193.53,429.08 192.71,429.15 191.90,429.21 191.09,429.27 190.27,429.33 189.46,429.38 188.64,429.44 187.83,429.49 187.01,429.54 186.20,429.58 185.38,429.63 184.57,429.67 183.75,429.71 182.94,429.75 182.12,429.79 181.31,429.83 180.49,429.86 179.68,429.89 178.86,429.92 178.05,429.96 177.23,429.98 176.41,430.01 175.60,430.04 174.78,430.06 173.97,430.09 173.15,430.11 172.33,430.14 171.52,430.16 170.70,430.18 169.89,430.20 169.07,430.22 168.25,430.24 167.44,430.25 166.62,430.27 165.80,430.29 164.99,430.30 164.17,430.32 163.35,430.33 162.54,430.34 161.72,430.36 160.91,430.37 160.09,430.38 159.27,430.39 158.46,430.40 157.64,430.41 156.82,430.42 156.01,430.43 155.19,430.44 154.37,430.45 153.56,430.46 152.74,430.47 151.92,430.48 151.11,430.48 150.29,430.49 149.47,430.50 148.66,430.50 147.84,430.51 147.02,430.52 146.20,430.52 145.39,430.53 144.57,430.53 143.75,430.54 142.94,430.54 142.12,430.55 141.30,430.55 140.49,430.56 139.67,430.56 138.85,430.56 138.04,430.57 137.22,430.57 136.40,430.58 135.58,430.58 134.77,430.58 133.95,430.58 133.13,430.59 132.32,430.59 131.50,430.59 130.68,430.60 129.87,430.60 129.05,430.60 128.23,430.60 127.41,430.61 126.60,430.61 125.78,430.61 124.96,430.61 124.15,430.61 123.33,430.61 122.51,430.62 121.70,430.62 120.88,430.62 120.06,430.62 119.24,430.62 118.43,430.62 117.61,430.63 116.79,430.63 115.98,430.63 115.16,430.63 114.34,430.63 113.52,430.63 112.71,430.63 111.89,430.63 111.07,430.63 110.26,430.63 109.44,430.64 108.62,430.64 107.80,430.64 106.99,430.64 106.17,430.64 105.35,430.64 104.54,430.64 103.72,430.64 102.90,430.64 102.08,430.64 101.27,430.64 100.45,430.64 99.63,430.64 98.82,430.64 98.00,430.64 97.18,430.64 96.37,430.65 95.55,430.65 94.73,430.65 93.91,430.65 93.10,430.65 92.28,430.65 91.46,430.65 90.65,430.65 89.83,430.65 89.01,430.65 88.19,430.65 87.38,430.65 86.56,430.65 85.74,430.65 84.93,430.65 84.11,430.65 83.29,430.65 82.47,430.65 81.66,430.65 80.84,430.65 80.02,430.65 79.21,430.65 78.39,430.65 77.57,430.65 76.75,430.65 75.94,430.65 75.12,430.65 74.30,430.65 73.49,430.65 72.67,430.65 71.85,430.65 71.03,430.65 70.22,430.65 69.40,430.65" fill="#8e8e8e"/>
<polyline points="69.40,431.60 70.22,431.60 71.03,431.60 71.85,431.60 72.67,431.60 73.49,431.60 74.30,431.60 75.12,431.60 75.94,431.60 76.75,431.60 77.57,431.60 78.39,431.60 79.21,431.60 80.02,431.60 80.84,431.60 81.66,431.60 82.47,431.60 83.29,431.60 84.11,431.59 84.93,431.59 85.74,431.59 86.56,431.59 87.38,431.59 88.19,431.59 89.01,431.59 89.83,431.59 90.65,431.59 91.46,431.59 92.28,431.59 93.10,431.59 93.91,431.59 94.73,431.59 95.55,431.59 96.37,431.59 97.18,431.59 98.00,431.59 98.82,431.59 99.63,431.59 100.45,431.59 101.27,431.59 102.09,431.59 102.90,431.59 103.72,431.59 104.54,431.58 105.35,431.58 106.17,431.58 106.99,431.58 107.81,431.58 108.62,431.58 109.44,431.58 110.26,431.58 111.07,431.58 111.89,431.58 112.71,431.58 113.53,431.58 114.34,431.57 115.16,431.57 115.98,431.57 116.79,431.57 117.61,431.57 118.43,431.57 119.25,431.57 120.06,431.57 120.88,431.56 121.70,431.56 122.51,431.56 123.33,431.56 124.15,431.56 124.97,431.56 125.78,431.55 126.60,431.55 127.42,431.55 128.23,431.55 129.05,431.55 129.87,431.54 130.69,431.54 131.50,431.54 132.32,431.54 133.14,431.53 133.95,431.53 134.77,431.53 135.59,431.52 136.41,431.52 137.22,431.52 138.04,431.51 138.86,431.51 139.67,431.51 140.49,431.50 141.31,431.50 142.13,431.49 142.94,431.49 143.76,431.48 144.58,431.48 145.39,431.47 146.21,431.47 147.03,431.46 147.85,431.46 148.66,431.45 149.48,431.44 150.30,431.44 151.11,431.43 151.93,431.42 152.75,431.41 153.57,431.41 154.38,431.40 155.20,431.39 156.02,431.38 156.83,431.37 157.65,431.36 158.47,431.35 159.29,431.34 160.10,431.33 160.92,431.31 161.74,431.30 162.55,431.29 163.37,431.28 164.19,431.26 165.01,431.25 165.82,431.23 166.64,431.22 167.46,431.20 168.27,431.18 169.09,431.16 169.91,431.14 170.73,431.12 171.54,431.10 172.36,431.08 173.18,431.06 173.99,431.04 174.81,431.01 175.63,430.99 176.45,430.96 177.26,430.93 178.08,430.90 178.90,430.87 179.71,430.84 180.53,430.81 181.35,430.77 182.17,430.74 182.98,430.70 183.80,430.66 184.62,430.62 185.43,430.58 186.25,430.53 187.07,430.49 187.89,430.44 188.70,430.39 189.52,430.34 190.34,430.28 191.15,430.23 191.97,430.17 192.79,430.10 193.61,430.04 194.42,429.97 195.24,429.90 196.06,429.83 196.87,429.75 197.69,429.67 198.51,429.59 199.33,429.50 200.14,429.41 200.96,429.32 201.78,429.22 202.59,429.12 203.41,429.01 204.23,428.90 205.05,428.79 205.86,428.67 206.68,428.54 207.50,428.41 208.31,428.27 209.13,428.13 209.95,427.98 210.77,427.83 211.58,427.67 212.40,427.50 213.22,427.33 214.03,427.15 214.85,426.96 215.67,426.76 216.49,426.56 217.30,426.35 218.12,426.13 218.94,425.90 219.75,425.66 220.57,425.41 221.39,425.15 222.20,424.88 223.02,424.60 223.84,424.31 224.66,424.00 225.47,423.69 226.29,423.36 227.11,423.02 227.92,422.67 228.74,422.30 229.56,421.92 230.38,421.52 231.19,421.11 232.01,420.68 232.83,420.24 233.64,419.78 234.46,419.30 235.28,418.81 236.10,418.29 236.91,417.76 237.73,417.21 238.55,416.64 239.36,416.05 240.18,415.44 241.00,414.81 241.82,414.15 242.63,413.48 243.45,412.78 244.27,412.05 245.08,411.30 245.90,410.53 246.72,409.73 247.54,408.91 248.35,408.06 249.17,407.19 249.99,406.29 250.80,405.36 251.62,404.40 252.44,403.42 253.26,402.41 254.07,401.37 254.89,400.30 255.71,399.20 256.52,398.07 257.34,396.92 258.16,395.73 258.98,394.52 259.79,393.28 260.61,392.00 261.43,390.70 262.24,389.37 263.06,388.02 263.88,386.63 264.70,385.22 265.51,383.78 266.33,382.32 267.15,380.82 267.96,379.31 268.78,377.77 269.60,376.21 270.42,374.62 271.23,373.01 272.05,371.38 272.87,369.74 273.68,368.07 274.50,366.39 275.32,364.69 276.14,362.98 276.95,361.26 277.77,359.52 278.59,357.78 279.40,356.02 280.22,354.26 281.04,352.50 281.86,350.73 282.67,348.96 283.49,347.19 284.31,345.42 285.12,343.65 285.94,341.89 286.76,340.13 287.58,338.38 288.39,336.64 289.21,334.91 290.03,333.19 290.84,331.48 291.66,329.80 292.48,328.12 293.30,326.47 294.11,324.83 294.93,323.21 295.75,321.61 296.56,320.04 297.38,318.49 298.20,316.96 299.02,315.45 299.83,313.97 300.65,312.52 301.47,311.09 302.28,309.70 303.10,308.32 303.92,306.98 304.74,305.67 305.55,304.38 306.37,303.12 307.19,301.89 308.00,300.69 308.82,299.52 309.64,298.38 310.46,297.27 311.27,296.18 312.09,295.13 312.91,294.10 313.72,293.10" fill="none" stroke="#353535" stroke-width="1.3"/>
<circle cx="69.40" cy="431.60" r="3.4" fill="#111"/>
<circle cx="148.67" cy="420.46" r="2.85" fill="none" stroke="#111" stroke-width="1.2"/>
<path d="M210.72,403.01h6.0M210.72,413.65h6.0M213.72,403.01V404.93M213.72,411.73V413.65" stroke="#111" stroke-width="1.45" fill="none"/>
<circle cx="213.72" cy="408.33" r="2.85" fill="none" stroke="#111" stroke-width="1.2"/>
<circle cx="237.49" cy="383.24" r="2.85" fill="none" stroke="#111" stroke-width="1.2"/>
<circle cx="263.72" cy="330.05" r="2.85" fill="none" stroke="#111" stroke-width="1.2"/>
<circle cx="287.49" cy="286.51" r="2.85" fill="none" stroke="#111" stroke-width="1.2"/>
<circle cx="302.54" cy="274.37" r="2.85" fill="none" stroke="#111" stroke-width="1.2"/>
<circle cx="313.72" cy="266.73" r="2.85" fill="none" stroke="#111" stroke-width="1.2"/>
<path d="M160.72,421.79h6.0M160.72,425.12h6.0" stroke="#111" stroke-width="1.45" fill="none"/>
<circle cx="163.72" cy="423.46" r="3.4" fill="#111"/>
<circle cx="213.72" cy="424.62" r="3.4" fill="#111"/>
<circle cx="237.49" cy="417.31" r="3.4" fill="#111"/>
<path d="M260.72,382.90h6.0M260.72,391.55h6.0M263.72,382.90V383.82M263.72,390.62V391.55" stroke="#111" stroke-width="1.45" fill="none"/>
<circle cx="263.72" cy="387.22" r="3.4" fill="#111"/>
<circle cx="287.49" cy="339.36" r="3.4" fill="#111"/>
<circle cx="302.54" cy="309.78" r="3.4" fill="#111"/>
<circle cx="313.72" cy="291.16" r="3.4" fill="#111"/>
<text x="54.8" y="263.6" font-size="13.5" textLength="88.7" lengthAdjust="spacing">c) Tebuthiuron</text>
<line x1="408.5" y1="249.8" x2="408.5" y2="448.3" stroke="#8c8c8c" stroke-width="1.2"/>
<line x1="405.7" y1="432.60" x2="408.5" y2="432.60" stroke="#8c8c8c" stroke-width="1.1"/>
<line x1="402.9" y1="417.40" x2="408.5" y2="417.40" stroke="#8c8c8c" stroke-width="1.1"/>
<text x="400.3" y="422.00" text-anchor="end" font-size="12">0</text>
<line x1="405.7" y1="402.20" x2="408.5" y2="402.20" stroke="#8c8c8c" stroke-width="1.1"/>
<line x1="405.7" y1="387.00" x2="408.5" y2="387.00" stroke="#8c8c8c" stroke-width="1.1"/>
<line x1="405.7" y1="371.80" x2="408.5" y2="371.80" stroke="#8c8c8c" stroke-width="1.1"/>
<line x1="405.7" y1="356.60" x2="408.5" y2="356.60" stroke="#8c8c8c" stroke-width="1.1"/>
<line x1="402.9" y1="341.40" x2="408.5" y2="341.40" stroke="#8c8c8c" stroke-width="1.1"/>
<text x="400.3" y="346.00" text-anchor="end" font-size="12">50</text>
<line x1="405.7" y1="326.20" x2="408.5" y2="326.20" stroke="#8c8c8c" stroke-width="1.1"/>
<line x1="405.7" y1="311.00" x2="408.5" y2="311.00" stroke="#8c8c8c" stroke-width="1.1"/>
<line x1="405.7" y1="295.80" x2="408.5" y2="295.80" stroke="#8c8c8c" stroke-width="1.1"/>
<line x1="405.7" y1="280.60" x2="408.5" y2="280.60" stroke="#8c8c8c" stroke-width="1.1"/>
<line x1="402.9" y1="265.40" x2="408.5" y2="265.40" stroke="#8c8c8c" stroke-width="1.1"/>
<text x="400.3" y="270.00" text-anchor="end" font-size="12">100</text>
<line x1="405.7" y1="250.20" x2="408.5" y2="250.20" stroke="#8c8c8c" stroke-width="1.1"/>
<line x1="407.9" y1="447.7" x2="705.5" y2="447.7" stroke="#8c8c8c" stroke-width="1.2"/>
<line x1="430.70" y1="447.7" x2="430.70" y2="455" stroke="#8c8c8c" stroke-width="1.2"/>
<text x="430.70" y="468.5" text-anchor="middle" font-size="12">0</text>
<line x1="480.80" y1="447.7" x2="480.80" y2="455" stroke="#8c8c8c" stroke-width="1.2"/>
<text x="480.80" y="468.5" text-anchor="middle" font-size="12">572</text>
<line x1="530.90" y1="447.7" x2="530.90" y2="455" stroke="#8c8c8c" stroke-width="1.2"/>
<text x="530.90" y="468.5" text-anchor="middle" font-size="12">1144</text>
<line x1="581.00" y1="447.7" x2="581.00" y2="455" stroke="#8c8c8c" stroke-width="1.2"/>
<text x="581.00" y="468.5" text-anchor="middle" font-size="12">2287</text>
<line x1="631.10" y1="447.7" x2="631.10" y2="455" stroke="#8c8c8c" stroke-width="1.2"/>
<text x="631.10" y="468.5" text-anchor="middle" font-size="12">3431</text>
<line x1="681.20" y1="447.7" x2="681.20" y2="455" stroke="#8c8c8c" stroke-width="1.2"/>
<text x="681.20" y="468.5" text-anchor="middle" font-size="12">4575</text>
<g stroke="#151515" stroke-width="1.35" stroke-linejoin="round" fill="none"><path d="M421.00,413.75V410.70M418.15,410.70h5.7M421.00,421.25V423.30M418.15,423.30h5.7"/><rect x="415.05" y="413.75" width="11.90" height="7.50" rx="0.35" fill="#a4a4a4"/><line x1="415.05" y1="417.30" x2="426.95" y2="417.30"/></g>
<g stroke="#151515" stroke-width="1.35" stroke-linejoin="round" fill="none"><path d="M439.65,396.95V395.60M436.80,395.60h5.7M439.65,418.85V428.30M436.80,428.30h5.7"/><rect x="434.15" y="396.95" width="11.00" height="21.90" rx="0.35" fill="#fff"/><line x1="434.15" y1="401.90" x2="445.15" y2="401.90"/></g>
<g stroke="#151515" stroke-width="1.35" stroke-linejoin="round" fill="none"><path d="M471.45,412.60V411.30M468.60,411.30h5.7M471.45,420.10V420.50M468.60,420.50h5.7"/><rect x="465.65" y="412.60" width="11.60" height="7.50" rx="0.35" fill="#a4a4a4"/><line x1="465.65" y1="416.50" x2="477.25" y2="416.50"/></g>
<g stroke="#151515" stroke-width="1.35" stroke-linejoin="round" fill="none"><path d="M490.60,402.60V401.40M487.75,401.40h5.7M490.60,418.20V423.60M487.75,423.60h5.7"/><rect x="484.85" y="402.60" width="11.50" height="15.60" rx="0.35" fill="#fff"/><line x1="484.85" y1="406.30" x2="496.35" y2="406.30"/></g>
<g stroke="#151515" stroke-width="1.35" stroke-linejoin="round" fill="none"><path d="M521.65,409.60V408.60M518.80,408.60h5.7M521.65,415.30V418.40M518.80,418.40h5.7"/><rect x="515.85" y="409.60" width="11.60" height="5.70" rx="0.35" fill="#a4a4a4"/><line x1="515.85" y1="410.30" x2="527.45" y2="410.30"/></g>
<g stroke="#151515" stroke-width="1.35" stroke-linejoin="round" fill="none"><path d="M541.00,405.60V401.90M538.15,401.90h5.7M541.00,417.80V418.50M538.15,418.50h5.7"/><rect x="535.05" y="405.60" width="11.90" height="12.20" rx="0.35" fill="#fff"/><line x1="535.05" y1="409.30" x2="546.95" y2="409.30"/></g>
<g stroke="#151515" stroke-width="1.35" stroke-linejoin="round" fill="none"><path d="M572.35,410.60V409.80M569.50,409.80h5.7M572.35,415.30V417.30M569.50,417.30h5.7"/><rect x="566.65" y="410.60" width="11.40" height="4.70" rx="0.35" fill="#a4a4a4"/><line x1="566.65" y1="413.10" x2="578.05" y2="413.10"/></g>
<g stroke="#151515" stroke-width="1.35" stroke-linejoin="round" fill="none"><path d="M591.40,401.30V398.40M588.55,398.40h5.7M591.40,408.60V409.20M588.55,409.20h5.7"/><rect x="585.65" y="401.30" width="11.50" height="7.30" rx="0.35" fill="#fff"/><line x1="585.65" y1="407.60" x2="597.15" y2="407.60"/></g>
<g stroke="#151515" stroke-width="1.35" stroke-linejoin="round" fill="none"><path d="M622.50,410.30V408.90M619.65,408.90h5.7M622.50,415.00V415.60M619.65,415.60h5.7"/><rect x="616.85" y="410.30" width="11.30" height="4.70" rx="0.35" fill="#a4a4a4"/><line x1="616.85" y1="414.60" x2="628.15" y2="414.60"/></g>
<g stroke="#151515" stroke-width="1.35" stroke-linejoin="round" fill="none"><path d="M641.65,403.20V399.20M638.80,399.20h5.7M641.65,413.70V418.40M638.80,418.40h5.7"/><rect x="635.85" y="403.20" width="11.60" height="10.50" rx="0.35" fill="#fff"/><line x1="635.85" y1="409.30" x2="647.45" y2="409.30"/></g>
<g stroke="#151515" stroke-width="1.35" stroke-linejoin="round" fill="none"><path d="M673.30,405.20V397.70M670.45,397.70h5.7M673.30,414.20V414.80M670.45,414.80h5.7"/><rect x="667.55" y="405.20" width="11.50" height="9.00" rx="0.35" fill="#a4a4a4"/><line x1="667.55" y1="412.30" x2="679.05" y2="412.30"/></g>
<g stroke="#151515" stroke-width="1.35" stroke-linejoin="round" fill="none"><path d="M692.15,403.20V399.50M689.30,399.50h5.7M692.15,415.80V418.20M689.30,418.20h5.7"/><rect x="686.15" y="403.20" width="12.00" height="12.60" rx="0.35" fill="#fff"/><line x1="686.15" y1="412.90" x2="698.15" y2="412.90"/></g>
<text x="412.8" y="264.1" font-size="13.5" textLength="76.6" lengthAdjust="spacing">d) Haloxyfop</text>
<rect x="612.6" y="266.7" width="20.4" height="6.6" rx="0.35" fill="#a4a4a4" stroke="#1a1a1a" stroke-width="1.3"/>
<rect x="612.6" y="290.5" width="20.4" height="7.9" rx="0.35" fill="#fff" stroke="#1a1a1a" stroke-width="1.3"/>
<text x="645.3" y="274.8" font-size="13.6">SGR</text>
<path d="M646.30,299.10L649.60,291.50L652.90,299.10Z" fill="none" stroke="#111" stroke-width="1.05" stroke-linejoin="miter"/>
<text x="653.90" y="299.6" font-size="13.2" textLength="31.3" lengthAdjust="spacing">F/Fm'</text>
<text transform="translate(12.7,101.2) rotate(-90)" text-anchor="middle" font-size="14.5" textLength="150" lengthAdjust="spacing">Inhibition (% rel. cont.)</text>
<text transform="translate(12.7,349.9) rotate(-90)" text-anchor="middle" font-size="14.5" textLength="150" lengthAdjust="spacing">Inhibition (% rel. cont.)</text>
<text x="93.5" y="491.8" font-size="14.95">Herbicide concentration (μg L<tspan font-size="10" dx="1.1" dy="-6.2">-1</tspan><tspan dx="1.6" dy="6.2">)</tspan></text>
<text x="452.4" y="493.6" font-size="14.95">Herbicide concentration (μg L<tspan font-size="10" dx="1.1" dy="-6.2">-1</tspan><tspan dx="1.6" dy="6.2">)</tspan></text>
</svg></body></html>
